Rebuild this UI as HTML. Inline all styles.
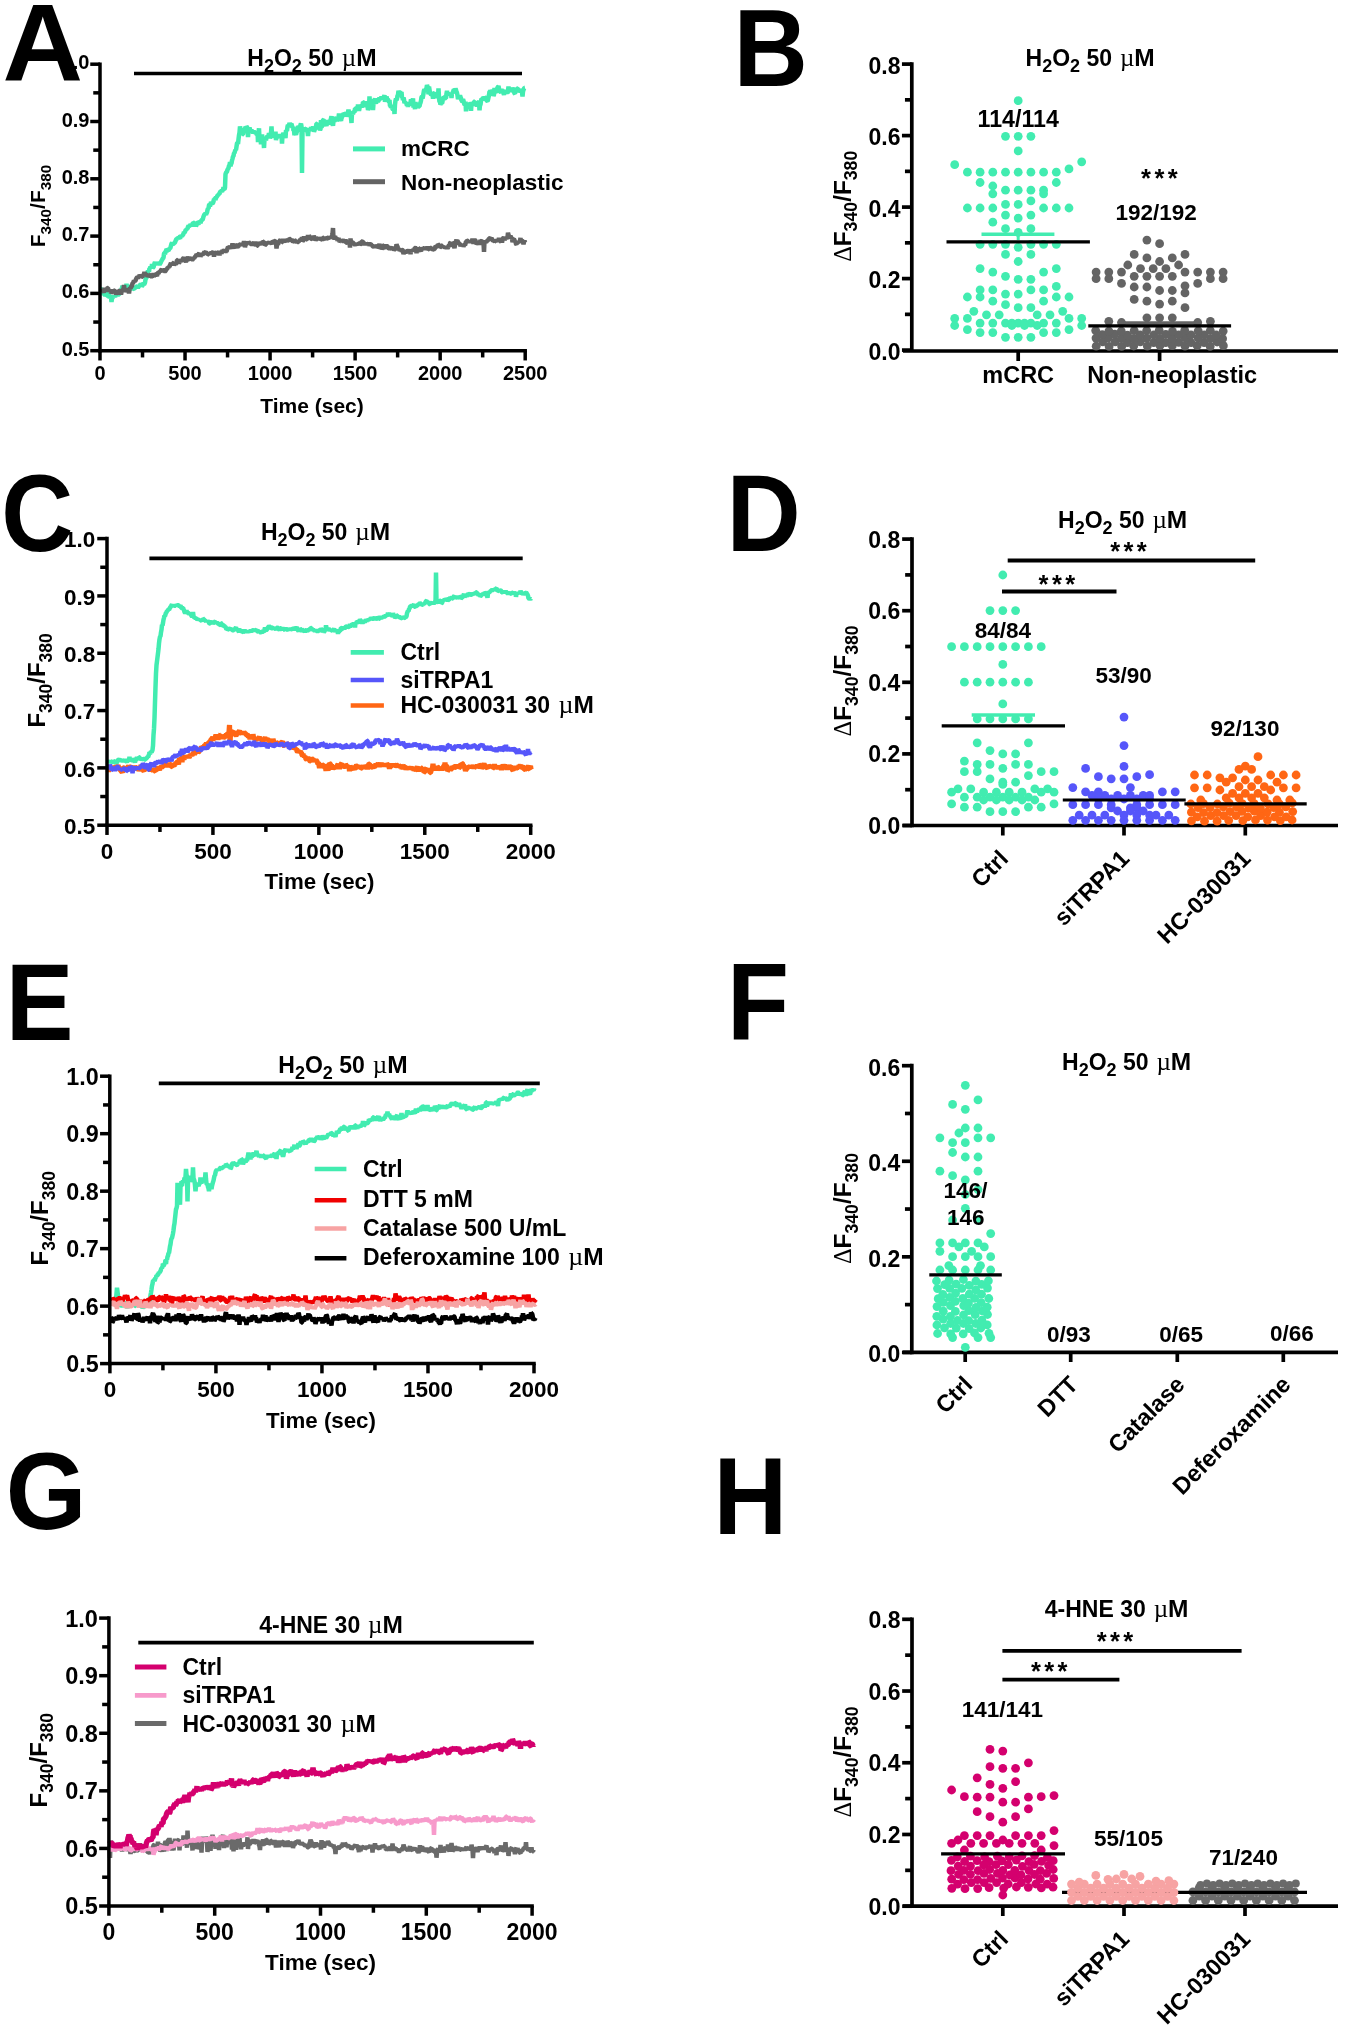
<!DOCTYPE html>
<html><head><meta charset="utf-8"><style>
html,body{margin:0;padding:0;background:#fff;}
svg{display:block;will-change:transform;}
text{font-family:"Liberation Sans", sans-serif;}
</style></head><body>
<svg width="1350" height="2030" viewBox="0 0 1350 2030">
<rect width="1350" height="2030" fill="#fff"/>
<path d="M101.0 288.8 101.5 288.5 102.0 290.3 102.5 290.1 103.0 292.8 103.5 295.1 104.0 292.9 104.5 294.7 105.0 295.1 105.5 293.8 106.0 292.7 106.5 292.4 107.0 296.5 107.5 295.7 108.0 296.4 108.5 295.7 109.0 293.1 109.5 298.3 110.0 297.2 110.5 295.9 111.0 297.2 111.5 302.0 112.0 298.3 112.5 298.5 113.0 296.5 113.5 297.0 114.0 296.0 114.5 296.9 115.0 295.5 115.5 296.1 116.0 295.5 116.5 296.0 117.0 293.7 117.5 294.2 118.0 293.6 118.5 293.7 119.0 294.5 119.5 294.5 120.0 290.8 120.5 292.8 121.0 290.4 121.5 288.9 122.0 288.1 122.5 285.6 123.0 287.2 123.5 287.1 124.0 287.9 124.5 287.3 125.0 288.4 125.5 288.0 126.0 288.8 126.5 283.7 127.0 287.7 127.5 289.7 128.0 289.8 128.5 289.3 129.0 288.4 129.5 288.8 130.0 287.3 130.5 286.9 131.0 285.0 131.5 286.8 132.0 287.2 132.5 287.1 133.0 290.5 133.5 287.1 134.0 288.9 134.5 289.2 135.0 287.6 135.5 288.3 136.0 286.6 136.5 286.6 137.0 287.1 137.5 286.6 138.0 287.7 138.5 286.9 139.0 285.9 139.5 285.9 140.0 284.7 140.5 284.7 141.0 283.9 141.5 284.7 142.0 286.2 142.5 285.7 143.0 284.1 143.5 283.0 144.0 284.7 144.5 283.7 145.0 282.7 145.5 279.6 146.0 278.3 146.5 277.7 147.0 276.0 147.5 272.7 148.0 270.6 148.5 271.2 149.0 271.7 149.5 268.0 150.0 268.6 150.5 266.5 151.0 267.3 151.5 268.5 152.0 264.0 152.5 268.0 153.0 267.5 153.5 267.3 154.0 265.5 154.5 263.3 155.0 262.1 155.5 263.9 156.0 264.0 156.5 263.1 157.0 264.5 157.5 262.5 158.0 263.0 158.5 264.7 159.0 263.7 159.5 265.0 160.0 263.6 160.5 263.3 161.0 262.0 161.5 260.7 162.0 260.1 162.5 258.9 163.0 258.4 163.5 257.8 164.0 253.9 164.5 252.7 165.0 254.2 165.5 251.8 166.0 251.0 166.5 249.2 167.0 249.7 167.5 250.6 168.0 250.4 168.5 250.6 169.0 249.5 169.5 248.5 170.0 248.5 170.5 247.6 171.0 245.5 171.5 243.7 172.0 243.2 172.5 244.8 173.0 244.0 173.5 243.9 174.0 243.2 174.5 243.0 175.0 242.5 175.5 241.1 176.0 239.8 176.5 239.0 177.0 238.9 177.5 238.3 178.0 238.1 178.5 239.0 179.0 237.4 179.5 237.2 180.0 238.6 180.5 236.7 181.0 235.2 181.5 236.2 182.0 236.7 182.5 235.1 183.0 234.8 183.5 233.7 184.0 231.7 184.5 232.4 185.0 231.9 185.5 230.4 186.0 229.7 186.5 229.8 187.0 228.4 187.5 229.0 188.0 226.7 188.5 226.2 189.0 226.9 189.5 225.5 190.0 226.0 190.5 224.1 191.0 224.9 191.5 226.3 192.0 224.2 192.5 224.9 193.0 222.5 193.5 222.7 194.0 224.1 194.5 224.9 195.0 226.3 195.5 224.1 196.0 225.8 196.5 225.2 197.0 223.5 197.5 222.0 198.0 222.3 198.5 223.6 199.0 223.1 199.5 222.9 200.0 221.4 200.5 223.4 201.0 221.0 201.5 220.4 202.0 219.9 202.5 219.7 203.0 218.6 203.5 216.5 204.0 215.3 204.5 214.4 205.0 214.1 205.5 213.3 206.0 214.7 206.5 213.2 207.0 212.5 207.5 210.0 208.0 208.3 208.5 208.6 209.0 205.2 209.5 204.2 210.0 205.9 210.5 204.9 211.0 202.0 211.5 203.1 212.0 203.3 212.5 203.5 213.0 203.0 213.5 201.6 214.0 199.0 214.5 199.2 215.0 198.3 215.5 200.2 216.0 196.6 216.5 197.0 217.0 196.7 217.5 195.1 218.0 195.4 218.5 194.5 219.0 193.9 219.5 193.9 220.0 192.2 220.5 191.4 221.0 191.3 221.5 190.8 222.0 191.8 222.5 190.4 223.0 189.6 223.5 187.1 224.0 189.2 224.5 189.3 225.0 187.6 225.5 174.2 226.0 172.7 226.5 172.2 227.0 171.7 227.5 169.4 228.0 169.0 228.5 168.0 229.0 165.8 229.5 165.3 230.0 162.0 230.5 166.4 231.0 163.8 231.5 163.3 232.0 160.4 232.5 158.8 233.0 156.5 233.5 156.0 234.0 153.1 234.5 152.9 235.0 151.0 235.5 149.8 236.0 150.0 236.5 146.7 237.0 143.4 237.5 142.7 238.0 144.1 238.5 139.3 239.0 135.3 239.5 132.8 240.0 126.4 240.5 129.0 241.0 130.4 241.5 131.4 242.0 131.6 242.5 134.3 243.0 134.2 243.5 131.2 244.0 129.9 244.5 129.6 245.0 129.2 245.5 126.8 246.0 128.9 246.5 126.6 247.0 127.1 247.5 128.4 248.0 137.0 248.5 130.8 249.0 128.8 249.5 127.4 250.0 129.5 250.5 130.5 251.0 131.9 251.5 130.2 252.0 131.0 252.5 132.0 253.0 132.6 253.5 130.5 254.0 133.4 254.5 132.8 255.0 132.7 255.5 132.8 256.0 133.4 256.5 132.6 257.0 135.3 257.5 131.0 258.0 142.1 258.5 133.4 259.0 128.3 259.5 139.0 260.0 138.4 260.5 137.6 261.0 144.4 261.5 138.9 262.0 134.5 262.5 137.6 263.0 139.7 263.5 139.5 264.0 148.0 264.5 139.0 265.0 139.6 265.5 138.5 266.0 140.3 266.5 137.0 267.0 137.3 267.5 135.8 268.0 137.9 268.5 135.5 269.0 133.2 269.5 135.8 270.0 137.9 270.5 137.0 271.0 132.6 271.5 126.5 272.0 135.1 272.5 134.2 273.0 133.8 273.5 134.2 274.0 137.6 274.5 136.8 275.0 136.5 275.5 131.6 276.0 140.2 276.5 136.0 277.0 137.2 277.5 137.1 278.0 136.3 278.5 136.6 279.0 137.5 279.5 136.0 280.0 134.2 280.5 136.9 281.0 136.8 281.5 135.1 282.0 143.6 282.5 135.0 283.0 134.3 283.5 132.9 284.0 135.4 284.5 137.1 285.0 135.1 285.5 138.0 286.0 130.3 286.5 130.5 287.0 131.1 287.5 126.7 288.0 125.0 288.5 126.3 289.0 126.6 289.5 122.8 290.0 124.7 290.5 124.2 291.0 124.6 291.5 123.7 292.0 125.9 292.5 127.7 293.0 126.8 293.5 130.8 294.0 130.5 294.5 135.2 295.0 129.4 295.5 133.7 296.0 134.6 296.5 132.7 297.0 131.3 297.5 128.2 298.0 126.2 298.5 126.8 299.0 128.2 299.5 130.2 300.0 130.1 300.5 124.8 301.0 123.7 301.5 126.5 302.0 172.9 302.5 130.4 303.0 129.1 303.5 129.5 304.0 127.5 304.5 129.5 305.0 128.5 305.5 130.0 306.0 128.8 306.5 128.5 307.0 131.6 307.5 131.6 308.0 136.1 308.5 130.3 309.0 131.1 309.5 129.5 310.0 129.9 310.5 129.9 311.0 127.1 311.5 128.4 312.0 128.3 312.5 128.4 313.0 128.0 313.5 126.7 314.0 131.8 314.5 130.3 315.0 128.9 315.5 127.5 316.0 126.3 316.5 123.7 317.0 123.6 317.5 127.1 318.0 124.4 318.5 127.0 319.0 129.1 319.5 128.6 320.0 130.1 320.5 129.0 321.0 120.2 321.5 127.1 322.0 126.3 322.5 122.3 323.0 120.1 323.5 119.8 324.0 121.2 324.5 122.1 325.0 123.9 325.5 124.1 326.0 124.3 326.5 126.1 327.0 120.0 327.5 124.2 328.0 120.7 328.5 122.5 329.0 123.5 329.5 123.1 330.0 119.8 330.5 120.6 331.0 118.3 331.5 116.2 332.0 119.9 332.5 121.7 333.0 125.9 333.5 120.7 334.0 119.7 334.5 121.6 335.0 119.9 335.5 118.4 336.0 117.4 336.5 118.3 337.0 117.4 337.5 119.8 338.0 119.7 338.5 117.9 339.0 113.4 339.5 121.1 340.0 118.8 340.5 118.6 341.0 120.8 341.5 118.0 342.0 117.4 342.5 115.7 343.0 116.3 343.5 113.1 344.0 113.6 344.5 114.7 345.0 113.3 345.5 114.9 346.0 114.1 346.5 113.9 347.0 116.7 347.5 114.8 348.0 112.2 348.5 109.7 349.0 112.6 349.5 111.7 350.0 115.9 350.5 112.2 351.0 117.9 351.5 123.0 352.0 112.9 352.5 112.8 353.0 114.2 353.5 112.4 354.0 111.6 354.5 112.5 355.0 108.6 355.5 108.6 356.0 110.1 356.5 110.5 357.0 108.1 357.5 109.9 358.0 104.4 358.5 108.9 359.0 110.7 359.5 108.3 360.0 106.3 360.5 105.0 361.0 106.2 361.5 105.7 362.0 106.5 362.5 106.0 363.0 102.1 363.5 102.3 364.0 107.0 364.5 104.3 365.0 104.1 365.5 107.2 366.0 101.1 366.5 104.3 367.0 102.9 367.5 105.2 368.0 109.9 368.5 108.7 369.0 107.8 369.5 96.4 370.0 104.3 370.5 99.6 371.0 107.9 371.5 99.9 372.0 100.7 372.5 103.1 373.0 110.0 373.5 103.4 374.0 101.8 374.5 100.3 375.0 98.4 375.5 102.5 376.0 103.7 376.5 100.2 377.0 100.3 377.5 100.0 378.0 101.5 378.5 100.7 379.0 100.0 379.5 97.3 380.0 99.5 380.5 98.4 381.0 98.6 381.5 96.6 382.0 97.8 382.5 98.0 383.0 99.1 383.5 97.3 384.0 96.7 384.5 95.1 385.0 101.9 385.5 98.6 386.0 99.3 386.5 96.6 387.0 98.5 387.5 99.1 388.0 99.2 388.5 101.3 389.0 101.6 389.5 99.9 390.0 106.0 390.5 106.0 391.0 107.4 391.5 106.4 392.0 107.1 392.5 109.0 393.0 109.5 393.5 106.6 394.0 105.9 394.5 114.0 395.0 104.4 395.5 100.5 396.0 98.7 396.5 99.8 397.0 98.9 397.5 95.5 398.0 95.1 398.5 90.7 399.0 94.0 399.5 94.6 400.0 91.4 400.5 93.2 401.0 93.5 401.5 92.0 402.0 97.6 402.5 97.6 403.0 100.1 403.5 97.6 404.0 99.6 404.5 103.1 405.0 101.8 405.5 103.0 406.0 102.4 406.5 103.9 407.0 105.5 407.5 104.5 408.0 106.8 408.5 104.3 409.0 104.1 409.5 102.5 410.0 105.6 410.5 102.6 411.0 99.4 411.5 101.4 412.0 101.8 412.5 102.7 413.0 98.3 413.5 107.6 414.0 103.5 414.5 104.7 415.0 109.2 415.5 101.9 416.0 107.9 416.5 106.4 417.0 106.9 417.5 106.4 418.0 105.8 418.5 106.6 419.0 106.5 419.5 106.4 420.0 103.9 420.5 102.6 421.0 100.7 421.5 97.0 422.0 96.5 422.5 98.4 423.0 96.5 423.5 93.3 424.0 90.4 424.5 89.4 425.0 90.3 425.5 90.6 426.0 89.3 426.5 88.1 427.0 85.0 427.5 86.6 428.0 89.1 428.5 94.4 429.0 86.6 429.5 89.6 430.0 93.2 430.5 93.6 431.0 95.0 431.5 94.8 432.0 94.4 432.5 93.7 433.0 98.8 433.5 93.3 434.0 93.1 434.5 94.0 435.0 94.1 435.5 98.1 436.0 95.3 436.5 95.1 437.0 95.0 437.5 94.5 438.0 96.8 438.5 88.3 439.0 97.7 439.5 101.6 440.0 102.0 440.5 104.5 441.0 103.4 441.5 103.3 442.0 103.6 442.5 101.5 443.0 96.7 443.5 98.4 444.0 97.2 444.5 97.2 445.0 97.4 445.5 98.2 446.0 98.2 446.5 93.6 447.0 90.9 447.5 94.8 448.0 93.7 448.5 94.9 449.0 93.5 449.5 92.9 450.0 95.1 450.5 95.0 451.0 93.2 451.5 98.0 452.0 92.5 452.5 93.1 453.0 92.1 453.5 90.5 454.0 89.5 454.5 91.5 455.0 90.4 455.5 88.6 456.0 90.0 456.5 91.5 457.0 92.9 457.5 95.4 458.0 99.1 458.5 97.2 459.0 96.6 459.5 97.0 460.0 95.4 460.5 97.2 461.0 98.3 461.5 100.8 462.0 100.7 462.5 102.3 463.0 99.2 463.5 100.7 464.0 103.3 464.5 104.6 465.0 104.5 465.5 101.7 466.0 111.3 466.5 105.4 467.0 107.4 467.5 104.4 468.0 104.6 468.5 104.4 469.0 103.0 469.5 109.1 470.0 104.0 470.5 103.6 471.0 110.9 471.5 104.3 472.0 102.3 472.5 104.3 473.0 102.3 473.5 105.5 474.0 101.6 474.5 101.5 475.0 104.3 475.5 105.1 476.0 102.9 476.5 103.7 477.0 106.5 477.5 102.8 478.0 103.1 478.5 102.3 479.0 102.0 479.5 110.4 480.0 105.1 480.5 104.6 481.0 100.9 481.5 98.7 482.0 98.9 482.5 100.4 483.0 98.3 483.5 97.4 484.0 97.9 484.5 98.4 485.0 98.5 485.5 97.8 486.0 97.8 486.5 100.2 487.0 100.8 487.5 101.1 488.0 99.8 488.5 97.5 489.0 95.0 489.5 91.7 490.0 91.5 490.5 92.9 491.0 94.5 491.5 91.7 492.0 93.3 492.5 89.6 493.0 93.9 493.5 95.8 494.0 94.7 494.5 87.9 495.0 92.4 495.5 91.8 496.0 92.9 496.5 89.1 497.0 89.7 497.5 87.1 498.0 87.1 498.5 85.9 499.0 88.6 499.5 91.7 500.0 91.7 500.5 90.9 501.0 90.6 501.5 89.2 502.0 90.5 502.5 89.7 503.0 91.7 503.5 93.3 504.0 94.7 504.5 93.1 505.0 92.1 505.5 91.7 506.0 89.9 506.5 93.0 507.0 92.4 507.5 93.3 508.0 91.3 508.5 86.5 509.0 91.6 509.5 90.5 510.0 90.1 510.5 89.0 511.0 88.5 511.5 91.4 512.0 89.2 512.5 88.0 513.0 89.0 513.5 92.1 514.0 91.9 514.5 93.3 515.0 93.8 515.5 90.3 516.0 89.5 516.5 89.7 517.0 88.5 517.5 88.5 518.0 88.4 518.5 90.6 519.0 90.9 519.5 90.8 520.0 89.1 520.5 90.3 521.0 90.5 521.5 89.3 522.0 91.8 522.5 96.6 523.0 91.5 523.5 89.9 524.0 88.5 524.5 87.9 525.0 87.8" fill="none" stroke="#42ECB0" stroke-width="4.5" stroke-linejoin="bevel"/>
<path d="M101.0 289.9 101.5 290.3 102.0 291.4 102.5 289.2 103.0 291.2 103.5 291.0 104.0 292.8 104.5 287.7 105.0 290.2 105.5 290.2 106.0 291.3 106.5 288.6 107.0 288.5 107.5 288.0 108.0 288.0 108.5 290.1 109.0 291.6 109.5 290.4 110.0 290.5 110.5 290.2 111.0 293.0 111.5 292.4 112.0 291.9 112.5 291.0 113.0 290.2 113.5 291.2 114.0 291.0 114.5 290.6 115.0 290.5 115.5 292.7 116.0 294.4 116.5 293.3 117.0 292.0 117.5 292.3 118.0 294.4 118.5 292.3 119.0 290.9 119.5 290.5 120.0 291.0 120.5 290.9 121.0 294.6 121.5 292.2 122.0 289.9 122.5 291.7 123.0 289.3 123.5 289.2 124.0 285.1 124.5 289.3 125.0 288.8 125.5 290.4 126.0 291.1 126.5 290.6 127.0 289.8 127.5 290.0 128.0 290.3 128.5 288.6 129.0 293.5 129.5 289.7 130.0 287.5 130.5 288.8 131.0 286.9 131.5 286.3 132.0 285.8 132.5 283.2 133.0 283.0 133.5 282.1 134.0 280.4 134.5 281.9 135.0 280.8 135.5 280.9 136.0 279.2 136.5 278.1 137.0 277.5 137.5 277.0 138.0 278.7 138.5 276.2 139.0 276.3 139.5 275.4 140.0 276.0 140.5 276.1 141.0 276.6 141.5 275.7 142.0 276.8 142.5 276.8 143.0 275.2 143.5 274.9 144.0 274.2 144.5 271.9 145.0 274.5 145.5 275.1 146.0 274.3 146.5 274.5 147.0 274.4 147.5 276.8 148.0 276.0 148.5 274.5 149.0 275.7 149.5 274.0 150.0 274.9 150.5 274.7 151.0 276.9 151.5 276.5 152.0 277.3 152.5 276.0 153.0 276.2 153.5 273.1 154.0 276.1 154.5 275.6 155.0 274.5 155.5 274.5 156.0 274.4 156.5 275.2 157.0 276.1 157.5 273.2 158.0 273.0 158.5 273.3 159.0 272.4 159.5 271.5 160.0 271.6 160.5 271.9 161.0 269.9 161.5 269.6 162.0 271.5 162.5 270.8 163.0 269.0 163.5 269.8 164.0 271.2 164.5 271.0 165.0 271.4 165.5 271.0 166.0 270.3 166.5 269.0 167.0 268.8 167.5 268.2 168.0 267.0 168.5 267.6 169.0 266.3 169.5 267.0 170.0 264.9 170.5 264.1 171.0 263.1 171.5 264.8 172.0 263.1 172.5 265.0 173.0 263.0 173.5 262.9 174.0 265.3 174.5 264.1 175.0 262.9 175.5 263.7 176.0 264.4 176.5 263.2 177.0 260.1 177.5 260.0 178.0 261.6 178.5 261.4 179.0 262.9 179.5 262.4 180.0 260.7 180.5 260.6 181.0 261.9 181.5 259.8 182.0 260.6 182.5 260.2 183.0 258.4 183.5 258.1 184.0 258.8 184.5 259.1 185.0 259.2 185.5 261.0 186.0 261.6 186.5 260.7 187.0 256.7 187.5 258.0 188.0 257.5 188.5 258.6 189.0 259.2 189.5 259.3 190.0 258.5 190.5 258.4 191.0 258.7 191.5 258.5 192.0 259.2 192.5 259.5 193.0 259.2 193.5 257.4 194.0 258.7 194.5 257.5 195.0 256.9 195.5 256.3 196.0 256.4 196.5 254.1 197.0 256.8 197.5 253.9 198.0 254.2 198.5 253.9 199.0 253.6 199.5 254.9 200.0 253.0 200.5 256.7 201.0 255.4 201.5 254.4 202.0 254.7 202.5 255.5 203.0 253.0 203.5 253.6 204.0 252.7 204.5 252.2 205.0 253.8 205.5 252.2 206.0 251.7 206.5 253.2 207.0 253.0 207.5 254.6 208.0 254.4 208.5 252.4 209.0 254.5 209.5 253.2 210.0 253.4 210.5 253.6 211.0 252.4 211.5 254.0 212.0 252.5 212.5 252.4 213.0 252.4 213.5 253.5 214.0 256.7 214.5 253.3 215.0 252.7 215.5 251.2 216.0 253.1 216.5 252.5 217.0 251.8 217.5 255.2 218.0 252.0 218.5 252.4 219.0 251.9 219.5 255.3 220.0 252.7 220.5 251.8 221.0 252.4 221.5 253.7 222.0 251.8 222.5 250.2 223.0 251.1 223.5 251.4 224.0 249.4 224.5 250.5 225.0 249.9 225.5 252.4 226.0 251.3 226.5 251.8 227.0 249.8 227.5 248.4 228.0 247.1 228.5 247.3 229.0 248.6 229.5 247.5 230.0 248.9 230.5 245.7 231.0 247.4 231.5 246.3 232.0 246.3 232.5 243.3 233.0 247.3 233.5 248.1 234.0 246.8 234.5 245.9 235.0 246.2 235.5 244.5 236.0 245.1 236.5 245.4 237.0 246.6 237.5 247.1 238.0 246.4 238.5 246.2 239.0 245.1 239.5 244.8 240.0 245.5 240.5 244.2 241.0 243.5 241.5 245.8 242.0 244.6 242.5 244.5 243.0 243.6 243.5 244.5 244.0 241.2 244.5 243.8 245.0 247.3 245.5 244.5 246.0 244.6 246.5 243.4 247.0 243.0 247.5 241.4 248.0 244.3 248.5 241.4 249.0 243.4 249.5 243.1 250.0 243.1 250.5 243.0 251.0 245.1 251.5 244.3 252.0 244.9 252.5 243.3 253.0 243.3 253.5 244.8 254.0 244.5 254.5 242.6 255.0 243.6 255.5 242.0 256.0 243.3 256.5 243.6 257.0 245.8 257.5 245.7 258.0 244.1 258.5 243.1 259.0 244.8 259.5 243.6 260.0 242.5 260.5 243.0 261.0 243.0 261.5 243.5 262.0 243.4 262.5 242.6 263.0 241.7 263.5 241.9 264.0 241.8 264.5 243.6 265.0 245.0 265.5 244.7 266.0 244.5 266.5 241.7 267.0 243.0 267.5 243.0 268.0 242.5 268.5 243.8 269.0 242.5 269.5 242.0 270.0 243.2 270.5 241.9 271.0 243.2 271.5 243.6 272.0 242.8 272.5 241.3 273.0 241.5 273.5 242.6 274.0 242.5 274.5 240.9 275.0 240.9 275.5 241.7 276.0 242.3 276.5 248.5 277.0 244.6 277.5 243.9 278.0 244.6 278.5 242.8 279.0 241.3 279.5 241.3 280.0 240.3 280.5 239.8 281.0 242.3 281.5 239.9 282.0 242.2 282.5 242.1 283.0 238.9 283.5 241.3 284.0 242.4 284.5 240.4 285.0 242.2 285.5 240.4 286.0 240.5 286.5 240.4 287.0 240.3 287.5 239.9 288.0 240.4 288.5 240.4 289.0 239.6 289.5 238.9 290.0 239.0 290.5 240.0 291.0 240.4 291.5 238.8 292.0 240.4 292.5 240.1 293.0 242.7 293.5 241.5 294.0 241.7 294.5 240.1 295.0 240.5 295.5 241.4 296.0 241.4 296.5 241.8 297.0 242.4 297.5 240.8 298.0 242.1 298.5 242.2 299.0 240.1 299.5 240.7 300.0 240.8 300.5 238.7 301.0 239.6 301.5 238.9 302.0 237.4 302.5 239.6 303.0 240.7 303.5 240.4 304.0 236.3 304.5 239.7 305.0 240.0 305.5 238.1 306.0 236.9 306.5 238.4 307.0 239.4 307.5 239.6 308.0 234.9 308.5 238.7 309.0 235.9 309.5 236.4 310.0 237.1 310.5 236.7 311.0 238.5 311.5 238.9 312.0 239.0 312.5 238.1 313.0 238.1 313.5 237.2 314.0 236.6 314.5 237.1 315.0 238.6 315.5 240.5 316.0 239.6 316.5 239.2 317.0 238.9 317.5 238.6 318.0 238.6 318.5 237.7 319.0 239.3 319.5 237.6 320.0 238.4 320.5 239.8 321.0 239.5 321.5 238.6 322.0 240.6 322.5 239.1 323.0 237.8 323.5 237.8 324.0 239.2 324.5 239.9 325.0 238.2 325.5 238.4 326.0 237.6 326.5 238.8 327.0 237.6 327.5 237.7 328.0 238.6 328.5 238.9 329.0 237.0 329.5 238.6 330.0 236.6 330.5 237.1 331.0 238.1 331.5 237.0 332.0 237.4 332.5 233.6 333.0 228.0 333.5 239.2 334.0 238.0 334.5 239.0 335.0 236.1 335.5 237.9 336.0 239.0 336.5 238.3 337.0 238.0 337.5 240.8 338.0 239.4 338.5 238.0 339.0 240.6 339.5 241.4 340.0 241.1 340.5 240.9 341.0 241.3 341.5 240.5 342.0 241.4 342.5 239.3 343.0 240.6 343.5 240.2 344.0 242.7 344.5 239.7 345.0 241.2 345.5 239.4 346.0 242.8 346.5 242.8 347.0 242.1 347.5 242.3 348.0 242.5 348.5 243.0 349.0 242.9 349.5 242.3 350.0 247.6 350.5 238.4 351.0 243.1 351.5 242.7 352.0 241.3 352.5 242.5 353.0 242.8 353.5 243.3 354.0 243.6 354.5 244.5 355.0 245.0 355.5 244.4 356.0 244.1 356.5 245.4 357.0 243.3 357.5 243.9 358.0 244.3 358.5 243.0 359.0 243.5 359.5 243.1 360.0 243.7 360.5 244.1 361.0 243.9 361.5 241.6 362.0 241.6 362.5 241.5 363.0 242.1 363.5 242.7 364.0 245.0 364.5 243.3 365.0 243.2 365.5 244.5 366.0 243.4 366.5 244.5 367.0 243.9 367.5 244.0 368.0 243.9 368.5 244.3 369.0 244.2 369.5 244.2 370.0 244.5 370.5 244.3 371.0 244.3 371.5 245.1 372.0 245.0 372.5 246.2 373.0 246.4 373.5 246.4 374.0 247.1 374.5 246.5 375.0 245.7 375.5 246.2 376.0 245.1 376.5 246.6 377.0 246.6 377.5 245.3 378.0 248.1 378.5 247.4 379.0 245.2 379.5 244.0 380.0 246.3 380.5 246.0 381.0 246.1 381.5 246.5 382.0 249.3 382.5 248.1 383.0 247.4 383.5 245.5 384.0 245.3 384.5 248.0 385.0 248.5 385.5 245.9 386.0 244.8 386.5 246.3 387.0 245.9 387.5 246.6 388.0 247.5 388.5 247.9 389.0 249.2 389.5 248.6 390.0 249.5 390.5 247.9 391.0 247.5 391.5 248.0 392.0 247.3 392.5 248.2 393.0 247.4 393.5 248.5 394.0 250.3 394.5 249.4 395.0 249.4 395.5 248.5 396.0 248.3 396.5 244.2 397.0 245.8 397.5 246.7 398.0 248.1 398.5 249.3 399.0 248.1 399.5 250.9 400.0 250.2 400.5 250.1 401.0 250.4 401.5 248.8 402.0 250.0 402.5 250.0 403.0 250.8 403.5 254.2 404.0 251.9 404.5 251.4 405.0 251.8 405.5 253.4 406.0 251.9 406.5 251.7 407.0 251.2 407.5 251.0 408.0 251.3 408.5 250.7 409.0 249.6 409.5 251.4 410.0 250.8 410.5 254.3 411.0 250.4 411.5 251.8 412.0 249.8 412.5 250.6 413.0 249.9 413.5 250.2 414.0 250.5 414.5 248.7 415.0 248.1 415.5 247.9 416.0 248.2 416.5 253.2 417.0 249.6 417.5 249.0 418.0 249.6 418.5 250.0 419.0 248.3 419.5 248.5 420.0 248.3 420.5 250.5 421.0 251.2 421.5 249.4 422.0 248.5 422.5 248.9 423.0 248.1 423.5 248.3 424.0 248.5 424.5 248.1 425.0 247.5 425.5 248.7 426.0 248.5 426.5 249.6 427.0 248.3 427.5 246.8 428.0 248.1 428.5 249.3 429.0 249.3 429.5 247.1 430.0 247.7 430.5 249.1 431.0 248.0 431.5 247.9 432.0 249.0 432.5 249.8 433.0 249.5 433.5 248.7 434.0 249.2 434.5 248.9 435.0 248.2 435.5 245.9 436.0 246.2 436.5 246.6 437.0 246.4 437.5 246.3 438.0 244.3 438.5 244.7 439.0 245.9 439.5 245.6 440.0 247.4 440.5 247.1 441.0 245.4 441.5 245.6 442.0 246.6 442.5 245.6 443.0 247.1 443.5 246.9 444.0 246.2 444.5 247.7 445.0 246.8 445.5 248.4 446.0 247.5 446.5 248.0 447.0 247.4 447.5 248.3 448.0 247.5 448.5 246.0 449.0 245.1 449.5 247.0 450.0 243.0 450.5 242.6 451.0 244.3 451.5 243.6 452.0 245.1 452.5 244.7 453.0 243.0 453.5 243.1 454.0 246.2 454.5 248.2 455.0 244.2 455.5 244.0 456.0 242.4 456.5 239.5 457.0 242.8 457.5 240.1 458.0 244.3 458.5 243.1 459.0 244.0 459.5 243.7 460.0 243.9 460.5 246.2 461.0 244.8 461.5 244.1 462.0 245.8 462.5 244.7 463.0 245.3 463.5 246.3 464.0 245.4 464.5 244.5 465.0 245.3 465.5 243.7 466.0 241.6 466.5 241.6 467.0 240.7 467.5 240.8 468.0 241.3 468.5 242.4 469.0 240.8 469.5 242.7 470.0 241.2 470.5 242.5 471.0 241.3 471.5 241.8 472.0 240.9 472.5 238.7 473.0 241.8 473.5 243.8 474.0 240.3 474.5 239.6 475.0 240.2 475.5 240.6 476.0 242.6 476.5 243.9 477.0 243.4 477.5 243.8 478.0 241.2 478.5 242.6 479.0 242.8 479.5 244.7 480.0 242.2 480.5 239.9 481.0 241.4 481.5 241.1 482.0 240.8 482.5 242.2 483.0 241.3 483.5 242.3 484.0 252.0 484.5 240.3 485.0 241.9 485.5 240.4 486.0 242.7 486.5 241.5 487.0 241.6 487.5 240.1 488.0 240.0 488.5 239.8 489.0 238.4 489.5 238.3 490.0 238.5 490.5 238.8 491.0 239.4 491.5 238.3 492.0 239.0 492.5 240.3 493.0 240.9 493.5 240.3 494.0 241.0 494.5 241.3 495.0 240.0 495.5 241.2 496.0 241.2 496.5 241.7 497.0 239.3 497.5 241.3 498.0 239.9 498.5 240.1 499.0 237.9 499.5 239.8 500.0 239.9 500.5 241.3 501.0 241.7 501.5 240.2 502.0 242.5 502.5 239.7 503.0 238.3 503.5 237.9 504.0 236.9 504.5 239.9 505.0 239.1 505.5 238.4 506.0 238.7 506.5 237.8 507.0 238.4 507.5 237.6 508.0 232.7 508.5 234.9 509.0 236.1 509.5 236.5 510.0 237.1 510.5 236.2 511.0 237.0 511.5 238.5 512.0 237.6 512.5 242.3 513.0 239.8 513.5 239.2 514.0 239.1 514.5 240.5 515.0 241.3 515.5 241.8 516.0 243.9 516.5 244.4 517.0 242.6 517.5 242.9 518.0 242.3 518.5 242.6 519.0 241.3 519.5 242.1 520.0 240.7 520.5 238.0 521.0 241.4 521.5 240.4 522.0 240.1 522.5 241.5 523.0 241.5 523.5 244.4 524.0 241.9 524.5 240.5 525.0 242.3" fill="none" stroke="#646464" stroke-width="4.5" stroke-linejoin="bevel"/>
<line x1="100.00" y1="62.45" x2="100.00" y2="352.45" stroke="#000" stroke-width="3.5" stroke-linecap="butt"/>
<line x1="90.25" y1="350.70" x2="100.00" y2="350.70" stroke="#000" stroke-width="3.5" stroke-linecap="butt"/>
<text x="89.5" y="355.7" font-size="20" text-anchor="end" font-weight="bold" >0.5</text>
<line x1="90.25" y1="293.40" x2="100.00" y2="293.40" stroke="#000" stroke-width="3.5" stroke-linecap="butt"/>
<text x="89.5" y="298.4" font-size="20" text-anchor="end" font-weight="bold" >0.6</text>
<line x1="90.25" y1="236.10" x2="100.00" y2="236.10" stroke="#000" stroke-width="3.5" stroke-linecap="butt"/>
<text x="89.5" y="241.1" font-size="20" text-anchor="end" font-weight="bold" >0.7</text>
<line x1="90.25" y1="178.80" x2="100.00" y2="178.80" stroke="#000" stroke-width="3.5" stroke-linecap="butt"/>
<text x="89.5" y="183.8" font-size="20" text-anchor="end" font-weight="bold" >0.8</text>
<line x1="90.25" y1="121.50" x2="100.00" y2="121.50" stroke="#000" stroke-width="3.5" stroke-linecap="butt"/>
<text x="89.5" y="126.5" font-size="20" text-anchor="end" font-weight="bold" >0.9</text>
<line x1="90.25" y1="64.20" x2="100.00" y2="64.20" stroke="#000" stroke-width="3.5" stroke-linecap="butt"/>
<text x="89.5" y="69.2" font-size="20" text-anchor="end" font-weight="bold" >1.0</text>
<line x1="93.25" y1="322.05" x2="100.00" y2="322.05" stroke="#000" stroke-width="3.5" stroke-linecap="butt"/>
<line x1="93.25" y1="264.75" x2="100.00" y2="264.75" stroke="#000" stroke-width="3.5" stroke-linecap="butt"/>
<line x1="93.25" y1="207.45" x2="100.00" y2="207.45" stroke="#000" stroke-width="3.5" stroke-linecap="butt"/>
<line x1="93.25" y1="150.15" x2="100.00" y2="150.15" stroke="#000" stroke-width="3.5" stroke-linecap="butt"/>
<line x1="93.25" y1="92.85" x2="100.00" y2="92.85" stroke="#000" stroke-width="3.5" stroke-linecap="butt"/>
<line x1="98.25" y1="350.70" x2="526.95" y2="350.70" stroke="#000" stroke-width="3.5" stroke-linecap="butt"/>
<line x1="100.00" y1="350.70" x2="100.00" y2="360.45" stroke="#000" stroke-width="3.5" stroke-linecap="butt"/>
<text x="100.0" y="380.3" font-size="20" text-anchor="middle" font-weight="bold" >0</text>
<line x1="185.04" y1="350.70" x2="185.04" y2="360.45" stroke="#000" stroke-width="3.5" stroke-linecap="butt"/>
<text x="185.0" y="380.3" font-size="20" text-anchor="middle" font-weight="bold" >500</text>
<line x1="270.08" y1="350.70" x2="270.08" y2="360.45" stroke="#000" stroke-width="3.5" stroke-linecap="butt"/>
<text x="270.1" y="380.3" font-size="20" text-anchor="middle" font-weight="bold" >1000</text>
<line x1="355.12" y1="350.70" x2="355.12" y2="360.45" stroke="#000" stroke-width="3.5" stroke-linecap="butt"/>
<text x="355.1" y="380.3" font-size="20" text-anchor="middle" font-weight="bold" >1500</text>
<line x1="440.16" y1="350.70" x2="440.16" y2="360.45" stroke="#000" stroke-width="3.5" stroke-linecap="butt"/>
<text x="440.2" y="380.3" font-size="20" text-anchor="middle" font-weight="bold" >2000</text>
<line x1="525.20" y1="350.70" x2="525.20" y2="360.45" stroke="#000" stroke-width="3.5" stroke-linecap="butt"/>
<text x="525.2" y="380.3" font-size="20" text-anchor="middle" font-weight="bold" >2500</text>
<line x1="142.52" y1="350.70" x2="142.52" y2="357.45" stroke="#000" stroke-width="3.5" stroke-linecap="butt"/>
<line x1="227.56" y1="350.70" x2="227.56" y2="357.45" stroke="#000" stroke-width="3.5" stroke-linecap="butt"/>
<line x1="312.60" y1="350.70" x2="312.60" y2="357.45" stroke="#000" stroke-width="3.5" stroke-linecap="butt"/>
<line x1="397.64" y1="350.70" x2="397.64" y2="357.45" stroke="#000" stroke-width="3.5" stroke-linecap="butt"/>
<line x1="482.68" y1="350.70" x2="482.68" y2="357.45" stroke="#000" stroke-width="3.5" stroke-linecap="butt"/>
<text x="312.0" y="412.5" font-size="21" text-anchor="middle" font-weight="bold" >Time (sec)</text>
<g transform="translate(45.0,206.0) rotate(-90)">
<text x="0.0" y="0.0" font-size="21" text-anchor="middle" font-weight="bold" >F<tspan font-size="15.3" dy="5.9">340</tspan><tspan dy="-5.9">/F</tspan><tspan font-size="15.3" dy="5.9">380</tspan></text>
</g>
<text x="247.3" y="66.0" font-size="23" text-anchor="start" font-weight="bold" >H<tspan font-size="18.0" dy="6.0">2</tspan><tspan dy="-6.0">O</tspan><tspan font-size="18.0" dy="6.0">2</tspan><tspan dy="-6.0"> 50 </tspan><tspan font-weight="normal" font-family="Liberation Serif, serif" font-size="25.0" dx="1.5">&#181;</tspan><tspan font-size="24.5">M</tspan></text>
<line x1="134.00" y1="73.50" x2="522.00" y2="73.50" stroke="#000" stroke-width="3.6" stroke-linecap="butt"/>
<line x1="353.00" y1="148.90" x2="385.00" y2="148.90" stroke="#42ECB0" stroke-width="5" stroke-linecap="butt"/>
<line x1="353.00" y1="181.70" x2="385.00" y2="181.70" stroke="#646464" stroke-width="5" stroke-linecap="butt"/>
<text x="401.0" y="156.2" font-size="22.5" text-anchor="start" font-weight="bold" >mCRC</text>
<text x="401.0" y="190.2" font-size="22.5" text-anchor="start" font-weight="bold" >Non-neoplastic</text>
<text transform="translate(2.42,80.00) scale(1.0255,1)" font-size="108.72" font-weight="bold">A</text>
<line x1="911.80" y1="62.25" x2="911.80" y2="351.95" stroke="#000" stroke-width="3.7" stroke-linecap="butt"/>
<line x1="901.95" y1="350.10" x2="911.80" y2="350.10" stroke="#000" stroke-width="3.7" stroke-linecap="butt"/>
<text x="900.5" y="359.8" font-size="23" text-anchor="end" font-weight="bold" >0.0</text>
<line x1="901.95" y1="278.60" x2="911.80" y2="278.60" stroke="#000" stroke-width="3.7" stroke-linecap="butt"/>
<text x="900.5" y="288.3" font-size="23" text-anchor="end" font-weight="bold" >0.2</text>
<line x1="901.95" y1="207.10" x2="911.80" y2="207.10" stroke="#000" stroke-width="3.7" stroke-linecap="butt"/>
<text x="900.5" y="216.8" font-size="23" text-anchor="end" font-weight="bold" >0.4</text>
<line x1="901.95" y1="135.60" x2="911.80" y2="135.60" stroke="#000" stroke-width="3.7" stroke-linecap="butt"/>
<text x="900.5" y="145.3" font-size="23" text-anchor="end" font-weight="bold" >0.6</text>
<line x1="901.95" y1="64.10" x2="911.80" y2="64.10" stroke="#000" stroke-width="3.7" stroke-linecap="butt"/>
<text x="900.5" y="73.8" font-size="23" text-anchor="end" font-weight="bold" >0.8</text>
<line x1="904.95" y1="314.35" x2="911.80" y2="314.35" stroke="#000" stroke-width="3.7" stroke-linecap="butt"/>
<line x1="904.95" y1="242.85" x2="911.80" y2="242.85" stroke="#000" stroke-width="3.7" stroke-linecap="butt"/>
<line x1="904.95" y1="171.35" x2="911.80" y2="171.35" stroke="#000" stroke-width="3.7" stroke-linecap="butt"/>
<line x1="904.95" y1="99.85" x2="911.80" y2="99.85" stroke="#000" stroke-width="3.7" stroke-linecap="butt"/>
<line x1="903.00" y1="351.00" x2="1338.00" y2="351.00" stroke="#000" stroke-width="3.7" stroke-linecap="butt"/>
<line x1="1018.20" y1="351.00" x2="1018.20" y2="361.00" stroke="#000" stroke-width="3.7" stroke-linecap="butt"/>
<line x1="1159.60" y1="351.00" x2="1159.60" y2="361.00" stroke="#000" stroke-width="3.7" stroke-linecap="butt"/>
<text x="1018.2" y="383.0" font-size="23.5" text-anchor="middle" font-weight="bold" >mCRC</text>
<text x="1172.2" y="382.6" font-size="23.5" text-anchor="middle" font-weight="bold" >Non-neoplastic</text>
<text x="1025.5" y="65.5" font-size="23" text-anchor="start" font-weight="bold" >H<tspan font-size="18.0" dy="6.0">2</tspan><tspan dy="-6.0">O</tspan><tspan font-size="18.0" dy="6.0">2</tspan><tspan dy="-6.0"> 50 </tspan><tspan font-weight="normal" font-family="Liberation Serif, serif" font-size="25.0" dx="1.5">&#181;</tspan><tspan font-size="24.5">M</tspan></text>
<text x="1018.2" y="127.2" font-size="23.2" text-anchor="middle" font-weight="bold" >114/114</text>
<text x="1161.1" y="186.5" font-size="25.5" text-anchor="middle" font-weight="bold" letter-spacing="3.4">***</text>
<text x="1156.1" y="219.6" font-size="22.5" text-anchor="middle" font-weight="bold" >192/192</text>
<g transform="translate(850.6,206.3) rotate(-90)">
<text x="0.0" y="0.0" font-size="24.3" text-anchor="middle" font-weight="bold" ><tspan font-weight="normal" font-family="Liberation Serif, serif">&#916;</tspan>F<tspan font-size="17.7" dy="6.8">340</tspan><tspan dy="-6.8">/F</tspan><tspan font-size="17.7" dy="6.8">380</tspan></text>
</g>
<text transform="translate(733.41,85.80) scale(0.9433,1)" font-size="109.16" font-weight="bold">B</text>
<circle cx="1018.2" cy="100.7" r="4.4" fill="#42ECB0"/>
<circle cx="1005.5" cy="136.3" r="4.4" fill="#42ECB0"/>
<circle cx="1018.2" cy="136.3" r="4.4" fill="#42ECB0"/>
<circle cx="1030.9" cy="136.3" r="4.4" fill="#42ECB0"/>
<circle cx="1018.2" cy="150.9" r="4.4" fill="#42ECB0"/>
<circle cx="954.7" cy="164.7" r="4.4" fill="#42ECB0"/>
<circle cx="1081.7" cy="161.8" r="4.4" fill="#42ECB0"/>
<circle cx="1069.0" cy="168.9" r="4.4" fill="#42ECB0"/>
<circle cx="967.4" cy="172.2" r="4.4" fill="#42ECB0"/>
<circle cx="980.1" cy="172.2" r="4.4" fill="#42ECB0"/>
<circle cx="992.8" cy="172.2" r="4.4" fill="#42ECB0"/>
<circle cx="1005.5" cy="172.2" r="4.4" fill="#42ECB0"/>
<circle cx="1018.2" cy="172.2" r="4.4" fill="#42ECB0"/>
<circle cx="1030.9" cy="172.2" r="4.4" fill="#42ECB0"/>
<circle cx="1043.6" cy="172.2" r="4.4" fill="#42ECB0"/>
<circle cx="1056.3" cy="172.2" r="4.4" fill="#42ECB0"/>
<circle cx="980.1" cy="182.5" r="4.4" fill="#42ECB0"/>
<circle cx="1056.3" cy="182.5" r="4.4" fill="#42ECB0"/>
<circle cx="992.8" cy="186.0" r="4.4" fill="#42ECB0"/>
<circle cx="1005.5" cy="190.2" r="4.4" fill="#42ECB0"/>
<circle cx="1018.2" cy="190.2" r="4.4" fill="#42ECB0"/>
<circle cx="1030.9" cy="190.2" r="4.4" fill="#42ECB0"/>
<circle cx="1043.6" cy="190.2" r="4.4" fill="#42ECB0"/>
<circle cx="992.8" cy="193.8" r="4.4" fill="#42ECB0"/>
<circle cx="1043.6" cy="193.8" r="4.4" fill="#42ECB0"/>
<circle cx="1030.9" cy="200.9" r="4.4" fill="#42ECB0"/>
<circle cx="1005.5" cy="204.4" r="4.4" fill="#42ECB0"/>
<circle cx="1018.2" cy="204.4" r="4.4" fill="#42ECB0"/>
<circle cx="967.4" cy="208.0" r="4.4" fill="#42ECB0"/>
<circle cx="980.1" cy="208.0" r="4.4" fill="#42ECB0"/>
<circle cx="992.8" cy="208.0" r="4.4" fill="#42ECB0"/>
<circle cx="1043.6" cy="208.0" r="4.4" fill="#42ECB0"/>
<circle cx="1056.3" cy="208.0" r="4.4" fill="#42ECB0"/>
<circle cx="1069.0" cy="208.0" r="4.4" fill="#42ECB0"/>
<circle cx="1005.5" cy="215.1" r="4.4" fill="#42ECB0"/>
<circle cx="1030.9" cy="215.1" r="4.4" fill="#42ECB0"/>
<circle cx="1018.2" cy="218.1" r="4.4" fill="#42ECB0"/>
<circle cx="992.8" cy="222.2" r="4.4" fill="#42ECB0"/>
<circle cx="1005.5" cy="228.7" r="4.4" fill="#42ECB0"/>
<circle cx="1030.9" cy="228.7" r="4.4" fill="#42ECB0"/>
<circle cx="1018.2" cy="232.3" r="4.4" fill="#42ECB0"/>
<circle cx="980.1" cy="244.3" r="4.4" fill="#42ECB0"/>
<circle cx="992.8" cy="244.3" r="4.4" fill="#42ECB0"/>
<circle cx="1005.5" cy="244.3" r="4.4" fill="#42ECB0"/>
<circle cx="1030.9" cy="244.3" r="4.4" fill="#42ECB0"/>
<circle cx="1043.6" cy="244.3" r="4.4" fill="#42ECB0"/>
<circle cx="1056.3" cy="244.3" r="4.4" fill="#42ECB0"/>
<circle cx="1018.2" cy="247.3" r="4.4" fill="#42ECB0"/>
<circle cx="1005.5" cy="254.4" r="4.4" fill="#42ECB0"/>
<circle cx="1030.9" cy="254.4" r="4.4" fill="#42ECB0"/>
<circle cx="1018.2" cy="261.5" r="4.4" fill="#42ECB0"/>
<circle cx="980.1" cy="268.6" r="4.4" fill="#42ECB0"/>
<circle cx="1056.3" cy="268.6" r="4.4" fill="#42ECB0"/>
<circle cx="992.8" cy="272.1" r="4.4" fill="#42ECB0"/>
<circle cx="1043.6" cy="272.1" r="4.4" fill="#42ECB0"/>
<circle cx="1005.5" cy="276.3" r="4.4" fill="#42ECB0"/>
<circle cx="1018.2" cy="279.3" r="4.4" fill="#42ECB0"/>
<circle cx="1030.9" cy="279.3" r="4.4" fill="#42ECB0"/>
<circle cx="1056.3" cy="286.4" r="4.4" fill="#42ECB0"/>
<circle cx="980.1" cy="289.9" r="4.4" fill="#42ECB0"/>
<circle cx="992.8" cy="289.9" r="4.4" fill="#42ECB0"/>
<circle cx="1030.9" cy="289.9" r="4.4" fill="#42ECB0"/>
<circle cx="1043.6" cy="289.9" r="4.4" fill="#42ECB0"/>
<circle cx="1005.5" cy="294.1" r="4.4" fill="#42ECB0"/>
<circle cx="1018.2" cy="294.1" r="4.4" fill="#42ECB0"/>
<circle cx="967.4" cy="297.0" r="4.4" fill="#42ECB0"/>
<circle cx="980.1" cy="297.0" r="4.4" fill="#42ECB0"/>
<circle cx="1056.3" cy="297.0" r="4.4" fill="#42ECB0"/>
<circle cx="1069.0" cy="297.0" r="4.4" fill="#42ECB0"/>
<circle cx="992.8" cy="301.2" r="4.4" fill="#42ECB0"/>
<circle cx="1043.6" cy="301.2" r="4.4" fill="#42ECB0"/>
<circle cx="1005.5" cy="304.7" r="4.4" fill="#42ECB0"/>
<circle cx="1018.2" cy="307.7" r="4.4" fill="#42ECB0"/>
<circle cx="1030.9" cy="307.7" r="4.4" fill="#42ECB0"/>
<circle cx="973.8" cy="311.3" r="4.4" fill="#42ECB0"/>
<circle cx="1062.7" cy="311.3" r="4.4" fill="#42ECB0"/>
<circle cx="986.5" cy="314.8" r="4.4" fill="#42ECB0"/>
<circle cx="999.2" cy="314.8" r="4.4" fill="#42ECB0"/>
<circle cx="1037.2" cy="314.8" r="4.4" fill="#42ECB0"/>
<circle cx="1050.0" cy="314.8" r="4.4" fill="#42ECB0"/>
<circle cx="954.7" cy="318.4" r="4.4" fill="#42ECB0"/>
<circle cx="967.4" cy="318.4" r="4.4" fill="#42ECB0"/>
<circle cx="1069.0" cy="318.4" r="4.4" fill="#42ECB0"/>
<circle cx="1081.7" cy="318.4" r="4.4" fill="#42ECB0"/>
<circle cx="980.1" cy="323.1" r="4.4" fill="#42ECB0"/>
<circle cx="992.8" cy="323.1" r="4.4" fill="#42ECB0"/>
<circle cx="1005.5" cy="323.1" r="4.4" fill="#42ECB0"/>
<circle cx="1011.9" cy="323.1" r="4.4" fill="#42ECB0"/>
<circle cx="1018.2" cy="323.1" r="4.4" fill="#42ECB0"/>
<circle cx="1024.5" cy="323.1" r="4.4" fill="#42ECB0"/>
<circle cx="1030.9" cy="323.1" r="4.4" fill="#42ECB0"/>
<circle cx="1043.6" cy="323.1" r="4.4" fill="#42ECB0"/>
<circle cx="1056.3" cy="323.1" r="4.4" fill="#42ECB0"/>
<circle cx="954.7" cy="325.5" r="4.4" fill="#42ECB0"/>
<circle cx="1081.7" cy="325.5" r="4.4" fill="#42ECB0"/>
<circle cx="1011.9" cy="325.5" r="4.4" fill="#42ECB0"/>
<circle cx="1024.5" cy="325.5" r="4.4" fill="#42ECB0"/>
<circle cx="1037.2" cy="325.5" r="4.4" fill="#42ECB0"/>
<circle cx="967.4" cy="329.6" r="4.4" fill="#42ECB0"/>
<circle cx="1069.0" cy="329.6" r="4.4" fill="#42ECB0"/>
<circle cx="980.1" cy="332.6" r="4.4" fill="#42ECB0"/>
<circle cx="992.8" cy="332.6" r="4.4" fill="#42ECB0"/>
<circle cx="1043.6" cy="332.6" r="4.4" fill="#42ECB0"/>
<circle cx="1056.3" cy="332.6" r="4.4" fill="#42ECB0"/>
<circle cx="1005.5" cy="337.3" r="4.4" fill="#42ECB0"/>
<circle cx="1018.2" cy="337.3" r="4.4" fill="#42ECB0"/>
<circle cx="1030.9" cy="337.3" r="4.4" fill="#42ECB0"/>
<circle cx="1146.9" cy="240.1" r="4.4" fill="#646464"/>
<circle cx="1159.6" cy="243.7" r="4.4" fill="#646464"/>
<circle cx="1134.2" cy="254.4" r="4.4" fill="#646464"/>
<circle cx="1185.0" cy="254.4" r="4.4" fill="#646464"/>
<circle cx="1146.9" cy="257.9" r="4.4" fill="#646464"/>
<circle cx="1172.3" cy="257.9" r="4.4" fill="#646464"/>
<circle cx="1159.6" cy="261.5" r="4.4" fill="#646464"/>
<circle cx="1127.8" cy="265.0" r="4.4" fill="#646464"/>
<circle cx="1178.6" cy="265.0" r="4.4" fill="#646464"/>
<circle cx="1140.5" cy="268.6" r="4.4" fill="#646464"/>
<circle cx="1153.2" cy="268.6" r="4.4" fill="#646464"/>
<circle cx="1165.9" cy="268.6" r="4.4" fill="#646464"/>
<circle cx="1096.1" cy="272.1" r="4.4" fill="#646464"/>
<circle cx="1108.8" cy="272.1" r="4.4" fill="#646464"/>
<circle cx="1121.5" cy="272.1" r="4.4" fill="#646464"/>
<circle cx="1185.0" cy="272.1" r="4.4" fill="#646464"/>
<circle cx="1197.7" cy="272.1" r="4.4" fill="#646464"/>
<circle cx="1210.4" cy="272.1" r="4.4" fill="#646464"/>
<circle cx="1223.1" cy="272.1" r="4.4" fill="#646464"/>
<circle cx="1134.2" cy="276.3" r="4.4" fill="#646464"/>
<circle cx="1146.9" cy="276.3" r="4.4" fill="#646464"/>
<circle cx="1159.6" cy="276.3" r="4.4" fill="#646464"/>
<circle cx="1172.3" cy="276.3" r="4.4" fill="#646464"/>
<circle cx="1096.1" cy="278.7" r="4.4" fill="#646464"/>
<circle cx="1108.8" cy="278.7" r="4.4" fill="#646464"/>
<circle cx="1210.4" cy="278.7" r="4.4" fill="#646464"/>
<circle cx="1223.1" cy="278.7" r="4.4" fill="#646464"/>
<circle cx="1121.5" cy="283.4" r="4.4" fill="#646464"/>
<circle cx="1197.7" cy="283.4" r="4.4" fill="#646464"/>
<circle cx="1185.0" cy="285.8" r="4.4" fill="#646464"/>
<circle cx="1134.2" cy="287.0" r="4.4" fill="#646464"/>
<circle cx="1146.9" cy="287.0" r="4.4" fill="#646464"/>
<circle cx="1159.6" cy="290.5" r="4.4" fill="#646464"/>
<circle cx="1172.3" cy="290.5" r="4.4" fill="#646464"/>
<circle cx="1185.0" cy="292.9" r="4.4" fill="#646464"/>
<circle cx="1134.2" cy="299.4" r="4.4" fill="#646464"/>
<circle cx="1146.9" cy="301.2" r="4.4" fill="#646464"/>
<circle cx="1172.3" cy="301.2" r="4.4" fill="#646464"/>
<circle cx="1159.6" cy="304.1" r="4.4" fill="#646464"/>
<circle cx="1185.0" cy="307.7" r="4.4" fill="#646464"/>
<circle cx="1146.9" cy="317.8" r="4.4" fill="#646464"/>
<circle cx="1159.6" cy="317.8" r="4.4" fill="#646464"/>
<circle cx="1172.3" cy="317.8" r="4.4" fill="#646464"/>
<circle cx="1108.8" cy="321.3" r="4.4" fill="#646464"/>
<circle cx="1210.4" cy="321.3" r="4.4" fill="#646464"/>
<circle cx="1121.5" cy="322.5" r="4.4" fill="#646464"/>
<circle cx="1197.7" cy="322.5" r="4.4" fill="#646464"/>
<circle cx="1096.2" cy="346.2" r="4.4" fill="#646464"/>
<circle cx="1109.1" cy="346.4" r="4.4" fill="#646464"/>
<circle cx="1121.7" cy="346.4" r="4.4" fill="#646464"/>
<circle cx="1133.7" cy="346.0" r="4.4" fill="#646464"/>
<circle cx="1147.3" cy="346.1" r="4.4" fill="#646464"/>
<circle cx="1160.0" cy="345.6" r="4.4" fill="#646464"/>
<circle cx="1172.3" cy="345.7" r="4.4" fill="#646464"/>
<circle cx="1185.0" cy="346.1" r="4.4" fill="#646464"/>
<circle cx="1197.2" cy="345.7" r="4.4" fill="#646464"/>
<circle cx="1210.2" cy="346.4" r="4.4" fill="#646464"/>
<circle cx="1223.4" cy="345.7" r="4.4" fill="#646464"/>
<circle cx="1102.7" cy="341.8" r="4.4" fill="#646464"/>
<circle cx="1115.3" cy="341.8" r="4.4" fill="#646464"/>
<circle cx="1127.4" cy="342.6" r="4.4" fill="#646464"/>
<circle cx="1140.3" cy="341.9" r="4.4" fill="#646464"/>
<circle cx="1153.7" cy="342.6" r="4.4" fill="#646464"/>
<circle cx="1165.7" cy="342.7" r="4.4" fill="#646464"/>
<circle cx="1178.7" cy="342.4" r="4.4" fill="#646464"/>
<circle cx="1191.1" cy="342.6" r="4.4" fill="#646464"/>
<circle cx="1204.2" cy="342.7" r="4.4" fill="#646464"/>
<circle cx="1217.1" cy="342.0" r="4.4" fill="#646464"/>
<circle cx="1096.0" cy="338.1" r="4.4" fill="#646464"/>
<circle cx="1108.4" cy="338.0" r="4.4" fill="#646464"/>
<circle cx="1121.3" cy="338.5" r="4.4" fill="#646464"/>
<circle cx="1133.7" cy="338.6" r="4.4" fill="#646464"/>
<circle cx="1146.7" cy="338.2" r="4.4" fill="#646464"/>
<circle cx="1159.9" cy="338.4" r="4.4" fill="#646464"/>
<circle cx="1172.1" cy="338.4" r="4.4" fill="#646464"/>
<circle cx="1185.2" cy="338.0" r="4.4" fill="#646464"/>
<circle cx="1198.2" cy="337.9" r="4.4" fill="#646464"/>
<circle cx="1210.6" cy="338.7" r="4.4" fill="#646464"/>
<circle cx="1222.6" cy="338.7" r="4.4" fill="#646464"/>
<circle cx="1102.3" cy="334.7" r="4.4" fill="#646464"/>
<circle cx="1114.7" cy="334.1" r="4.4" fill="#646464"/>
<circle cx="1127.5" cy="335.1" r="4.4" fill="#646464"/>
<circle cx="1140.2" cy="334.9" r="4.4" fill="#646464"/>
<circle cx="1153.7" cy="335.0" r="4.4" fill="#646464"/>
<circle cx="1165.8" cy="334.5" r="4.4" fill="#646464"/>
<circle cx="1178.7" cy="334.9" r="4.4" fill="#646464"/>
<circle cx="1191.0" cy="334.8" r="4.4" fill="#646464"/>
<circle cx="1204.3" cy="335.0" r="4.4" fill="#646464"/>
<circle cx="1216.3" cy="335.0" r="4.4" fill="#646464"/>
<circle cx="1095.7" cy="330.6" r="4.4" fill="#646464"/>
<circle cx="1108.9" cy="331.2" r="4.4" fill="#646464"/>
<circle cx="1121.3" cy="331.2" r="4.4" fill="#646464"/>
<circle cx="1134.2" cy="330.6" r="4.4" fill="#646464"/>
<circle cx="1146.7" cy="330.5" r="4.4" fill="#646464"/>
<circle cx="1159.2" cy="330.4" r="4.4" fill="#646464"/>
<circle cx="1172.5" cy="331.3" r="4.4" fill="#646464"/>
<circle cx="1184.7" cy="330.3" r="4.4" fill="#646464"/>
<circle cx="1198.2" cy="330.8" r="4.4" fill="#646464"/>
<circle cx="1210.3" cy="330.5" r="4.4" fill="#646464"/>
<circle cx="1223.2" cy="331.1" r="4.4" fill="#646464"/>
<line x1="981.50" y1="234.20" x2="1054.40" y2="234.20" stroke="#42ECB0" stroke-width="3.5" stroke-linecap="butt"/>
<line x1="1018.20" y1="231.00" x2="1018.20" y2="240.00" stroke="#42ECB0" stroke-width="3" stroke-linecap="butt"/>
<line x1="1123.90" y1="323.10" x2="1195.60" y2="323.10" stroke="#646464" stroke-width="3.5" stroke-linecap="butt"/>
<line x1="946.50" y1="241.90" x2="1089.90" y2="241.90" stroke="#000" stroke-width="3.2" stroke-linecap="butt"/>
<line x1="1088.30" y1="325.80" x2="1231.10" y2="325.80" stroke="#000" stroke-width="3.2" stroke-linecap="butt"/>
<text transform="translate(1.21,551.34) scale(0.9158,1)" font-size="108.90" font-weight="bold">C</text>
<path d="M108.0 762.9 108.5 761.7 109.0 761.3 109.5 761.8 110.0 761.3 110.5 761.8 111.0 762.6 111.5 762.0 112.0 761.5 112.5 761.3 113.0 763.1 113.5 761.2 114.0 761.4 114.5 762.2 115.0 762.5 115.5 761.6 116.0 762.8 116.5 763.5 117.0 761.6 117.5 760.5 118.0 760.1 118.5 761.0 119.0 759.5 119.5 758.9 120.0 760.1 120.5 760.3 121.0 760.6 121.5 760.0 122.0 759.5 122.5 760.8 123.0 761.4 123.5 760.5 124.0 760.4 124.5 760.1 125.0 760.6 125.5 760.8 126.0 760.9 126.5 761.6 127.0 762.4 127.5 760.6 128.0 760.3 128.5 759.8 129.0 760.0 129.5 756.9 130.0 760.8 130.5 760.4 131.0 759.8 131.5 759.6 132.0 760.2 132.5 760.1 133.0 759.5 133.5 759.9 134.0 759.3 134.5 760.1 135.0 762.8 135.5 759.3 136.0 760.5 136.5 758.8 137.0 757.3 137.5 758.6 138.0 758.8 138.5 759.0 139.0 757.2 139.5 757.3 140.0 759.2 140.5 759.0 141.0 758.7 141.5 760.4 142.0 759.3 142.5 759.2 143.0 759.7 143.5 759.0 144.0 758.4 144.5 758.7 145.0 759.6 145.5 759.7 146.0 757.5 146.5 758.0 147.0 757.7 147.5 756.7 148.0 757.2 148.5 755.9 149.0 754.3 149.5 752.3 150.0 753.9 150.5 752.5 151.0 751.5 151.5 752.3 152.0 751.2 152.5 750.1 153.0 745.8 153.5 735.0 154.0 728.7 154.5 718.1 155.0 702.4 155.5 687.0 156.0 673.4 156.5 665.1 157.0 661.2 157.5 657.2 158.0 653.2 158.5 649.1 159.0 643.3 159.5 639.3 160.0 636.7 160.5 636.3 161.0 632.3 161.5 629.7 162.0 624.8 162.5 625.5 163.0 623.0 163.5 619.7 164.0 617.8 164.5 615.6 165.0 616.0 165.5 614.3 166.0 612.6 166.5 612.6 167.0 610.9 167.5 611.2 168.0 609.6 168.5 609.5 169.0 610.0 169.5 608.8 170.0 607.8 170.5 607.0 171.0 606.2 171.5 605.3 172.0 604.5 172.5 606.6 173.0 604.4 173.5 607.0 174.0 605.3 174.5 606.1 175.0 605.8 175.5 606.1 176.0 604.7 176.5 605.2 177.0 605.6 177.5 605.0 178.0 605.2 178.5 605.4 179.0 605.8 179.5 606.1 180.0 606.1 180.5 605.1 181.0 607.9 181.5 608.0 182.0 607.2 182.5 607.9 183.0 607.7 183.5 609.1 184.0 609.9 184.5 612.1 185.0 612.7 185.5 611.8 186.0 611.8 186.5 610.0 187.0 613.8 187.5 612.4 188.0 613.9 188.5 613.2 189.0 613.4 189.5 614.6 190.0 613.1 190.5 613.8 191.0 614.6 191.5 615.8 192.0 616.3 192.5 615.6 193.0 612.0 193.5 616.2 194.0 617.1 194.5 617.9 195.0 617.8 195.5 618.2 196.0 617.8 196.5 618.9 197.0 619.0 197.5 620.0 198.0 619.0 198.5 619.7 199.0 619.0 199.5 620.5 200.0 619.2 200.5 620.4 201.0 620.5 201.5 620.7 202.0 619.6 202.5 620.0 203.0 618.7 203.5 619.0 204.0 619.1 204.5 621.2 205.0 620.6 205.5 620.8 206.0 622.0 206.5 620.7 207.0 621.8 207.5 620.5 208.0 621.6 208.5 620.8 209.0 622.9 209.5 623.4 210.0 623.4 210.5 622.4 211.0 622.2 211.5 622.1 212.0 622.5 212.5 622.6 213.0 622.2 213.5 622.8 214.0 622.7 214.5 621.9 215.0 621.7 215.5 622.5 216.0 622.0 216.5 623.0 217.0 622.7 217.5 623.1 218.0 623.5 218.5 624.1 219.0 624.1 219.5 625.0 220.0 624.9 220.5 624.5 221.0 623.2 221.5 623.4 222.0 626.1 222.5 625.8 223.0 624.9 223.5 625.4 224.0 626.1 224.5 626.1 225.0 626.6 225.5 626.6 226.0 628.2 226.5 629.3 227.0 628.7 227.5 630.0 228.0 629.6 228.5 627.8 229.0 629.6 229.5 628.7 230.0 628.5 230.5 629.0 231.0 628.9 231.5 629.6 232.0 629.6 232.5 630.3 233.0 630.4 233.5 630.2 234.0 629.0 234.5 629.1 235.0 629.1 235.5 628.1 236.0 627.4 236.5 629.4 237.0 630.5 237.5 629.4 238.0 630.0 238.5 631.3 239.0 631.9 239.5 630.2 240.0 630.2 240.5 630.2 241.0 630.9 241.5 631.0 242.0 632.1 242.5 631.9 243.0 631.1 243.5 631.9 244.0 631.7 244.5 629.4 245.0 631.5 245.5 632.2 246.0 630.1 246.5 633.0 247.0 630.9 247.5 631.8 248.0 631.3 248.5 632.4 249.0 631.3 249.5 631.4 250.0 630.7 250.5 631.1 251.0 630.2 251.5 630.9 252.0 630.8 252.5 630.3 253.0 630.3 253.5 630.4 254.0 629.5 254.5 630.4 255.0 630.0 255.5 630.4 256.0 629.9 256.5 629.6 257.0 631.4 257.5 631.4 258.0 631.1 258.5 631.3 259.0 631.6 259.5 630.9 260.0 632.1 260.5 632.3 261.0 632.3 261.5 631.8 262.0 631.8 262.5 631.3 263.0 631.8 263.5 631.7 264.0 632.0 264.5 629.5 265.0 627.7 265.5 629.5 266.0 630.5 266.5 630.0 267.0 629.6 267.5 628.2 268.0 627.7 268.5 626.8 269.0 626.2 269.5 626.6 270.0 628.4 270.5 627.7 271.0 628.2 271.5 628.1 272.0 627.5 272.5 627.4 273.0 628.2 273.5 628.5 274.0 628.0 274.5 628.7 275.0 627.2 275.5 628.9 276.0 629.4 276.5 628.4 277.0 627.7 277.5 627.6 278.0 628.0 278.5 629.2 279.0 629.2 279.5 630.3 280.0 629.1 280.5 629.4 281.0 628.2 281.5 628.0 282.0 629.4 282.5 629.0 283.0 628.5 283.5 627.6 284.0 629.6 284.5 629.7 285.0 630.0 285.5 627.4 286.0 629.7 286.5 628.9 287.0 630.0 287.5 629.7 288.0 630.7 288.5 628.1 289.0 629.5 289.5 628.5 290.0 629.1 290.5 629.7 291.0 628.8 291.5 629.2 292.0 629.2 292.5 628.3 293.0 628.5 293.5 629.3 294.0 628.6 294.5 628.8 295.0 628.6 295.5 628.0 296.0 628.2 296.5 626.7 297.0 628.7 297.5 629.6 298.0 630.4 298.5 631.0 299.0 630.0 299.5 629.9 300.0 628.6 300.5 629.1 301.0 630.9 301.5 630.5 302.0 631.7 302.5 629.9 303.0 630.0 303.5 631.5 304.0 631.0 304.5 631.1 305.0 632.0 305.5 631.1 306.0 630.2 306.5 629.9 307.0 630.5 307.5 630.9 308.0 630.4 308.5 629.6 309.0 629.8 309.5 629.3 310.0 628.9 310.5 628.5 311.0 628.0 311.5 628.0 312.0 630.3 312.5 629.3 313.0 629.2 313.5 630.9 314.0 630.3 314.5 630.4 315.0 631.9 315.5 629.2 316.0 631.2 316.5 630.0 317.0 631.2 317.5 631.6 318.0 631.2 318.5 629.7 319.0 630.3 319.5 630.1 320.0 630.2 320.5 629.9 321.0 628.8 321.5 629.4 322.0 630.0 322.5 630.7 323.0 631.5 323.5 630.9 324.0 632.0 324.5 631.4 325.0 628.6 325.5 630.5 326.0 625.3 326.5 628.1 327.0 629.3 327.5 629.8 328.0 629.2 328.5 628.0 329.0 629.4 329.5 630.7 330.0 629.4 330.5 631.1 331.0 629.3 331.5 630.5 332.0 630.6 332.5 629.8 333.0 630.1 333.5 629.6 334.0 628.7 334.5 630.0 335.0 632.0 335.5 630.8 336.0 630.7 336.5 630.5 337.0 631.0 337.5 630.9 338.0 633.9 338.5 630.4 339.0 631.6 339.5 630.9 340.0 630.8 340.5 629.7 341.0 627.9 341.5 627.9 342.0 628.9 342.5 628.9 343.0 628.8 343.5 629.2 344.0 626.4 344.5 628.7 345.0 628.0 345.5 626.9 346.0 626.6 346.5 626.6 347.0 626.9 347.5 627.2 348.0 626.4 348.5 627.1 349.0 627.1 349.5 625.8 350.0 624.3 350.5 626.0 351.0 625.8 351.5 624.8 352.0 624.6 352.5 626.4 353.0 624.2 353.5 623.5 354.0 623.9 354.5 622.9 355.0 627.4 355.5 622.5 356.0 622.7 356.5 622.3 357.0 622.9 357.5 623.5 358.0 620.7 358.5 621.1 359.0 620.9 359.5 621.1 360.0 619.5 360.5 620.2 361.0 622.0 361.5 622.3 362.0 621.9 362.5 623.1 363.0 622.3 363.5 621.9 364.0 621.7 364.5 621.2 365.0 621.7 365.5 621.1 366.0 619.3 366.5 620.3 367.0 621.3 367.5 620.2 368.0 619.6 368.5 620.0 369.0 619.4 369.5 620.0 370.0 618.5 370.5 619.2 371.0 617.4 371.5 618.2 372.0 618.5 372.5 618.7 373.0 618.7 373.5 618.7 374.0 618.1 374.5 617.5 375.0 618.3 375.5 619.6 376.0 619.0 376.5 618.8 377.0 618.4 377.5 617.0 378.0 617.5 378.5 618.0 379.0 617.2 379.5 618.8 380.0 618.9 380.5 615.8 381.0 617.6 381.5 617.9 382.0 617.6 382.5 617.9 383.0 616.9 383.5 616.8 384.0 617.2 384.5 616.7 385.0 616.4 385.5 616.0 386.0 615.0 386.5 615.5 387.0 615.7 387.5 614.6 388.0 612.9 388.5 616.1 389.0 614.4 389.5 613.9 390.0 614.3 390.5 613.6 391.0 615.0 391.5 615.3 392.0 615.6 392.5 616.0 393.0 613.2 393.5 614.8 394.0 615.4 394.5 616.7 395.0 617.3 395.5 617.0 396.0 617.1 396.5 616.5 397.0 615.6 397.5 615.6 398.0 617.1 398.5 616.9 399.0 616.4 399.5 617.0 400.0 618.1 400.5 617.9 401.0 617.7 401.5 618.1 402.0 618.2 402.5 617.1 403.0 617.5 403.5 616.9 404.0 618.1 404.5 617.9 405.0 617.4 405.5 617.8 406.0 616.8 406.5 616.3 407.0 613.3 407.5 612.0 408.0 610.9 408.5 611.2 409.0 608.9 409.5 608.8 410.0 606.9 410.5 606.1 411.0 606.0 411.5 606.3 412.0 606.8 412.5 605.8 413.0 606.8 413.5 605.1 414.0 604.2 414.5 607.0 415.0 606.8 415.5 607.3 416.0 605.5 416.5 606.0 417.0 605.9 417.5 605.1 418.0 604.8 418.5 605.4 419.0 604.2 419.5 603.6 420.0 603.1 420.5 603.4 421.0 605.0 421.5 603.0 422.0 604.4 422.5 604.8 423.0 604.9 423.5 603.6 424.0 604.6 424.5 603.2 425.0 603.1 425.5 602.3 426.0 601.1 426.5 600.8 427.0 601.7 427.5 601.6 428.0 602.7 428.5 601.4 429.0 602.8 429.5 604.2 430.0 604.4 430.5 602.9 431.0 602.4 431.5 603.6 432.0 603.0 432.5 602.8 433.0 604.2 433.5 601.9 434.0 603.1 434.5 602.8 435.0 602.2 435.5 603.8 436.0 572.6 436.5 602.2 437.0 601.9 437.5 602.0 438.0 602.1 438.5 603.1 439.0 601.5 439.5 600.7 440.0 600.8 440.5 601.4 441.0 601.2 441.5 603.3 442.0 603.0 442.5 601.8 443.0 600.1 443.5 600.2 444.0 600.0 444.5 600.1 445.0 598.8 445.5 599.9 446.0 599.7 446.5 598.8 447.0 599.2 447.5 600.7 448.0 600.1 448.5 599.9 449.0 599.9 449.5 598.6 450.0 598.2 450.5 597.2 451.0 598.0 451.5 597.7 452.0 598.7 452.5 598.4 453.0 598.6 453.5 596.6 454.0 596.3 454.5 597.2 455.0 598.2 455.5 597.5 456.0 597.1 456.5 597.4 457.0 597.4 457.5 597.9 458.0 597.4 458.5 597.4 459.0 597.6 459.5 596.1 460.0 596.6 460.5 597.3 461.0 598.4 461.5 598.0 462.0 597.2 462.5 597.3 463.0 596.7 463.5 595.2 464.0 593.9 464.5 597.1 465.0 596.3 465.5 597.0 466.0 595.1 466.5 595.8 467.0 596.6 467.5 594.9 468.0 593.6 468.5 593.9 469.0 594.3 469.5 593.8 470.0 594.2 470.5 594.5 471.0 594.8 471.5 594.8 472.0 594.2 472.5 594.2 473.0 593.5 473.5 593.7 474.0 593.9 474.5 593.4 475.0 593.4 475.5 593.6 476.0 592.3 476.5 592.3 477.0 593.3 477.5 593.6 478.0 593.6 478.5 595.6 479.0 595.0 479.5 595.3 480.0 595.2 480.5 596.1 481.0 595.8 481.5 594.5 482.0 594.5 482.5 595.3 483.0 593.5 483.5 594.0 484.0 593.8 484.5 592.9 485.0 593.1 485.5 593.5 486.0 594.5 486.5 595.0 487.0 595.5 487.5 597.8 488.0 592.8 488.5 591.9 489.0 592.4 489.5 592.4 490.0 591.6 490.5 591.6 491.0 590.1 491.5 590.3 492.0 589.7 492.5 590.2 493.0 589.9 493.5 590.0 494.0 588.9 494.5 589.6 495.0 589.2 495.5 589.2 496.0 588.6 496.5 588.3 497.0 589.5 497.5 591.1 498.0 590.9 498.5 589.7 499.0 591.1 499.5 590.8 500.0 590.6 500.5 590.5 501.0 590.8 501.5 591.4 502.0 592.5 502.5 592.5 503.0 593.1 503.5 591.3 504.0 592.4 504.5 591.8 505.0 592.6 505.5 590.5 506.0 592.4 506.5 592.3 507.0 592.7 507.5 593.2 508.0 594.1 508.5 592.9 509.0 593.2 509.5 592.6 510.0 593.9 510.5 593.7 511.0 593.4 511.5 592.5 512.0 592.7 512.5 593.3 513.0 593.8 513.5 592.4 514.0 593.4 514.5 592.9 515.0 593.2 515.5 592.7 516.0 596.8 516.5 594.2 517.0 593.2 517.5 592.4 518.0 593.4 518.5 593.9 519.0 592.2 519.5 592.9 520.0 593.3 520.5 590.7 521.0 592.4 521.5 593.0 522.0 593.9 522.5 593.4 523.0 594.6 523.5 593.7 524.0 594.9 524.5 592.2 525.0 592.7 525.5 594.0 526.0 592.3 526.5 593.1 527.0 593.8 527.5 594.8 528.0 595.6 528.5 598.4 529.0 598.6 529.5 599.4 530.0 598.7 530.5 599.2 531.0 598.4" fill="none" stroke="#42ECB0" stroke-width="4.5" stroke-linejoin="bevel"/>
<path d="M108.0 769.8 108.5 771.4 109.0 769.7 109.5 769.0 110.0 769.2 110.5 768.3 111.0 768.1 111.5 766.5 112.0 768.1 112.5 768.1 113.0 767.9 113.5 766.9 114.0 767.2 114.5 768.0 115.0 768.0 115.5 768.6 116.0 768.1 116.5 768.3 117.0 767.9 117.5 766.3 118.0 765.4 118.5 766.9 119.0 768.6 119.5 768.0 120.0 768.2 120.5 770.7 121.0 770.9 121.5 771.5 122.0 771.9 122.5 772.7 123.0 769.3 123.5 768.2 124.0 767.8 124.5 767.8 125.0 766.7 125.5 768.5 126.0 767.6 126.5 768.3 127.0 768.7 127.5 769.6 128.0 766.9 128.5 766.4 129.0 767.1 129.5 767.3 130.0 769.1 130.5 767.6 131.0 766.8 131.5 766.4 132.0 767.8 132.5 767.6 133.0 767.8 133.5 768.9 134.0 769.1 134.5 767.6 135.0 766.5 135.5 767.2 136.0 768.4 136.5 768.8 137.0 767.2 137.5 768.9 138.0 769.1 138.5 768.8 139.0 771.0 139.5 769.0 140.0 769.4 140.5 768.4 141.0 765.0 141.5 769.6 142.0 768.3 142.5 768.3 143.0 768.5 143.5 770.7 144.0 771.3 144.5 768.7 145.0 767.4 145.5 765.5 146.0 767.0 146.5 767.1 147.0 768.9 147.5 768.4 148.0 767.2 148.5 768.6 149.0 769.6 149.5 768.9 150.0 770.6 150.5 769.8 151.0 771.2 151.5 769.6 152.0 770.1 152.5 768.7 153.0 769.4 153.5 772.0 154.0 769.6 154.5 770.1 155.0 771.1 155.5 771.4 156.0 768.2 156.5 769.0 157.0 768.9 157.5 769.0 158.0 766.2 158.5 769.0 159.0 769.0 159.5 770.2 160.0 767.9 160.5 766.6 161.0 767.1 161.5 766.3 162.0 767.1 162.5 766.7 163.0 765.4 163.5 766.8 164.0 765.6 164.5 761.9 165.0 765.4 165.5 765.5 166.0 766.8 166.5 764.3 167.0 764.7 167.5 767.1 168.0 765.0 168.5 765.2 169.0 763.2 169.5 764.3 170.0 764.6 170.5 765.6 171.0 765.5 171.5 766.5 172.0 766.6 172.5 765.0 173.0 764.7 173.5 765.7 174.0 766.3 174.5 764.3 175.0 764.7 175.5 762.9 176.0 763.6 176.5 762.5 177.0 762.3 177.5 762.1 178.0 762.7 178.5 764.5 179.0 760.1 179.5 758.5 180.0 760.0 180.5 760.4 181.0 757.7 181.5 757.9 182.0 762.3 182.5 756.3 183.0 756.9 183.5 757.1 184.0 758.8 184.5 758.0 185.0 755.1 185.5 757.4 186.0 756.7 186.5 757.3 187.0 756.5 187.5 757.6 188.0 755.2 188.5 755.9 189.0 757.7 189.5 756.7 190.0 755.8 190.5 754.6 191.0 756.4 191.5 753.6 192.0 755.4 192.5 754.3 193.0 753.5 193.5 753.8 194.0 751.5 194.5 753.8 195.0 753.3 195.5 752.2 196.0 752.0 196.5 750.0 197.0 749.5 197.5 751.1 198.0 752.8 198.5 752.1 199.0 751.8 199.5 749.5 200.0 750.8 200.5 748.9 201.0 748.8 201.5 746.7 202.0 747.1 202.5 747.6 203.0 747.3 203.5 748.9 204.0 746.9 204.5 745.4 205.0 745.3 205.5 745.6 206.0 744.2 206.5 742.9 207.0 744.0 207.5 744.5 208.0 745.0 208.5 744.7 209.0 741.3 209.5 742.3 210.0 741.0 210.5 741.1 211.0 739.4 211.5 739.2 212.0 738.4 212.5 738.0 213.0 738.5 213.5 739.6 214.0 737.8 214.5 738.9 215.0 739.1 215.5 736.4 216.0 734.9 216.5 736.1 217.0 737.1 217.5 737.5 218.0 739.4 218.5 737.8 219.0 734.9 219.5 735.2 220.0 734.9 220.5 736.4 221.0 736.8 221.5 736.8 222.0 736.6 222.5 736.8 223.0 738.5 223.5 737.5 224.0 737.3 224.5 737.2 225.0 736.7 225.5 735.1 226.0 735.2 226.5 733.9 227.0 736.0 227.5 733.2 228.0 733.2 228.5 733.0 229.0 732.2 229.5 725.0 230.0 744.0 230.5 734.0 231.0 732.6 231.5 733.9 232.0 732.8 232.5 732.4 233.0 731.9 233.5 731.7 234.0 733.1 234.5 733.7 235.0 733.5 235.5 734.9 236.0 735.5 236.5 734.8 237.0 731.0 237.5 733.7 238.0 732.0 238.5 732.0 239.0 731.4 239.5 730.6 240.0 733.2 240.5 733.2 241.0 734.1 241.5 732.2 242.0 732.9 242.5 732.6 243.0 734.4 243.5 732.9 244.0 732.1 244.5 733.0 245.0 733.1 245.5 733.9 246.0 734.0 246.5 734.8 247.0 735.1 247.5 734.8 248.0 735.5 248.5 737.1 249.0 736.8 249.5 736.4 250.0 739.2 250.5 737.1 251.0 736.0 251.5 736.9 252.0 737.4 252.5 738.5 253.0 734.2 253.5 737.2 254.0 738.0 254.5 738.3 255.0 737.6 255.5 739.7 256.0 740.2 256.5 739.3 257.0 738.8 257.5 739.1 258.0 738.4 258.5 739.6 259.0 737.6 259.5 736.7 260.0 739.8 260.5 739.3 261.0 738.7 261.5 739.7 262.0 740.1 262.5 742.0 263.0 741.6 263.5 740.3 264.0 738.8 264.5 738.6 265.0 738.0 265.5 738.8 266.0 739.9 266.5 739.4 267.0 740.4 267.5 739.4 268.0 739.7 268.5 740.1 269.0 740.5 269.5 741.1 270.0 742.7 270.5 740.9 271.0 741.0 271.5 741.7 272.0 742.7 272.5 741.9 273.0 739.0 273.5 740.9 274.0 742.3 274.5 742.2 275.0 744.2 275.5 743.4 276.0 743.1 276.5 743.9 277.0 744.0 277.5 742.8 278.0 742.7 278.5 744.0 279.0 743.2 279.5 743.7 280.0 742.3 280.5 742.5 281.0 743.6 281.5 742.6 282.0 742.1 282.5 741.7 283.0 743.1 283.5 744.4 284.0 745.8 284.5 746.5 285.0 745.0 285.5 745.6 286.0 744.3 286.5 743.8 287.0 744.1 287.5 744.1 288.0 744.1 288.5 744.1 289.0 746.5 289.5 746.0 290.0 745.1 290.5 746.2 291.0 745.4 291.5 747.0 292.0 748.3 292.5 747.9 293.0 747.1 293.5 749.0 294.0 747.1 294.5 748.2 295.0 747.8 295.5 749.2 296.0 749.0 296.5 748.8 297.0 751.1 297.5 751.7 298.0 751.3 298.5 751.1 299.0 751.2 299.5 750.9 300.0 753.0 300.5 750.8 301.0 752.8 301.5 752.9 302.0 754.8 302.5 755.3 303.0 753.7 303.5 756.5 304.0 755.8 304.5 757.0 305.0 756.3 305.5 757.7 306.0 758.9 306.5 759.2 307.0 758.3 307.5 758.3 308.0 757.6 308.5 758.5 309.0 757.8 309.5 760.5 310.0 760.9 310.5 760.9 311.0 759.5 311.5 758.5 312.0 758.9 312.5 760.2 313.0 759.9 313.5 759.9 314.0 760.3 314.5 760.8 315.0 759.9 315.5 760.8 316.0 760.1 316.5 760.7 317.0 761.6 317.5 762.7 318.0 763.8 318.5 762.2 319.0 765.3 319.5 767.9 320.0 764.8 320.5 764.9 321.0 764.7 321.5 766.0 322.0 766.4 322.5 765.9 323.0 765.0 323.5 765.0 324.0 766.5 324.5 767.0 325.0 767.6 325.5 766.4 326.0 770.9 326.5 767.9 327.0 767.5 327.5 767.3 328.0 770.8 328.5 764.0 329.0 765.4 329.5 763.5 330.0 763.8 330.5 764.4 331.0 766.5 331.5 764.8 332.0 766.2 332.5 767.7 333.0 769.0 333.5 767.7 334.0 767.7 334.5 767.7 335.0 767.8 335.5 767.0 336.0 767.6 336.5 766.1 337.0 767.1 337.5 765.0 338.0 764.4 338.5 766.1 339.0 766.6 339.5 768.8 340.0 767.1 340.5 766.8 341.0 764.0 341.5 763.6 342.0 766.1 342.5 764.4 343.0 766.0 343.5 766.2 344.0 766.3 344.5 766.5 345.0 766.3 345.5 764.3 346.0 765.0 346.5 766.3 347.0 765.9 347.5 767.8 348.0 766.8 348.5 766.2 349.0 765.9 349.5 771.2 350.0 767.6 350.5 766.7 351.0 767.2 351.5 767.6 352.0 768.2 352.5 767.7 353.0 767.6 353.5 767.1 354.0 768.7 354.5 770.0 355.0 766.1 355.5 766.3 356.0 765.8 356.5 766.0 357.0 767.2 357.5 767.2 358.0 766.4 358.5 766.1 359.0 767.2 359.5 766.8 360.0 765.9 360.5 767.4 361.0 768.2 361.5 768.1 362.0 767.0 362.5 766.6 363.0 767.1 363.5 768.4 364.0 765.3 364.5 766.2 365.0 767.9 365.5 766.8 366.0 768.7 366.5 766.9 367.0 765.5 367.5 769.4 368.0 764.9 368.5 764.7 369.0 764.0 369.5 764.0 370.0 765.4 370.5 765.5 371.0 766.3 371.5 766.5 372.0 767.3 372.5 767.3 373.0 768.4 373.5 766.3 374.0 766.8 374.5 766.2 375.0 766.2 375.5 765.9 376.0 763.5 376.5 765.4 377.0 765.9 377.5 763.3 378.0 764.3 378.5 762.9 379.0 765.4 379.5 766.1 380.0 765.3 380.5 762.5 381.0 766.7 381.5 763.6 382.0 764.4 382.5 766.4 383.0 764.1 383.5 765.1 384.0 766.0 384.5 765.0 385.0 763.6 385.5 764.9 386.0 765.6 386.5 765.2 387.0 764.1 387.5 764.5 388.0 765.1 388.5 765.4 389.0 766.9 389.5 768.5 390.0 766.7 390.5 765.7 391.0 764.4 391.5 765.9 392.0 765.8 392.5 763.6 393.0 766.3 393.5 765.2 394.0 764.4 394.5 765.2 395.0 765.3 395.5 765.8 396.0 765.7 396.5 765.5 397.0 765.3 397.5 765.4 398.0 766.7 398.5 764.8 399.0 766.0 399.5 766.2 400.0 766.9 400.5 766.3 401.0 766.6 401.5 767.2 402.0 768.7 402.5 766.4 403.0 766.5 403.5 769.3 404.0 766.4 404.5 766.7 405.0 766.6 405.5 766.4 406.0 769.9 406.5 767.5 407.0 768.4 407.5 769.5 408.0 767.2 408.5 768.0 409.0 768.7 409.5 766.6 410.0 769.0 410.5 768.5 411.0 766.4 411.5 769.7 412.0 767.5 412.5 769.4 413.0 768.9 413.5 769.2 414.0 770.1 414.5 768.8 415.0 770.3 415.5 769.8 416.0 770.5 416.5 767.9 417.0 767.5 417.5 768.3 418.0 768.6 418.5 771.4 419.0 769.1 419.5 767.9 420.0 770.2 420.5 767.0 421.0 768.0 421.5 768.0 422.0 769.1 422.5 769.0 423.0 767.6 423.5 769.8 424.0 772.2 424.5 772.0 425.0 770.9 425.5 769.0 426.0 768.8 426.5 770.1 427.0 771.2 427.5 770.0 428.0 769.1 428.5 770.0 429.0 770.5 429.5 770.7 430.0 772.7 430.5 772.7 431.0 771.0 431.5 769.2 432.0 770.3 432.5 767.8 433.0 763.8 433.5 768.4 434.0 765.9 434.5 768.4 435.0 767.9 435.5 768.4 436.0 768.8 436.5 770.0 437.0 768.9 437.5 767.0 438.0 767.3 438.5 768.6 439.0 768.5 439.5 769.5 440.0 767.0 440.5 768.6 441.0 769.6 441.5 768.8 442.0 768.5 442.5 768.9 443.0 768.5 443.5 766.6 444.0 765.6 444.5 767.3 445.0 762.5 445.5 768.3 446.0 767.7 446.5 765.4 447.0 766.7 447.5 771.0 448.0 770.5 448.5 768.3 449.0 767.6 449.5 769.4 450.0 767.9 450.5 769.6 451.0 769.2 451.5 767.9 452.0 767.7 452.5 768.4 453.0 768.5 453.5 766.9 454.0 766.9 454.5 767.8 455.0 767.5 455.5 767.4 456.0 766.1 456.5 764.9 457.0 765.9 457.5 767.9 458.0 767.2 458.5 765.1 459.0 767.8 459.5 767.5 460.0 766.5 460.5 765.6 461.0 763.8 461.5 765.2 462.0 763.4 462.5 763.6 463.0 764.8 463.5 765.6 464.0 766.3 464.5 767.4 465.0 768.7 465.5 770.9 466.0 769.5 466.5 769.2 467.0 768.2 467.5 767.9 468.0 766.7 468.5 766.9 469.0 767.8 469.5 766.9 470.0 767.1 470.5 767.7 471.0 766.6 471.5 765.7 472.0 766.9 472.5 766.7 473.0 767.0 473.5 765.8 474.0 768.1 474.5 767.4 475.0 767.3 475.5 765.5 476.0 766.0 476.5 766.4 477.0 766.0 477.5 767.5 478.0 767.0 478.5 766.7 479.0 765.8 479.5 765.2 480.0 765.4 480.5 768.7 481.0 766.8 481.5 767.0 482.0 767.7 482.5 767.3 483.0 765.6 483.5 764.6 484.0 763.8 484.5 765.0 485.0 766.9 485.5 767.5 486.0 767.0 486.5 767.1 487.0 767.8 487.5 768.2 488.0 766.8 488.5 765.2 489.0 765.9 489.5 766.7 490.0 767.4 490.5 766.1 491.0 766.7 491.5 766.5 492.0 765.5 492.5 766.2 493.0 768.2 493.5 768.0 494.0 768.0 494.5 764.2 495.0 767.1 495.5 766.5 496.0 767.5 496.5 766.5 497.0 768.4 497.5 767.6 498.0 768.6 498.5 767.2 499.0 767.3 499.5 765.6 500.0 768.5 500.5 766.5 501.0 767.0 501.5 770.0 502.0 766.7 502.5 766.3 503.0 765.1 503.5 765.9 504.0 766.3 504.5 764.7 505.0 766.5 505.5 767.1 506.0 766.3 506.5 767.6 507.0 769.6 507.5 767.6 508.0 765.6 508.5 767.1 509.0 765.1 509.5 766.7 510.0 769.0 510.5 766.2 511.0 767.1 511.5 767.9 512.0 768.6 512.5 769.9 513.0 770.4 513.5 768.2 514.0 767.7 514.5 766.7 515.0 767.8 515.5 770.0 516.0 767.8 516.5 769.1 517.0 767.8 517.5 767.1 518.0 767.6 518.5 766.8 519.0 766.0 519.5 766.3 520.0 765.8 520.5 764.9 521.0 766.9 521.5 767.1 522.0 767.3 522.5 766.4 523.0 765.9 523.5 767.6 524.0 769.3 524.5 769.3 525.0 767.6 525.5 768.7 526.0 768.5 526.5 769.1 527.0 769.2 527.5 770.0 528.0 766.9 528.5 766.4 529.0 768.8 529.5 769.0 530.0 766.8 530.5 765.9 531.0 769.4" fill="none" stroke="#FF6614" stroke-width="5.2" stroke-linejoin="bevel"/>
<path d="M108.0 767.3 108.5 767.9 109.0 766.6 109.5 768.9 110.0 764.5 110.5 766.9 111.0 767.7 111.5 769.8 112.0 769.6 112.5 767.4 113.0 769.0 113.5 766.5 114.0 769.9 114.5 768.9 115.0 771.0 115.5 768.7 116.0 769.0 116.5 767.8 117.0 766.7 117.5 766.7 118.0 766.9 118.5 768.5 119.0 768.6 119.5 769.6 120.0 768.7 120.5 769.6 121.0 768.3 121.5 769.8 122.0 769.9 122.5 768.4 123.0 770.1 123.5 768.6 124.0 768.5 124.5 769.4 125.0 768.2 125.5 767.6 126.0 771.3 126.5 771.0 127.0 770.2 127.5 771.2 128.0 770.0 128.5 768.9 129.0 768.8 129.5 767.7 130.0 766.9 130.5 768.3 131.0 767.3 131.5 767.3 132.0 767.3 132.5 773.2 133.0 769.8 133.5 768.6 134.0 768.7 134.5 770.2 135.0 767.7 135.5 767.2 136.0 769.4 136.5 766.5 137.0 768.6 137.5 767.4 138.0 768.4 138.5 767.7 139.0 767.9 139.5 768.2 140.0 768.3 140.5 766.4 141.0 767.9 141.5 765.1 142.0 765.0 142.5 765.3 143.0 763.3 143.5 764.3 144.0 765.7 144.5 766.0 145.0 767.5 145.5 768.3 146.0 767.2 146.5 764.1 147.0 765.1 147.5 764.8 148.0 766.0 148.5 769.7 149.0 769.8 149.5 768.2 150.0 767.0 150.5 765.1 151.0 763.7 151.5 762.7 152.0 765.0 152.5 763.6 153.0 766.3 153.5 765.0 154.0 767.0 154.5 764.3 155.0 762.9 155.5 762.5 156.0 763.4 156.5 762.9 157.0 762.0 157.5 761.9 158.0 762.7 158.5 763.5 159.0 761.7 159.5 761.5 160.0 761.9 160.5 761.5 161.0 762.4 161.5 763.5 162.0 762.4 162.5 760.4 163.0 759.8 163.5 760.0 164.0 759.4 164.5 760.0 165.0 760.6 165.5 761.7 166.0 761.5 166.5 759.9 167.0 759.0 167.5 759.4 168.0 760.1 168.5 760.8 169.0 759.7 169.5 759.2 170.0 759.5 170.5 760.6 171.0 758.7 171.5 761.5 172.0 758.4 172.5 757.8 173.0 756.9 173.5 756.5 174.0 758.1 174.5 755.9 175.0 755.5 175.5 754.5 176.0 756.0 176.5 755.9 177.0 756.2 177.5 755.2 178.0 755.6 178.5 754.6 179.0 754.8 179.5 755.8 180.0 754.5 180.5 751.0 181.0 752.7 181.5 751.7 182.0 748.9 182.5 750.3 183.0 753.2 183.5 753.4 184.0 751.6 184.5 750.5 185.0 751.4 185.5 749.8 186.0 749.2 186.5 749.7 187.0 749.7 187.5 752.3 188.0 750.9 188.5 749.2 189.0 748.1 189.5 748.0 190.0 750.4 190.5 749.1 191.0 746.6 191.5 748.7 192.0 749.4 192.5 749.3 193.0 748.6 193.5 749.2 194.0 746.8 194.5 746.8 195.0 746.2 195.5 747.7 196.0 750.0 196.5 748.2 197.0 748.5 197.5 750.1 198.0 750.4 198.5 749.6 199.0 748.7 199.5 749.3 200.0 748.3 200.5 750.2 201.0 750.1 201.5 749.7 202.0 747.3 202.5 748.0 203.0 748.3 203.5 748.2 204.0 748.2 204.5 747.7 205.0 749.6 205.5 747.8 206.0 748.1 206.5 747.2 207.0 748.3 207.5 747.9 208.0 747.6 208.5 744.0 209.0 746.6 209.5 745.4 210.0 744.8 210.5 744.5 211.0 743.1 211.5 742.4 212.0 743.8 212.5 744.6 213.0 745.9 213.5 744.9 214.0 744.8 214.5 743.6 215.0 746.0 215.5 743.8 216.0 744.2 216.5 743.3 217.0 742.1 217.5 745.0 218.0 745.2 218.5 746.3 219.0 745.1 219.5 745.7 220.0 745.0 220.5 742.3 221.0 743.5 221.5 745.5 222.0 744.7 222.5 746.4 223.0 745.6 223.5 744.3 224.0 742.9 224.5 742.3 225.0 742.7 225.5 743.6 226.0 745.0 226.5 742.8 227.0 742.9 227.5 741.9 228.0 742.5 228.5 742.0 229.0 740.4 229.5 742.4 230.0 742.7 230.5 741.5 231.0 745.6 231.5 744.3 232.0 747.1 232.5 744.1 233.0 745.1 233.5 741.0 234.0 742.0 234.5 743.8 235.0 742.2 235.5 741.8 236.0 742.7 236.5 744.1 237.0 744.3 237.5 744.0 238.0 744.2 238.5 745.7 239.0 745.9 239.5 745.0 240.0 747.1 240.5 746.7 241.0 748.5 241.5 745.7 242.0 747.6 242.5 745.6 243.0 745.6 243.5 745.3 244.0 745.2 244.5 745.8 245.0 743.7 245.5 742.9 246.0 744.0 246.5 743.8 247.0 744.2 247.5 744.2 248.0 743.7 248.5 741.4 249.0 742.7 249.5 742.4 250.0 744.3 250.5 742.5 251.0 744.7 251.5 744.5 252.0 743.3 252.5 745.3 253.0 744.7 253.5 744.6 254.0 740.8 254.5 742.9 255.0 743.0 255.5 744.2 256.0 746.0 256.5 747.0 257.0 742.3 257.5 745.5 258.0 744.1 258.5 744.2 259.0 742.5 259.5 743.5 260.0 744.2 260.5 743.3 261.0 744.3 261.5 746.7 262.0 742.9 262.5 743.8 263.0 745.3 263.5 743.5 264.0 744.0 264.5 744.5 265.0 742.4 265.5 745.3 266.0 746.1 266.5 744.7 267.0 743.4 267.5 748.3 268.0 746.6 268.5 745.1 269.0 745.0 269.5 745.9 270.0 744.6 270.5 744.7 271.0 744.2 271.5 744.9 272.0 744.3 272.5 745.6 273.0 745.9 273.5 745.8 274.0 746.0 274.5 746.0 275.0 745.5 275.5 742.8 276.0 743.7 276.5 744.9 277.0 744.1 277.5 745.7 278.0 744.6 278.5 745.3 279.0 745.0 279.5 745.6 280.0 745.2 280.5 745.8 281.0 744.5 281.5 742.6 282.0 744.0 282.5 744.8 283.0 744.1 283.5 745.7 284.0 745.6 284.5 744.6 285.0 743.5 285.5 745.2 286.0 745.0 286.5 744.0 287.0 743.2 287.5 743.5 288.0 745.2 288.5 745.8 289.0 748.3 289.5 748.1 290.0 747.8 290.5 744.4 291.0 745.5 291.5 742.9 292.0 743.5 292.5 745.4 293.0 747.8 293.5 743.5 294.0 744.6 294.5 743.1 295.0 744.8 295.5 744.8 296.0 744.2 296.5 745.0 297.0 742.6 297.5 743.5 298.0 744.4 298.5 742.6 299.0 743.2 299.5 742.0 300.0 741.8 300.5 744.4 301.0 741.7 301.5 744.0 302.0 744.2 302.5 744.2 303.0 745.8 303.5 745.2 304.0 745.0 304.5 745.8 305.0 749.6 305.5 743.5 306.0 743.9 306.5 746.6 307.0 747.0 307.5 747.1 308.0 745.3 308.5 744.2 309.0 744.9 309.5 745.9 310.0 745.2 310.5 745.7 311.0 747.5 311.5 745.8 312.0 745.6 312.5 746.3 313.0 744.9 313.5 743.5 314.0 743.9 314.5 744.7 315.0 745.9 315.5 747.1 316.0 747.0 316.5 746.6 317.0 745.2 317.5 746.8 318.0 746.2 318.5 744.5 319.0 745.3 319.5 745.7 320.0 745.7 320.5 745.7 321.0 742.9 321.5 743.7 322.0 744.3 322.5 742.7 323.0 743.5 323.5 743.5 324.0 745.7 324.5 746.2 325.0 744.7 325.5 743.4 326.0 745.2 326.5 746.7 327.0 748.5 327.5 746.3 328.0 745.5 328.5 747.0 329.0 747.2 329.5 747.7 330.0 745.1 330.5 744.8 331.0 747.1 331.5 745.9 332.0 747.2 332.5 745.1 333.0 747.5 333.5 746.4 334.0 744.1 334.5 745.2 335.0 744.9 335.5 744.5 336.0 744.4 336.5 745.5 337.0 745.9 337.5 745.7 338.0 744.5 338.5 745.3 339.0 746.0 339.5 745.0 340.0 747.2 340.5 745.3 341.0 745.1 341.5 748.5 342.0 747.4 342.5 746.3 343.0 748.0 343.5 748.8 344.0 745.8 344.5 746.8 345.0 748.8 345.5 744.6 346.0 744.9 346.5 746.8 347.0 747.1 347.5 747.6 348.0 746.6 348.5 747.1 349.0 746.8 349.5 747.4 350.0 745.0 350.5 747.3 351.0 748.0 351.5 745.9 352.0 743.8 352.5 745.5 353.0 744.2 353.5 743.4 354.0 747.0 354.5 746.0 355.0 746.3 355.5 745.4 356.0 746.9 356.5 747.4 357.0 748.0 357.5 745.7 358.0 747.3 358.5 746.4 359.0 745.3 359.5 746.8 360.0 745.2 360.5 744.2 361.0 748.6 361.5 746.7 362.0 746.8 362.5 746.5 363.0 745.8 363.5 743.4 364.0 744.2 364.5 743.8 365.0 743.8 365.5 743.0 366.0 742.6 366.5 743.6 367.0 740.6 367.5 740.7 368.0 743.8 368.5 745.4 369.0 746.7 369.5 746.3 370.0 747.8 370.5 745.2 371.0 745.9 371.5 742.2 372.0 743.3 372.5 742.6 373.0 743.8 373.5 743.6 374.0 743.3 374.5 743.3 375.0 743.3 375.5 740.5 376.0 740.4 376.5 739.8 377.0 741.1 377.5 740.2 378.0 739.6 378.5 740.1 379.0 740.1 379.5 739.6 380.0 741.1 380.5 744.2 381.0 742.6 381.5 743.6 382.0 744.2 382.5 746.6 383.0 744.4 383.5 744.1 384.0 743.2 384.5 741.7 385.0 739.9 385.5 739.3 386.0 740.3 386.5 739.8 387.0 740.4 387.5 741.3 388.0 741.2 388.5 740.3 389.0 740.3 389.5 741.1 390.0 742.6 390.5 743.9 391.0 743.9 391.5 744.0 392.0 742.8 392.5 742.1 393.0 742.7 393.5 744.0 394.0 743.2 394.5 744.2 395.0 740.6 395.5 743.2 396.0 740.7 396.5 741.3 397.0 738.8 397.5 740.2 398.0 741.2 398.5 742.4 399.0 743.1 399.5 744.0 400.0 743.9 400.5 743.7 401.0 742.6 401.5 743.1 402.0 744.2 402.5 743.8 403.0 742.1 403.5 743.0 404.0 744.6 404.5 745.7 405.0 745.3 405.5 746.9 406.0 747.1 406.5 746.0 407.0 744.1 407.5 745.1 408.0 743.6 408.5 745.0 409.0 746.5 409.5 745.2 410.0 747.4 410.5 743.9 411.0 745.6 411.5 745.5 412.0 745.8 412.5 745.3 413.0 746.3 413.5 744.2 414.0 744.8 414.5 742.9 415.0 744.0 415.5 744.6 416.0 744.6 416.5 744.8 417.0 745.3 417.5 745.5 418.0 745.1 418.5 746.0 419.0 744.2 419.5 744.8 420.0 746.1 420.5 749.1 421.0 748.2 421.5 746.8 422.0 746.3 422.5 746.5 423.0 746.3 423.5 747.2 424.0 746.5 424.5 746.6 425.0 744.0 425.5 747.3 426.0 746.0 426.5 746.2 427.0 745.5 427.5 745.9 428.0 746.0 428.5 745.6 429.0 747.7 429.5 748.3 430.0 749.8 430.5 748.6 431.0 748.9 431.5 748.4 432.0 749.0 432.5 747.7 433.0 748.6 433.5 747.4 434.0 746.7 434.5 750.0 435.0 748.8 435.5 747.5 436.0 748.0 436.5 750.1 437.0 748.0 437.5 748.0 438.0 746.7 438.5 748.2 439.0 747.0 439.5 747.4 440.0 747.3 440.5 749.1 441.0 749.3 441.5 749.8 442.0 747.3 442.5 745.6 443.0 748.3 443.5 749.5 444.0 749.1 444.5 750.4 445.0 750.0 445.5 748.0 446.0 748.3 446.5 749.2 447.0 747.5 447.5 746.7 448.0 744.9 448.5 744.9 449.0 746.4 449.5 744.8 450.0 746.0 450.5 747.8 451.0 747.4 451.5 746.9 452.0 748.1 452.5 748.9 453.0 748.5 453.5 750.6 454.0 748.7 454.5 746.9 455.0 746.5 455.5 746.3 456.0 745.4 456.5 746.6 457.0 746.8 457.5 745.5 458.0 746.9 458.5 746.2 459.0 744.9 459.5 746.0 460.0 747.1 460.5 746.5 461.0 747.6 461.5 747.4 462.0 746.8 462.5 747.4 463.0 747.0 463.5 746.7 464.0 746.4 464.5 745.6 465.0 745.0 465.5 746.2 466.0 743.6 466.5 744.8 467.0 745.4 467.5 746.9 468.0 747.6 468.5 747.8 469.0 746.6 469.5 746.6 470.0 747.1 470.5 749.0 471.0 745.7 471.5 746.5 472.0 745.6 472.5 746.6 473.0 746.3 473.5 744.7 474.0 745.1 474.5 745.2 475.0 745.9 475.5 746.6 476.0 746.8 476.5 746.9 477.0 748.4 477.5 749.5 478.0 748.8 478.5 747.6 479.0 746.3 479.5 746.1 480.0 745.4 480.5 745.4 481.0 745.6 481.5 746.2 482.0 744.8 482.5 744.0 483.0 745.8 483.5 745.8 484.0 747.7 484.5 746.9 485.0 749.7 485.5 748.9 486.0 750.1 486.5 747.2 487.0 747.5 487.5 746.4 488.0 747.7 488.5 748.9 489.0 748.8 489.5 749.8 490.0 749.0 490.5 747.3 491.0 747.4 491.5 748.8 492.0 750.4 492.5 748.3 493.0 750.9 493.5 748.7 494.0 749.2 494.5 751.4 495.0 748.8 495.5 749.0 496.0 749.8 496.5 752.1 497.0 749.5 497.5 749.4 498.0 749.6 498.5 749.1 499.0 748.4 499.5 748.2 500.0 747.6 500.5 748.1 501.0 749.7 501.5 750.2 502.0 749.6 502.5 750.4 503.0 750.0 503.5 747.7 504.0 747.0 504.5 747.0 505.0 750.8 505.5 749.6 506.0 744.7 506.5 749.7 507.0 749.4 507.5 750.5 508.0 747.5 508.5 748.5 509.0 749.8 509.5 749.4 510.0 749.5 510.5 750.9 511.0 749.8 511.5 749.5 512.0 749.2 512.5 749.2 513.0 748.4 513.5 748.9 514.0 750.1 514.5 750.5 515.0 749.3 515.5 749.3 516.0 751.6 516.5 752.4 517.0 753.2 517.5 752.2 518.0 749.2 518.5 749.9 519.0 750.8 519.5 751.8 520.0 752.2 520.5 751.9 521.0 750.8 521.5 753.6 522.0 752.8 522.5 751.5 523.0 752.7 523.5 752.5 524.0 752.0 524.5 752.2 525.0 751.9 525.5 754.5 526.0 755.2 526.5 752.3 527.0 753.2 527.5 752.0 528.0 749.0 528.5 753.0 529.0 754.7 529.5 752.6 530.0 753.4 530.5 752.6 531.0 752.1" fill="none" stroke="#5656FA" stroke-width="4.5" stroke-linejoin="bevel"/>
<line x1="107.00" y1="536.85" x2="107.00" y2="826.95" stroke="#000" stroke-width="3.5" stroke-linecap="butt"/>
<line x1="97.25" y1="825.20" x2="107.00" y2="825.20" stroke="#000" stroke-width="3.5" stroke-linecap="butt"/>
<text x="95.3" y="834.0" font-size="22.5" text-anchor="end" font-weight="bold" >0.5</text>
<line x1="97.25" y1="767.88" x2="107.00" y2="767.88" stroke="#000" stroke-width="3.5" stroke-linecap="butt"/>
<text x="95.3" y="776.7" font-size="22.5" text-anchor="end" font-weight="bold" >0.6</text>
<line x1="97.25" y1="710.56" x2="107.00" y2="710.56" stroke="#000" stroke-width="3.5" stroke-linecap="butt"/>
<text x="95.3" y="719.4" font-size="22.5" text-anchor="end" font-weight="bold" >0.7</text>
<line x1="97.25" y1="653.24" x2="107.00" y2="653.24" stroke="#000" stroke-width="3.5" stroke-linecap="butt"/>
<text x="95.3" y="662.0" font-size="22.5" text-anchor="end" font-weight="bold" >0.8</text>
<line x1="97.25" y1="595.92" x2="107.00" y2="595.92" stroke="#000" stroke-width="3.5" stroke-linecap="butt"/>
<text x="95.3" y="604.7" font-size="22.5" text-anchor="end" font-weight="bold" >0.9</text>
<line x1="97.25" y1="538.60" x2="107.00" y2="538.60" stroke="#000" stroke-width="3.5" stroke-linecap="butt"/>
<text x="95.3" y="547.4" font-size="22.5" text-anchor="end" font-weight="bold" >1.0</text>
<line x1="100.25" y1="796.54" x2="107.00" y2="796.54" stroke="#000" stroke-width="3.5" stroke-linecap="butt"/>
<line x1="100.25" y1="739.22" x2="107.00" y2="739.22" stroke="#000" stroke-width="3.5" stroke-linecap="butt"/>
<line x1="100.25" y1="681.90" x2="107.00" y2="681.90" stroke="#000" stroke-width="3.5" stroke-linecap="butt"/>
<line x1="100.25" y1="624.58" x2="107.00" y2="624.58" stroke="#000" stroke-width="3.5" stroke-linecap="butt"/>
<line x1="100.25" y1="567.26" x2="107.00" y2="567.26" stroke="#000" stroke-width="3.5" stroke-linecap="butt"/>
<line x1="105.25" y1="825.20" x2="532.45" y2="825.20" stroke="#000" stroke-width="3.5" stroke-linecap="butt"/>
<line x1="107.00" y1="825.20" x2="107.00" y2="834.95" stroke="#000" stroke-width="3.5" stroke-linecap="butt"/>
<text x="107.0" y="859.0" font-size="22.5" text-anchor="middle" font-weight="bold" >0</text>
<line x1="212.93" y1="825.20" x2="212.93" y2="834.95" stroke="#000" stroke-width="3.5" stroke-linecap="butt"/>
<text x="212.9" y="859.0" font-size="22.5" text-anchor="middle" font-weight="bold" >500</text>
<line x1="318.85" y1="825.20" x2="318.85" y2="834.95" stroke="#000" stroke-width="3.5" stroke-linecap="butt"/>
<text x="318.9" y="859.0" font-size="22.5" text-anchor="middle" font-weight="bold" >1000</text>
<line x1="424.78" y1="825.20" x2="424.78" y2="834.95" stroke="#000" stroke-width="3.5" stroke-linecap="butt"/>
<text x="424.8" y="859.0" font-size="22.5" text-anchor="middle" font-weight="bold" >1500</text>
<line x1="530.70" y1="825.20" x2="530.70" y2="834.95" stroke="#000" stroke-width="3.5" stroke-linecap="butt"/>
<text x="530.7" y="859.0" font-size="22.5" text-anchor="middle" font-weight="bold" >2000</text>
<line x1="159.96" y1="825.20" x2="159.96" y2="831.95" stroke="#000" stroke-width="3.5" stroke-linecap="butt"/>
<line x1="265.89" y1="825.20" x2="265.89" y2="831.95" stroke="#000" stroke-width="3.5" stroke-linecap="butt"/>
<line x1="371.81" y1="825.20" x2="371.81" y2="831.95" stroke="#000" stroke-width="3.5" stroke-linecap="butt"/>
<line x1="477.74" y1="825.20" x2="477.74" y2="831.95" stroke="#000" stroke-width="3.5" stroke-linecap="butt"/>
<text x="319.5" y="888.5" font-size="22.3" text-anchor="middle" font-weight="bold" >Time (sec)</text>
<g transform="translate(44.8,680.4) rotate(-90)">
<text x="0.0" y="0.0" font-size="24" text-anchor="middle" font-weight="bold" >F<tspan font-size="17.5" dy="6.7">340</tspan><tspan dy="-6.7">/F</tspan><tspan font-size="17.5" dy="6.7">380</tspan></text>
</g>
<text x="260.9" y="540.3" font-size="23" text-anchor="start" font-weight="bold" >H<tspan font-size="18.0" dy="6.0">2</tspan><tspan dy="-6.0">O</tspan><tspan font-size="18.0" dy="6.0">2</tspan><tspan dy="-6.0"> 50 </tspan><tspan font-weight="normal" font-family="Liberation Serif, serif" font-size="25.0" dx="1.5">&#181;</tspan><tspan font-size="24.5">M</tspan></text>
<line x1="149.40" y1="558.30" x2="522.70" y2="558.30" stroke="#000" stroke-width="3.7" stroke-linecap="butt"/>
<line x1="350.70" y1="652.30" x2="383.90" y2="652.30" stroke="#42ECB0" stroke-width="4.7" stroke-linecap="butt"/>
<text x="400.5" y="659.5" font-size="23" text-anchor="start" font-weight="bold" >Ctrl</text>
<line x1="350.70" y1="680.00" x2="383.90" y2="680.00" stroke="#5656FA" stroke-width="4.7" stroke-linecap="butt"/>
<text x="400.5" y="687.6" font-size="23" text-anchor="start" font-weight="bold" >siTRPA1</text>
<line x1="350.70" y1="705.50" x2="383.90" y2="705.50" stroke="#FF6614" stroke-width="4.7" stroke-linecap="butt"/>
<text x="400.5" y="713.2" font-size="23" text-anchor="start" font-weight="bold" >HC-030031 30 <tspan font-weight="normal" font-family="Liberation Serif, serif" font-size="26.0" dx="2">&#181;</tspan><tspan font-size="24.5">M</tspan></text>
<text transform="translate(5.80,1039.90) scale(0.9332,1)" font-size="108.87" font-weight="bold">E</text>
<path d="M111.0 1302.3 111.5 1301.5 112.0 1302.9 112.5 1300.8 113.0 1300.4 113.5 1301.1 114.0 1301.8 114.5 1301.8 115.0 1301.8 115.5 1298.5 116.0 1299.4 116.5 1293.5 117.0 1287.8 117.5 1291.8 118.0 1295.7 118.5 1300.0 119.0 1299.0 119.5 1304.5 120.0 1305.8 120.5 1304.5 121.0 1306.9 121.5 1305.1 122.0 1306.0 122.5 1307.1 123.0 1304.8 123.5 1305.1 124.0 1305.7 124.5 1303.7 125.0 1303.2 125.5 1303.3 126.0 1303.9 126.5 1303.0 127.0 1303.8 127.5 1308.4 128.0 1302.9 128.5 1301.4 129.0 1303.2 129.5 1304.4 130.0 1303.6 130.5 1303.4 131.0 1302.8 131.5 1303.6 132.0 1303.5 132.5 1303.0 133.0 1301.3 133.5 1304.1 134.0 1303.6 134.5 1304.5 135.0 1305.9 135.5 1305.9 136.0 1304.3 136.5 1303.5 137.0 1303.6 137.5 1304.2 138.0 1304.5 138.5 1303.8 139.0 1303.5 139.5 1303.2 140.0 1304.5 140.5 1304.3 141.0 1305.5 141.5 1307.3 142.0 1306.0 142.5 1308.2 143.0 1307.1 143.5 1306.7 144.0 1306.8 144.5 1306.5 145.0 1306.9 145.5 1305.6 146.0 1304.2 146.5 1303.6 147.0 1304.5 147.5 1305.0 148.0 1305.1 148.5 1305.2 149.0 1305.5 149.5 1303.5 150.0 1299.6 150.5 1295.5 151.0 1292.6 151.5 1289.5 152.0 1285.8 152.5 1283.9 153.0 1280.8 153.5 1280.6 154.0 1280.0 154.5 1280.9 155.0 1279.7 155.5 1277.6 156.0 1277.8 156.5 1275.2 157.0 1276.2 157.5 1274.9 158.0 1274.4 158.5 1273.9 159.0 1272.1 159.5 1272.7 160.0 1271.7 160.5 1271.3 161.0 1269.4 161.5 1267.9 162.0 1268.2 162.5 1266.3 163.0 1263.8 163.5 1265.6 164.0 1265.2 164.5 1263.4 165.0 1263.9 165.5 1259.9 166.0 1264.0 166.5 1259.5 167.0 1259.8 167.5 1256.7 168.0 1255.9 168.5 1253.0 169.0 1253.2 169.5 1249.8 170.0 1246.4 170.5 1244.4 171.0 1240.5 171.5 1238.5 172.0 1238.0 172.5 1235.7 173.0 1233.4 173.5 1230.3 174.0 1226.0 174.5 1223.4 175.0 1218.4 175.5 1214.0 176.0 1209.2 176.5 1208.3 177.0 1206.0 177.5 1182.7 178.0 1201.0 178.5 1193.1 179.0 1191.6 179.5 1191.4 180.0 1204.8 180.5 1186.1 181.0 1186.6 181.5 1181.2 182.0 1186.1 182.5 1182.0 183.0 1180.7 183.5 1182.7 184.0 1181.0 184.5 1177.6 185.0 1179.3 185.5 1176.6 186.0 1169.0 186.5 1174.7 187.0 1176.4 187.5 1201.4 188.0 1180.7 188.5 1179.9 189.0 1175.8 189.5 1178.1 190.0 1179.4 190.5 1179.8 191.0 1178.8 191.5 1181.5 192.0 1180.7 192.5 1177.4 193.0 1167.3 193.5 1178.2 194.0 1179.5 194.5 1181.1 195.0 1185.2 195.5 1191.2 196.0 1186.3 196.5 1186.0 197.0 1186.1 197.5 1182.7 198.0 1184.2 198.5 1186.3 199.0 1184.2 199.5 1183.8 200.0 1182.9 200.5 1177.5 201.0 1182.4 201.5 1183.2 202.0 1181.2 202.5 1181.1 203.0 1181.0 203.5 1178.3 204.0 1180.4 204.5 1179.0 205.0 1178.4 205.5 1172.4 206.0 1179.1 206.5 1183.6 207.0 1184.3 207.5 1184.0 208.0 1186.9 208.5 1188.3 209.0 1191.2 209.5 1185.5 210.0 1184.3 210.5 1185.1 211.0 1186.0 211.5 1189.2 212.0 1185.9 212.5 1183.9 213.0 1182.2 213.5 1180.6 214.0 1178.0 214.5 1175.6 215.0 1175.4 215.5 1172.6 216.0 1170.7 216.5 1170.3 217.0 1170.6 217.5 1168.7 218.0 1170.4 218.5 1169.2 219.0 1169.6 219.5 1169.1 220.0 1168.0 220.5 1167.9 221.0 1168.5 221.5 1167.1 222.0 1168.1 222.5 1168.2 223.0 1166.7 223.5 1167.7 224.0 1165.6 224.5 1167.1 225.0 1165.5 225.5 1166.4 226.0 1164.0 226.5 1164.5 227.0 1165.9 227.5 1165.9 228.0 1166.1 228.5 1166.4 229.0 1166.3 229.5 1165.1 230.0 1167.1 230.5 1168.6 231.0 1168.1 231.5 1166.4 232.0 1163.7 232.5 1163.5 233.0 1163.5 233.5 1164.7 234.0 1164.0 234.5 1163.3 235.0 1163.2 235.5 1165.1 236.0 1164.2 236.5 1165.0 237.0 1165.1 237.5 1164.4 238.0 1162.9 238.5 1164.1 239.0 1162.6 239.5 1162.5 240.0 1159.8 240.5 1160.8 241.0 1162.1 241.5 1159.2 242.0 1159.4 242.5 1160.9 243.0 1164.4 243.5 1162.7 244.0 1161.9 244.5 1161.2 245.0 1161.5 245.5 1162.3 246.0 1160.9 246.5 1158.7 247.0 1161.1 247.5 1158.2 248.0 1155.8 248.5 1152.7 249.0 1155.9 249.5 1155.1 250.0 1156.2 250.5 1159.2 251.0 1157.3 251.5 1156.3 252.0 1156.5 252.5 1156.1 253.0 1154.1 253.5 1152.9 254.0 1154.0 254.5 1154.3 255.0 1154.8 255.5 1154.9 256.0 1153.1 256.5 1150.8 257.0 1153.7 257.5 1154.8 258.0 1154.6 258.5 1155.7 259.0 1156.3 259.5 1154.4 260.0 1156.1 260.5 1154.9 261.0 1157.9 261.5 1155.4 262.0 1156.4 262.5 1155.7 263.0 1156.9 263.5 1155.5 264.0 1155.5 264.5 1157.4 265.0 1157.5 265.5 1158.0 266.0 1158.4 266.5 1157.5 267.0 1156.5 267.5 1155.4 268.0 1156.6 268.5 1155.8 269.0 1156.3 269.5 1156.6 270.0 1155.6 270.5 1156.1 271.0 1155.9 271.5 1155.6 272.0 1154.6 272.5 1156.4 273.0 1156.1 273.5 1154.3 274.0 1154.2 274.5 1153.7 275.0 1154.7 275.5 1154.1 276.0 1154.3 276.5 1159.0 277.0 1153.2 277.5 1154.4 278.0 1153.6 278.5 1152.5 279.0 1152.5 279.5 1152.5 280.0 1150.8 280.5 1150.6 281.0 1152.7 281.5 1152.5 282.0 1153.5 282.5 1155.1 283.0 1156.6 283.5 1155.2 284.0 1152.0 284.5 1151.8 285.0 1150.0 285.5 1149.5 286.0 1150.6 286.5 1150.3 287.0 1149.7 287.5 1150.4 288.0 1151.3 288.5 1150.5 289.0 1149.7 289.5 1151.3 290.0 1151.6 290.5 1149.6 291.0 1150.9 291.5 1149.6 292.0 1149.4 292.5 1146.9 293.0 1148.6 293.5 1147.9 294.0 1147.1 294.5 1144.8 295.0 1147.8 295.5 1146.4 296.0 1146.5 296.5 1149.0 297.0 1146.9 297.5 1146.4 298.0 1144.9 298.5 1143.7 299.0 1145.1 299.5 1145.7 300.0 1145.4 300.5 1142.7 301.0 1141.7 301.5 1143.4 302.0 1142.2 302.5 1142.9 303.0 1141.0 303.5 1141.4 304.0 1143.1 304.5 1143.2 305.0 1141.6 305.5 1144.4 306.0 1142.7 306.5 1142.9 307.0 1141.0 307.5 1141.9 308.0 1142.1 308.5 1140.4 309.0 1140.2 309.5 1141.0 310.0 1140.2 310.5 1140.2 311.0 1138.1 311.5 1140.2 312.0 1140.4 312.5 1141.5 313.0 1140.6 313.5 1140.7 314.0 1141.3 314.5 1141.0 315.0 1140.1 315.5 1138.5 316.0 1139.1 316.5 1137.3 317.0 1138.4 317.5 1136.0 318.0 1137.3 318.5 1137.2 319.0 1137.1 319.5 1138.0 320.0 1137.8 320.5 1139.7 321.0 1138.4 321.5 1139.3 322.0 1137.1 322.5 1135.9 323.0 1136.8 323.5 1138.4 324.0 1138.9 324.5 1137.8 325.0 1137.1 325.5 1136.0 326.0 1138.4 326.5 1137.3 327.0 1136.5 327.5 1135.2 328.0 1135.7 328.5 1133.4 329.0 1135.5 329.5 1133.3 330.0 1134.2 330.5 1133.8 331.0 1133.5 331.5 1133.0 332.0 1133.1 332.5 1135.2 333.0 1134.7 333.5 1136.2 334.0 1134.8 334.5 1134.5 335.0 1135.6 335.5 1137.0 336.0 1133.7 336.5 1133.7 337.0 1130.8 337.5 1132.1 338.0 1132.5 338.5 1132.9 339.0 1130.6 339.5 1131.0 340.0 1129.5 340.5 1128.9 341.0 1130.3 341.5 1128.6 342.0 1127.0 342.5 1129.1 343.0 1128.7 343.5 1127.5 344.0 1126.7 344.5 1126.6 345.0 1128.1 345.5 1128.8 346.0 1129.1 346.5 1127.9 347.0 1128.6 347.5 1128.7 348.0 1130.7 348.5 1130.9 349.0 1128.4 349.5 1127.5 350.0 1127.2 350.5 1127.3 351.0 1128.0 351.5 1128.7 352.0 1126.7 352.5 1127.1 353.0 1126.6 353.5 1127.1 354.0 1126.5 354.5 1129.3 355.0 1126.0 355.5 1125.4 356.0 1125.3 356.5 1128.1 357.0 1127.5 357.5 1128.6 358.0 1127.1 358.5 1127.9 359.0 1125.9 359.5 1127.7 360.0 1125.0 360.5 1126.9 361.0 1125.7 361.5 1125.2 362.0 1124.8 362.5 1125.4 363.0 1121.0 363.5 1124.0 364.0 1125.5 364.5 1125.2 365.0 1123.7 365.5 1124.0 366.0 1123.5 366.5 1123.2 367.0 1121.9 367.5 1123.1 368.0 1122.9 368.5 1121.7 369.0 1119.1 369.5 1120.3 370.0 1119.7 370.5 1120.4 371.0 1120.6 371.5 1118.8 372.0 1120.5 372.5 1119.6 373.0 1117.2 373.5 1117.2 374.0 1116.9 374.5 1118.9 375.0 1119.4 375.5 1119.1 376.0 1119.0 376.5 1120.6 377.0 1117.5 377.5 1117.4 378.0 1116.9 378.5 1117.6 379.0 1116.5 379.5 1117.8 380.0 1119.6 380.5 1121.1 381.0 1118.8 381.5 1119.7 382.0 1119.8 382.5 1118.8 383.0 1120.4 383.5 1118.6 384.0 1118.3 384.5 1117.8 385.0 1117.8 385.5 1116.0 386.0 1114.6 386.5 1114.8 387.0 1115.0 387.5 1111.5 388.0 1115.1 388.5 1114.5 389.0 1113.6 389.5 1116.0 390.0 1115.6 390.5 1116.9 391.0 1117.6 391.5 1118.4 392.0 1119.6 392.5 1117.4 393.0 1116.1 393.5 1116.9 394.0 1118.0 394.5 1118.9 395.0 1118.4 395.5 1119.6 396.0 1118.5 396.5 1115.9 397.0 1115.5 397.5 1116.7 398.0 1116.6 398.5 1117.5 399.0 1118.6 399.5 1119.7 400.0 1115.9 400.5 1116.8 401.0 1116.8 401.5 1113.0 402.0 1116.7 402.5 1117.5 403.0 1117.7 403.5 1116.6 404.0 1116.4 404.5 1116.8 405.0 1115.8 405.5 1116.0 406.0 1116.0 406.5 1114.9 407.0 1112.3 407.5 1110.5 408.0 1112.9 408.5 1112.5 409.0 1112.7 409.5 1113.4 410.0 1111.9 410.5 1113.0 411.0 1113.1 411.5 1114.2 412.0 1112.0 412.5 1113.0 413.0 1110.9 413.5 1111.6 414.0 1112.8 414.5 1112.3 415.0 1113.7 415.5 1110.5 416.0 1108.8 416.5 1110.3 417.0 1112.2 417.5 1111.0 418.0 1109.7 418.5 1109.6 419.0 1110.6 419.5 1109.6 420.0 1110.8 420.5 1109.6 421.0 1107.8 421.5 1107.4 422.0 1107.1 422.5 1106.7 423.0 1106.4 423.5 1106.5 424.0 1107.6 424.5 1111.0 425.0 1107.9 425.5 1107.5 426.0 1107.1 426.5 1107.3 427.0 1107.6 427.5 1105.3 428.0 1107.1 428.5 1108.8 429.0 1110.2 429.5 1109.9 430.0 1109.3 430.5 1110.8 431.0 1109.7 431.5 1107.8 432.0 1108.6 432.5 1108.7 433.0 1109.6 433.5 1110.3 434.0 1109.1 434.5 1108.2 435.0 1106.0 435.5 1107.1 436.0 1110.3 436.5 1110.2 437.0 1109.1 437.5 1108.9 438.0 1106.9 438.5 1108.7 439.0 1107.8 439.5 1106.0 440.0 1105.2 440.5 1107.8 441.0 1106.1 441.5 1106.6 442.0 1106.9 442.5 1108.5 443.0 1106.7 443.5 1106.9 444.0 1108.0 444.5 1106.9 445.0 1107.3 445.5 1108.0 446.0 1107.4 446.5 1106.2 447.0 1106.2 447.5 1106.0 448.0 1106.8 448.5 1107.0 449.0 1105.4 449.5 1106.7 450.0 1106.0 450.5 1104.6 451.0 1104.7 451.5 1102.8 452.0 1103.6 452.5 1102.5 453.0 1104.4 453.5 1103.8 454.0 1104.0 454.5 1105.4 455.0 1104.3 455.5 1103.0 456.0 1102.8 456.5 1105.0 457.0 1106.5 457.5 1104.0 458.0 1105.6 458.5 1104.4 459.0 1103.5 459.5 1104.4 460.0 1106.5 460.5 1106.1 461.0 1107.3 461.5 1108.6 462.0 1107.4 462.5 1107.5 463.0 1106.0 463.5 1106.0 464.0 1105.9 464.5 1106.3 465.0 1104.4 465.5 1106.6 466.0 1108.6 466.5 1109.3 467.0 1109.5 467.5 1107.1 468.0 1107.6 468.5 1109.2 469.0 1108.2 469.5 1108.3 470.0 1108.7 470.5 1107.5 471.0 1109.3 471.5 1108.8 472.0 1108.9 472.5 1109.9 473.0 1109.8 473.5 1108.7 474.0 1107.7 474.5 1107.5 475.0 1106.6 475.5 1108.3 476.0 1108.1 476.5 1108.6 477.0 1108.6 477.5 1106.5 478.0 1107.4 478.5 1107.2 479.0 1107.3 479.5 1107.8 480.0 1107.1 480.5 1107.8 481.0 1108.2 481.5 1107.9 482.0 1107.8 482.5 1104.9 483.0 1105.8 483.5 1106.8 484.0 1105.5 484.5 1105.9 485.0 1106.4 485.5 1105.9 486.0 1102.3 486.5 1102.3 487.0 1106.1 487.5 1104.9 488.0 1103.7 488.5 1103.1 489.0 1102.7 489.5 1104.2 490.0 1103.3 490.5 1102.6 491.0 1103.3 491.5 1102.5 492.0 1104.3 492.5 1103.7 493.0 1103.5 493.5 1102.9 494.0 1103.6 494.5 1103.2 495.0 1104.2 495.5 1102.7 496.0 1102.3 496.5 1102.8 497.0 1103.0 497.5 1102.6 498.0 1106.1 498.5 1101.8 499.0 1099.3 499.5 1100.1 500.0 1098.9 500.5 1099.7 501.0 1100.2 501.5 1098.2 502.0 1098.8 502.5 1098.8 503.0 1098.7 503.5 1097.9 504.0 1097.7 504.5 1098.8 505.0 1097.8 505.5 1098.4 506.0 1099.4 506.5 1098.0 507.0 1099.7 507.5 1100.3 508.0 1099.4 508.5 1098.9 509.0 1097.6 509.5 1098.7 510.0 1098.4 510.5 1096.2 511.0 1093.5 511.5 1095.9 512.0 1095.8 512.5 1095.6 513.0 1094.2 513.5 1094.0 514.0 1095.3 514.5 1095.2 515.0 1095.1 515.5 1094.1 516.0 1095.0 516.5 1094.0 517.0 1093.5 517.5 1092.7 518.0 1092.3 518.5 1092.7 519.0 1094.0 519.5 1093.9 520.0 1095.4 520.5 1093.3 521.0 1093.9 521.5 1094.0 522.0 1094.1 522.5 1095.4 523.0 1095.3 523.5 1093.7 524.0 1092.7 524.5 1092.3 525.0 1090.8 525.5 1093.8 526.0 1095.1 526.5 1094.2 527.0 1090.8 527.5 1089.3 528.0 1091.9 528.5 1092.7 529.0 1092.7 529.5 1093.6 530.0 1094.2 530.5 1092.8 531.0 1090.7 531.5 1089.2 532.0 1090.2 532.5 1090.3 533.0 1090.0 533.5 1090.6 534.0 1089.1 534.5 1090.3" fill="none" stroke="#42ECB0" stroke-width="4.5" stroke-linejoin="bevel"/>
<path d="M111.0 1300.6 111.5 1300.8 112.0 1302.7 112.5 1297.9 113.0 1298.6 113.5 1299.0 114.0 1299.2 114.5 1300.7 115.0 1300.7 115.5 1300.9 116.0 1300.4 116.5 1300.4 117.0 1299.1 117.5 1299.1 118.0 1300.0 118.5 1300.8 119.0 1298.3 119.5 1298.0 120.0 1298.2 120.5 1298.5 121.0 1301.9 121.5 1302.3 122.0 1302.1 122.5 1301.0 123.0 1299.9 123.5 1298.3 124.0 1297.9 124.5 1298.9 125.0 1295.0 125.5 1297.7 126.0 1296.4 126.5 1298.5 127.0 1295.3 127.5 1297.3 128.0 1299.4 128.5 1303.5 129.0 1304.8 129.5 1301.1 130.0 1302.8 130.5 1302.5 131.0 1301.5 131.5 1300.5 132.0 1301.1 132.5 1300.4 133.0 1300.4 133.5 1301.1 134.0 1301.9 134.5 1304.0 135.0 1301.2 135.5 1300.1 136.0 1298.1 136.5 1298.1 137.0 1299.6 137.5 1299.7 138.0 1301.5 138.5 1301.9 139.0 1303.3 139.5 1300.9 140.0 1299.8 140.5 1301.0 141.0 1300.7 141.5 1302.9 142.0 1305.0 142.5 1300.7 143.0 1301.9 143.5 1303.7 144.0 1300.9 144.5 1300.9 145.0 1300.6 145.5 1300.1 146.0 1301.6 146.5 1301.1 147.0 1303.2 147.5 1300.9 148.0 1299.9 148.5 1299.2 149.0 1301.2 149.5 1298.0 150.0 1298.8 150.5 1298.8 151.0 1297.5 151.5 1297.5 152.0 1298.8 152.5 1295.5 153.0 1297.1 153.5 1298.2 154.0 1299.6 154.5 1298.7 155.0 1298.1 155.5 1297.4 156.0 1299.5 156.5 1298.8 157.0 1299.1 157.5 1300.7 158.0 1301.0 158.5 1299.0 159.0 1296.9 159.5 1296.9 160.0 1298.2 160.5 1298.7 161.0 1296.6 161.5 1297.3 162.0 1299.3 162.5 1296.9 163.0 1300.9 163.5 1299.6 164.0 1302.7 164.5 1300.8 165.0 1298.9 165.5 1298.0 166.0 1294.2 166.5 1298.9 167.0 1298.4 167.5 1298.8 168.0 1297.7 168.5 1299.9 169.0 1295.8 169.5 1298.4 170.0 1301.4 170.5 1297.9 171.0 1301.2 171.5 1301.8 172.0 1303.6 172.5 1299.8 173.0 1297.8 173.5 1297.2 174.0 1298.5 174.5 1300.1 175.0 1299.0 175.5 1298.0 176.0 1300.3 176.5 1298.7 177.0 1299.4 177.5 1299.9 178.0 1298.5 178.5 1297.5 179.0 1298.2 179.5 1300.0 180.0 1301.8 180.5 1300.5 181.0 1302.3 181.5 1304.0 182.0 1303.9 182.5 1303.9 183.0 1300.9 183.5 1295.6 184.0 1296.1 184.5 1297.5 185.0 1299.1 185.5 1298.6 186.0 1297.9 186.5 1299.1 187.0 1299.4 187.5 1300.7 188.0 1298.0 188.5 1298.3 189.0 1297.9 189.5 1298.5 190.0 1297.3 190.5 1297.6 191.0 1298.8 191.5 1299.4 192.0 1299.5 192.5 1298.2 193.0 1299.4 193.5 1298.0 194.0 1300.3 194.5 1300.1 195.0 1299.4 195.5 1301.8 196.0 1300.4 196.5 1299.1 197.0 1297.8 197.5 1298.8 198.0 1301.0 198.5 1302.2 199.0 1300.7 199.5 1300.0 200.0 1299.5 200.5 1298.9 201.0 1298.9 201.5 1299.3 202.0 1297.6 202.5 1296.5 203.0 1299.0 203.5 1301.1 204.0 1299.4 204.5 1302.7 205.0 1300.6 205.5 1301.2 206.0 1301.9 206.5 1300.6 207.0 1300.3 207.5 1300.3 208.0 1299.4 208.5 1299.6 209.0 1302.1 209.5 1300.5 210.0 1300.3 210.5 1298.2 211.0 1299.1 211.5 1297.8 212.0 1297.3 212.5 1302.2 213.0 1297.6 213.5 1299.8 214.0 1299.4 214.5 1300.2 215.0 1299.2 215.5 1299.8 216.0 1297.4 216.5 1298.5 217.0 1299.4 217.5 1298.5 218.0 1297.4 218.5 1298.9 219.0 1298.1 219.5 1295.7 220.0 1298.3 220.5 1300.4 221.0 1300.5 221.5 1298.6 222.0 1296.2 222.5 1298.3 223.0 1298.0 223.5 1297.5 224.0 1300.2 224.5 1298.4 225.0 1299.8 225.5 1300.4 226.0 1301.9 226.5 1301.7 227.0 1302.6 227.5 1302.1 228.0 1301.1 228.5 1299.9 229.0 1301.1 229.5 1299.8 230.0 1297.7 230.5 1296.7 231.0 1298.8 231.5 1298.2 232.0 1295.9 232.5 1298.5 233.0 1299.0 233.5 1301.5 234.0 1299.1 234.5 1300.6 235.0 1300.5 235.5 1299.5 236.0 1300.7 236.5 1301.8 237.0 1298.8 237.5 1298.3 238.0 1300.5 238.5 1300.5 239.0 1299.3 239.5 1300.0 240.0 1300.7 240.5 1299.6 241.0 1298.9 241.5 1301.7 242.0 1302.1 242.5 1302.5 243.0 1304.8 243.5 1299.6 244.0 1300.6 244.5 1300.4 245.0 1300.2 245.5 1299.8 246.0 1296.9 246.5 1298.6 247.0 1299.3 247.5 1303.5 248.0 1304.8 248.5 1302.7 249.0 1303.6 249.5 1301.2 250.0 1298.3 250.5 1297.7 251.0 1297.1 251.5 1298.6 252.0 1300.3 252.5 1302.5 253.0 1300.5 253.5 1298.8 254.0 1298.2 254.5 1295.3 255.0 1294.7 255.5 1297.9 256.0 1297.5 256.5 1295.4 257.0 1299.1 257.5 1296.9 258.0 1300.9 258.5 1302.0 259.0 1303.9 259.5 1302.3 260.0 1299.8 260.5 1300.7 261.0 1299.7 261.5 1298.2 262.0 1298.4 262.5 1296.8 263.0 1299.8 263.5 1301.2 264.0 1302.0 264.5 1300.3 265.0 1298.6 265.5 1298.8 266.0 1298.9 266.5 1300.7 267.0 1300.5 267.5 1301.7 268.0 1302.4 268.5 1301.0 269.0 1299.9 269.5 1300.2 270.0 1299.6 270.5 1297.1 271.0 1296.2 271.5 1298.1 272.0 1299.9 272.5 1297.4 273.0 1299.4 273.5 1300.0 274.0 1302.7 274.5 1300.8 275.0 1300.8 275.5 1302.0 276.0 1299.8 276.5 1299.6 277.0 1299.4 277.5 1298.1 278.0 1298.7 278.5 1299.3 279.0 1298.0 279.5 1299.1 280.0 1301.3 280.5 1302.7 281.0 1300.8 281.5 1298.0 282.0 1297.9 282.5 1299.2 283.0 1299.1 283.5 1298.6 284.0 1297.5 284.5 1299.4 285.0 1300.9 285.5 1299.2 286.0 1301.3 286.5 1302.3 287.0 1300.7 287.5 1298.2 288.0 1297.2 288.5 1297.7 289.0 1300.3 289.5 1298.8 290.0 1299.5 290.5 1298.8 291.0 1298.0 291.5 1299.2 292.0 1297.1 292.5 1298.6 293.0 1298.1 293.5 1294.4 294.0 1298.5 294.5 1299.5 295.0 1299.4 295.5 1297.7 296.0 1297.6 296.5 1299.5 297.0 1299.4 297.5 1300.4 298.0 1298.3 298.5 1298.3 299.0 1298.9 299.5 1301.1 300.0 1300.5 300.5 1301.6 301.0 1305.5 301.5 1302.2 302.0 1300.8 302.5 1298.6 303.0 1300.0 303.5 1302.2 304.0 1301.2 304.5 1299.6 305.0 1299.6 305.5 1295.6 306.0 1300.1 306.5 1302.1 307.0 1300.8 307.5 1303.3 308.0 1303.9 308.5 1300.9 309.0 1301.8 309.5 1300.6 310.0 1304.1 310.5 1302.0 311.0 1302.8 311.5 1302.4 312.0 1301.2 312.5 1301.8 313.0 1302.9 313.5 1301.4 314.0 1303.7 314.5 1299.8 315.0 1300.7 315.5 1298.4 316.0 1297.0 316.5 1299.9 317.0 1298.1 317.5 1298.2 318.0 1297.3 318.5 1298.8 319.0 1300.4 319.5 1300.8 320.0 1303.3 320.5 1298.4 321.0 1300.1 321.5 1301.1 322.0 1300.4 322.5 1297.9 323.0 1297.2 323.5 1296.6 324.0 1297.7 324.5 1296.5 325.0 1297.1 325.5 1298.6 326.0 1299.1 326.5 1298.9 327.0 1300.1 327.5 1301.0 328.0 1301.1 328.5 1302.0 329.0 1299.6 329.5 1298.4 330.0 1300.0 330.5 1296.3 331.0 1299.4 331.5 1299.9 332.0 1301.4 332.5 1302.1 333.0 1301.8 333.5 1301.1 334.0 1303.4 334.5 1305.8 335.0 1300.3 335.5 1300.4 336.0 1301.6 336.5 1301.8 337.0 1298.5 337.5 1298.9 338.0 1297.2 338.5 1296.7 339.0 1297.4 339.5 1300.5 340.0 1299.5 340.5 1302.5 341.0 1303.8 341.5 1301.3 342.0 1303.5 342.5 1300.1 343.0 1298.1 343.5 1299.8 344.0 1301.1 344.5 1304.0 345.0 1303.7 345.5 1302.4 346.0 1302.1 346.5 1301.4 347.0 1300.8 347.5 1297.6 348.0 1298.9 348.5 1298.3 349.0 1298.1 349.5 1298.9 350.0 1299.0 350.5 1299.2 351.0 1299.5 351.5 1300.2 352.0 1300.7 352.5 1302.2 353.0 1300.0 353.5 1299.7 354.0 1299.0 354.5 1301.1 355.0 1303.8 355.5 1301.0 356.0 1301.7 356.5 1300.3 357.0 1300.9 357.5 1302.1 358.0 1300.1 358.5 1302.8 359.0 1299.5 359.5 1297.8 360.0 1295.7 360.5 1298.6 361.0 1297.9 361.5 1298.8 362.0 1297.4 362.5 1295.7 363.0 1297.4 363.5 1297.4 364.0 1300.8 364.5 1301.8 365.0 1300.3 365.5 1300.7 366.0 1300.1 366.5 1301.4 367.0 1301.7 367.5 1300.1 368.0 1300.0 368.5 1301.9 369.0 1298.7 369.5 1300.9 370.0 1302.2 370.5 1304.3 371.0 1305.0 371.5 1302.6 372.0 1299.5 372.5 1296.9 373.0 1295.3 373.5 1297.2 374.0 1299.0 374.5 1297.6 375.0 1296.5 375.5 1297.1 376.0 1296.9 376.5 1295.9 377.0 1297.4 377.5 1296.2 378.0 1300.0 378.5 1296.1 379.0 1301.2 379.5 1300.2 380.0 1298.3 380.5 1299.8 381.0 1301.1 381.5 1301.0 382.0 1301.4 382.5 1300.6 383.0 1299.2 383.5 1298.8 384.0 1297.9 384.5 1298.8 385.0 1299.0 385.5 1298.9 386.0 1298.2 386.5 1302.2 387.0 1303.9 387.5 1302.6 388.0 1298.1 388.5 1301.9 389.0 1300.2 389.5 1303.1 390.0 1303.9 390.5 1306.2 391.0 1302.2 391.5 1303.6 392.0 1302.7 392.5 1303.3 393.0 1303.2 393.5 1302.5 394.0 1298.0 394.5 1299.1 395.0 1299.3 395.5 1293.5 396.0 1296.3 396.5 1295.7 397.0 1300.8 397.5 1298.4 398.0 1300.5 398.5 1298.1 399.0 1296.5 399.5 1297.4 400.0 1298.7 400.5 1301.9 401.0 1299.2 401.5 1301.3 402.0 1301.7 402.5 1299.0 403.0 1299.4 403.5 1302.0 404.0 1299.4 404.5 1300.1 405.0 1298.5 405.5 1298.7 406.0 1299.3 406.5 1298.5 407.0 1302.9 407.5 1301.4 408.0 1298.1 408.5 1302.3 409.0 1301.1 409.5 1300.7 410.0 1299.2 410.5 1298.3 411.0 1300.5 411.5 1297.0 412.0 1298.7 412.5 1299.1 413.0 1297.9 413.5 1301.4 414.0 1300.7 414.5 1300.9 415.0 1301.0 415.5 1300.6 416.0 1300.6 416.5 1299.0 417.0 1301.0 417.5 1303.8 418.0 1302.2 418.5 1301.3 419.0 1301.4 419.5 1298.4 420.0 1299.7 420.5 1299.9 421.0 1298.8 421.5 1297.8 422.0 1299.0 422.5 1299.8 423.0 1298.6 423.5 1297.8 424.0 1298.3 424.5 1300.2 425.0 1306.0 425.5 1301.0 426.0 1299.3 426.5 1300.2 427.0 1297.3 427.5 1300.1 428.0 1299.9 428.5 1299.1 429.0 1298.3 429.5 1298.1 430.0 1298.3 430.5 1301.1 431.0 1299.5 431.5 1301.9 432.0 1302.9 432.5 1299.6 433.0 1301.2 433.5 1301.5 434.0 1303.7 434.5 1299.8 435.0 1298.7 435.5 1299.7 436.0 1298.5 436.5 1299.9 437.0 1300.6 437.5 1302.0 438.0 1300.0 438.5 1299.7 439.0 1299.4 439.5 1296.0 440.0 1297.8 440.5 1296.9 441.0 1300.1 441.5 1299.8 442.0 1298.8 442.5 1299.9 443.0 1301.4 443.5 1300.1 444.0 1298.6 444.5 1296.7 445.0 1299.0 445.5 1299.6 446.0 1295.5 446.5 1297.0 447.0 1296.9 447.5 1298.5 448.0 1299.1 448.5 1302.2 449.0 1301.4 449.5 1300.3 450.0 1299.5 450.5 1299.8 451.0 1298.6 451.5 1297.7 452.0 1299.7 452.5 1299.1 453.0 1301.7 453.5 1301.0 454.0 1299.8 454.5 1301.9 455.0 1302.1 455.5 1303.6 456.0 1301.2 456.5 1301.3 457.0 1301.8 457.5 1301.4 458.0 1302.0 458.5 1302.0 459.0 1302.3 459.5 1303.9 460.0 1303.2 460.5 1300.2 461.0 1301.9 461.5 1298.6 462.0 1301.5 462.5 1300.8 463.0 1300.9 463.5 1298.6 464.0 1299.5 464.5 1300.4 465.0 1299.5 465.5 1299.4 466.0 1299.2 466.5 1298.8 467.0 1302.2 467.5 1302.6 468.0 1302.1 468.5 1301.2 469.0 1301.6 469.5 1302.5 470.0 1302.6 470.5 1302.6 471.0 1301.4 471.5 1298.0 472.0 1297.8 472.5 1301.7 473.0 1298.3 473.5 1300.9 474.0 1298.7 474.5 1301.6 475.0 1301.8 475.5 1299.2 476.0 1302.7 476.5 1299.2 477.0 1296.4 477.5 1296.8 478.0 1296.3 478.5 1296.0 479.0 1299.4 479.5 1295.4 480.0 1297.0 480.5 1298.8 481.0 1299.0 481.5 1298.7 482.0 1300.3 482.5 1299.9 483.0 1299.0 483.5 1295.0 484.0 1294.9 484.5 1292.4 485.0 1300.0 485.5 1302.3 486.0 1301.2 486.5 1299.4 487.0 1301.2 487.5 1302.4 488.0 1303.0 488.5 1300.1 489.0 1304.0 489.5 1307.1 490.0 1301.6 490.5 1303.5 491.0 1306.1 491.5 1302.4 492.0 1302.9 492.5 1301.5 493.0 1302.3 493.5 1300.2 494.0 1300.5 494.5 1301.6 495.0 1300.5 495.5 1298.9 496.0 1297.0 496.5 1296.7 497.0 1299.1 497.5 1296.1 498.0 1297.4 498.5 1297.7 499.0 1299.4 499.5 1299.2 500.0 1300.4 500.5 1300.4 501.0 1302.1 501.5 1301.9 502.0 1301.0 502.5 1299.3 503.0 1297.0 503.5 1299.6 504.0 1298.0 504.5 1298.8 505.0 1296.0 505.5 1298.2 506.0 1300.6 506.5 1300.9 507.0 1300.9 507.5 1301.2 508.0 1299.5 508.5 1299.1 509.0 1297.7 509.5 1300.6 510.0 1298.4 510.5 1300.0 511.0 1299.1 511.5 1299.5 512.0 1295.4 512.5 1299.2 513.0 1297.3 513.5 1300.6 514.0 1295.9 514.5 1298.0 515.0 1298.5 515.5 1298.8 516.0 1297.2 516.5 1299.2 517.0 1297.9 517.5 1301.4 518.0 1301.4 518.5 1300.2 519.0 1298.7 519.5 1299.0 520.0 1297.3 520.5 1301.8 521.0 1298.6 521.5 1300.4 522.0 1301.5 522.5 1300.8 523.0 1302.1 523.5 1299.6 524.0 1294.8 524.5 1300.0 525.0 1300.1 525.5 1297.1 526.0 1300.5 526.5 1299.9 527.0 1300.7 527.5 1299.9 528.0 1298.4 528.5 1294.5 529.0 1299.2 529.5 1302.3 530.0 1303.6 530.5 1301.4 531.0 1298.6 531.5 1300.9 532.0 1300.6 532.5 1298.5 533.0 1299.7 533.5 1300.5 534.0 1302.6 534.5 1300.5 535.0 1300.9 535.5 1299.6" fill="none" stroke="#F00000" stroke-width="4.5" stroke-linejoin="bevel"/>
<path d="M111.0 1302.8 111.5 1304.6 112.0 1304.3 112.5 1302.9 113.0 1302.4 113.5 1302.0 114.0 1302.8 114.5 1302.5 115.0 1304.9 115.5 1305.7 116.0 1305.7 116.5 1304.7 117.0 1308.9 117.5 1304.3 118.0 1303.6 118.5 1303.4 119.0 1304.0 119.5 1304.1 120.0 1302.8 120.5 1301.2 121.0 1302.4 121.5 1302.5 122.0 1305.7 122.5 1302.1 123.0 1304.7 123.5 1303.8 124.0 1304.8 124.5 1306.1 125.0 1303.4 125.5 1303.9 126.0 1308.1 126.5 1306.4 127.0 1306.9 127.5 1303.6 128.0 1302.0 128.5 1302.9 129.0 1303.8 129.5 1303.4 130.0 1308.0 130.5 1305.8 131.0 1307.2 131.5 1305.9 132.0 1305.4 132.5 1303.4 133.0 1305.0 133.5 1304.3 134.0 1303.2 134.5 1300.9 135.0 1302.0 135.5 1300.6 136.0 1301.2 136.5 1302.0 137.0 1303.9 137.5 1305.5 138.0 1302.9 138.5 1304.2 139.0 1307.7 139.5 1299.8 140.0 1301.3 140.5 1303.5 141.0 1306.9 141.5 1305.9 142.0 1304.4 142.5 1305.9 143.0 1306.2 143.5 1307.1 144.0 1306.3 144.5 1306.7 145.0 1304.6 145.5 1301.5 146.0 1302.8 146.5 1304.3 147.0 1305.6 147.5 1307.7 148.0 1305.5 148.5 1302.8 149.0 1305.5 149.5 1305.5 150.0 1304.8 150.5 1308.3 151.0 1302.5 151.5 1303.8 152.0 1304.6 152.5 1301.7 153.0 1302.9 153.5 1304.7 154.0 1306.1 154.5 1304.5 155.0 1302.8 155.5 1304.2 156.0 1304.0 156.5 1304.2 157.0 1306.1 157.5 1306.2 158.0 1306.1 158.5 1305.7 159.0 1304.2 159.5 1305.8 160.0 1305.6 160.5 1304.6 161.0 1304.8 161.5 1305.7 162.0 1305.4 162.5 1302.6 163.0 1304.2 163.5 1305.0 164.0 1305.1 164.5 1306.4 165.0 1307.2 165.5 1306.6 166.0 1305.7 166.5 1305.2 167.0 1307.3 167.5 1307.5 168.0 1306.5 168.5 1303.2 169.0 1305.6 169.5 1304.9 170.0 1305.0 170.5 1305.5 171.0 1305.0 171.5 1305.6 172.0 1304.1 172.5 1306.4 173.0 1305.8 173.5 1307.0 174.0 1305.5 174.5 1305.8 175.0 1306.1 175.5 1304.9 176.0 1307.1 176.5 1305.8 177.0 1304.4 177.5 1304.0 178.0 1303.5 178.5 1304.4 179.0 1307.4 179.5 1308.4 180.0 1304.4 180.5 1303.4 181.0 1304.9 181.5 1303.8 182.0 1304.4 182.5 1305.6 183.0 1306.0 183.5 1306.6 184.0 1306.5 184.5 1305.9 185.0 1306.2 185.5 1307.1 186.0 1304.5 186.5 1302.9 187.0 1303.2 187.5 1304.3 188.0 1307.3 188.5 1308.3 189.0 1310.8 189.5 1305.6 190.0 1305.3 190.5 1304.3 191.0 1302.9 191.5 1305.2 192.0 1304.6 192.5 1304.6 193.0 1305.1 193.5 1306.4 194.0 1306.9 194.5 1308.5 195.0 1307.1 195.5 1307.7 196.0 1307.6 196.5 1306.3 197.0 1303.7 197.5 1303.9 198.0 1302.6 198.5 1302.9 199.0 1299.7 199.5 1298.7 200.0 1299.5 200.5 1301.1 201.0 1303.2 201.5 1303.8 202.0 1303.9 202.5 1302.7 203.0 1304.3 203.5 1302.6 204.0 1304.1 204.5 1304.8 205.0 1304.6 205.5 1304.3 206.0 1306.6 206.5 1304.2 207.0 1308.2 207.5 1306.6 208.0 1303.5 208.5 1304.4 209.0 1305.8 209.5 1306.7 210.0 1303.8 210.5 1301.9 211.0 1304.5 211.5 1304.9 212.0 1306.0 212.5 1304.7 213.0 1305.4 213.5 1305.4 214.0 1304.8 214.5 1306.5 215.0 1307.8 215.5 1303.3 216.0 1304.8 216.5 1302.2 217.0 1303.3 217.5 1306.0 218.0 1306.4 218.5 1309.6 219.0 1310.5 219.5 1308.5 220.0 1306.4 220.5 1306.9 221.0 1306.1 221.5 1307.3 222.0 1311.1 222.5 1306.2 223.0 1305.5 223.5 1308.4 224.0 1307.6 224.5 1309.1 225.0 1306.9 225.5 1307.9 226.0 1309.2 226.5 1308.9 227.0 1307.5 227.5 1307.2 228.0 1306.7 228.5 1306.1 229.0 1306.4 229.5 1305.2 230.0 1305.0 230.5 1305.7 231.0 1304.5 231.5 1304.1 232.0 1303.0 232.5 1302.8 233.0 1300.2 233.5 1302.2 234.0 1300.5 234.5 1301.5 235.0 1302.3 235.5 1304.6 236.0 1303.2 236.5 1302.1 237.0 1301.4 237.5 1304.0 238.0 1304.7 238.5 1302.1 239.0 1304.4 239.5 1302.3 240.0 1304.4 240.5 1303.8 241.0 1306.7 241.5 1305.0 242.0 1304.8 242.5 1306.6 243.0 1304.6 243.5 1304.0 244.0 1302.2 244.5 1301.1 245.0 1303.9 245.5 1304.2 246.0 1306.5 246.5 1306.4 247.0 1306.9 247.5 1308.6 248.0 1304.6 248.5 1304.7 249.0 1305.3 249.5 1306.3 250.0 1305.2 250.5 1304.7 251.0 1304.4 251.5 1303.9 252.0 1303.4 252.5 1306.1 253.0 1305.9 253.5 1304.0 254.0 1302.7 254.5 1302.6 255.0 1305.6 255.5 1305.3 256.0 1303.0 256.5 1301.9 257.0 1303.1 257.5 1304.0 258.0 1305.2 258.5 1304.9 259.0 1304.2 259.5 1303.5 260.0 1305.3 260.5 1301.6 261.0 1304.7 261.5 1304.8 262.0 1307.8 262.5 1308.3 263.0 1308.5 263.5 1306.9 264.0 1306.1 264.5 1304.9 265.0 1308.8 265.5 1304.8 266.0 1305.1 266.5 1307.3 267.0 1304.0 267.5 1305.1 268.0 1302.8 268.5 1305.0 269.0 1305.4 269.5 1307.0 270.0 1305.6 270.5 1305.4 271.0 1308.7 271.5 1306.2 272.0 1303.2 272.5 1302.1 273.0 1300.1 273.5 1300.8 274.0 1301.4 274.5 1304.2 275.0 1303.8 275.5 1305.4 276.0 1302.8 276.5 1304.0 277.0 1304.6 277.5 1304.9 278.0 1306.6 278.5 1305.6 279.0 1305.7 279.5 1303.3 280.0 1302.0 280.5 1303.5 281.0 1301.5 281.5 1304.7 282.0 1305.8 282.5 1304.0 283.0 1305.2 283.5 1301.9 284.0 1302.6 284.5 1304.3 285.0 1303.9 285.5 1303.8 286.0 1302.2 286.5 1303.6 287.0 1303.3 287.5 1302.3 288.0 1304.8 288.5 1304.9 289.0 1303.5 289.5 1302.3 290.0 1304.3 290.5 1304.4 291.0 1304.5 291.5 1304.8 292.0 1303.1 292.5 1302.9 293.0 1304.8 293.5 1304.6 294.0 1306.0 294.5 1304.4 295.0 1305.4 295.5 1304.3 296.0 1307.4 296.5 1304.6 297.0 1303.5 297.5 1305.9 298.0 1305.7 298.5 1306.8 299.0 1303.8 299.5 1304.6 300.0 1303.9 300.5 1304.7 301.0 1304.2 301.5 1303.7 302.0 1302.0 302.5 1302.5 303.0 1303.8 303.5 1302.7 304.0 1305.1 304.5 1305.8 305.0 1304.7 305.5 1304.5 306.0 1304.2 306.5 1305.9 307.0 1306.5 307.5 1309.8 308.0 1308.5 308.5 1306.2 309.0 1305.4 309.5 1305.0 310.0 1306.0 310.5 1305.7 311.0 1307.1 311.5 1307.6 312.0 1306.8 312.5 1307.9 313.0 1307.4 313.5 1308.1 314.0 1307.2 314.5 1308.9 315.0 1307.6 315.5 1306.3 316.0 1306.0 316.5 1305.5 317.0 1302.6 317.5 1302.0 318.0 1301.0 318.5 1303.3 319.0 1303.9 319.5 1304.1 320.0 1303.2 320.5 1305.0 321.0 1303.8 321.5 1307.0 322.0 1307.0 322.5 1303.8 323.0 1303.9 323.5 1307.4 324.0 1306.1 324.5 1305.3 325.0 1307.6 325.5 1306.2 326.0 1307.9 326.5 1307.5 327.0 1308.6 327.5 1307.9 328.0 1307.2 328.5 1306.8 329.0 1307.2 329.5 1304.2 330.0 1307.2 330.5 1302.9 331.0 1306.8 331.5 1306.0 332.0 1306.7 332.5 1308.0 333.0 1308.9 333.5 1306.3 334.0 1306.5 334.5 1304.3 335.0 1305.4 335.5 1305.5 336.0 1301.3 336.5 1307.9 337.0 1306.0 337.5 1303.7 338.0 1302.4 338.5 1302.4 339.0 1304.0 339.5 1303.6 340.0 1307.3 340.5 1306.1 341.0 1305.0 341.5 1306.1 342.0 1306.7 342.5 1303.2 343.0 1302.6 343.5 1305.4 344.0 1304.1 344.5 1303.8 345.0 1304.3 345.5 1303.1 346.0 1303.2 346.5 1308.2 347.0 1306.4 347.5 1306.7 348.0 1306.9 348.5 1306.2 349.0 1307.8 349.5 1305.2 350.0 1305.7 350.5 1305.3 351.0 1306.4 351.5 1306.6 352.0 1306.7 352.5 1306.0 353.0 1305.5 353.5 1304.5 354.0 1304.7 354.5 1303.6 355.0 1304.3 355.5 1306.0 356.0 1304.5 356.5 1304.5 357.0 1306.6 357.5 1304.8 358.0 1304.7 358.5 1305.0 359.0 1305.0 359.5 1306.1 360.0 1304.6 360.5 1304.3 361.0 1303.3 361.5 1303.1 362.0 1302.5 362.5 1304.3 363.0 1307.0 363.5 1306.5 364.0 1306.0 364.5 1307.0 365.0 1306.2 365.5 1306.1 366.0 1304.5 366.5 1301.6 367.0 1302.7 367.5 1307.3 368.0 1308.2 368.5 1306.9 369.0 1305.9 369.5 1305.8 370.0 1309.2 370.5 1303.2 371.0 1302.2 371.5 1301.2 372.0 1303.4 372.5 1304.2 373.0 1304.1 373.5 1304.8 374.0 1304.8 374.5 1304.1 375.0 1303.3 375.5 1303.8 376.0 1303.1 376.5 1304.2 377.0 1302.4 377.5 1304.0 378.0 1306.0 378.5 1305.2 379.0 1306.9 379.5 1304.5 380.0 1303.5 380.5 1303.7 381.0 1302.4 381.5 1305.3 382.0 1304.0 382.5 1303.7 383.0 1301.2 383.5 1302.0 384.0 1302.4 384.5 1299.8 385.0 1298.8 385.5 1301.2 386.0 1302.5 386.5 1305.0 387.0 1304.9 387.5 1301.9 388.0 1301.1 388.5 1302.3 389.0 1300.8 389.5 1301.6 390.0 1303.6 390.5 1305.6 391.0 1305.2 391.5 1306.1 392.0 1304.6 392.5 1309.3 393.0 1306.3 393.5 1308.1 394.0 1302.4 394.5 1305.8 395.0 1305.3 395.5 1306.8 396.0 1304.4 396.5 1303.5 397.0 1306.4 397.5 1308.6 398.0 1302.5 398.5 1304.0 399.0 1304.7 399.5 1304.3 400.0 1302.6 400.5 1305.6 401.0 1306.2 401.5 1307.0 402.0 1304.2 402.5 1303.5 403.0 1304.6 403.5 1304.7 404.0 1303.8 404.5 1303.2 405.0 1303.1 405.5 1302.5 406.0 1303.0 406.5 1303.5 407.0 1302.4 407.5 1300.9 408.0 1301.0 408.5 1302.7 409.0 1302.6 409.5 1302.8 410.0 1304.6 410.5 1299.9 411.0 1301.0 411.5 1303.2 412.0 1310.1 412.5 1305.3 413.0 1309.0 413.5 1306.3 414.0 1305.9 414.5 1305.4 415.0 1304.1 415.5 1305.4 416.0 1306.5 416.5 1306.2 417.0 1304.1 417.5 1303.7 418.0 1301.9 418.5 1305.2 419.0 1305.6 419.5 1305.1 420.0 1303.1 420.5 1304.0 421.0 1303.7 421.5 1300.7 422.0 1299.1 422.5 1299.4 423.0 1302.1 423.5 1304.0 424.0 1303.2 424.5 1305.1 425.0 1304.4 425.5 1304.0 426.0 1305.3 426.5 1305.2 427.0 1302.5 427.5 1303.6 428.0 1302.2 428.5 1305.4 429.0 1302.2 429.5 1304.4 430.0 1301.5 430.5 1303.3 431.0 1303.3 431.5 1301.2 432.0 1304.1 432.5 1306.3 433.0 1306.7 433.5 1305.3 434.0 1305.0 434.5 1305.0 435.0 1301.2 435.5 1304.4 436.0 1303.3 436.5 1307.0 437.0 1305.5 437.5 1306.8 438.0 1305.8 438.5 1306.8 439.0 1307.8 439.5 1305.9 440.0 1303.1 440.5 1302.5 441.0 1300.3 441.5 1305.1 442.0 1305.0 442.5 1301.9 443.0 1301.9 443.5 1301.5 444.0 1303.0 444.5 1301.4 445.0 1303.4 445.5 1305.2 446.0 1304.5 446.5 1306.5 447.0 1306.8 447.5 1309.7 448.0 1302.3 448.5 1305.7 449.0 1301.8 449.5 1303.1 450.0 1304.4 450.5 1306.0 451.0 1304.0 451.5 1302.0 452.0 1304.4 452.5 1305.0 453.0 1304.8 453.5 1304.2 454.0 1304.1 454.5 1302.8 455.0 1302.7 455.5 1304.3 456.0 1303.8 456.5 1307.4 457.0 1304.3 457.5 1301.3 458.0 1302.3 458.5 1301.3 459.0 1302.0 459.5 1302.6 460.0 1304.1 460.5 1301.5 461.0 1303.9 461.5 1304.0 462.0 1302.3 462.5 1304.3 463.0 1304.7 463.5 1305.5 464.0 1303.7 464.5 1303.1 465.0 1303.9 465.5 1304.0 466.0 1302.8 466.5 1303.2 467.0 1302.0 467.5 1298.9 468.0 1301.4 468.5 1301.8 469.0 1302.3 469.5 1302.3 470.0 1303.9 470.5 1304.2 471.0 1305.0 471.5 1306.2 472.0 1304.1 472.5 1302.6 473.0 1302.3 473.5 1302.3 474.0 1302.6 474.5 1301.1 475.0 1301.6 475.5 1305.0 476.0 1303.5 476.5 1303.2 477.0 1306.5 477.5 1303.8 478.0 1305.2 478.5 1307.8 479.0 1306.1 479.5 1302.2 480.0 1301.6 480.5 1301.7 481.0 1300.9 481.5 1300.4 482.0 1302.8 482.5 1305.0 483.0 1303.5 483.5 1304.2 484.0 1304.6 484.5 1305.2 485.0 1302.1 485.5 1300.4 486.0 1303.1 486.5 1301.7 487.0 1300.7 487.5 1303.0 488.0 1305.3 488.5 1305.7 489.0 1305.7 489.5 1305.2 490.0 1305.8 490.5 1307.0 491.0 1309.7 491.5 1307.4 492.0 1303.8 492.5 1303.7 493.0 1305.8 493.5 1304.8 494.0 1303.9 494.5 1305.0 495.0 1303.1 495.5 1303.1 496.0 1306.0 496.5 1303.2 497.0 1303.1 497.5 1302.7 498.0 1303.9 498.5 1304.9 499.0 1304.1 499.5 1305.3 500.0 1304.3 500.5 1303.0 501.0 1302.0 501.5 1303.6 502.0 1303.0 502.5 1302.3 503.0 1305.1 503.5 1303.9 504.0 1301.9 504.5 1303.1 505.0 1302.7 505.5 1303.9 506.0 1303.3 506.5 1303.2 507.0 1301.2 507.5 1301.9 508.0 1301.5 508.5 1300.6 509.0 1301.2 509.5 1304.9 510.0 1304.0 510.5 1304.0 511.0 1302.8 511.5 1305.4 512.0 1302.7 512.5 1303.0 513.0 1301.5 513.5 1299.7 514.0 1302.0 514.5 1302.6 515.0 1303.6 515.5 1308.2 516.0 1304.3 516.5 1303.3 517.0 1303.0 517.5 1306.5 518.0 1305.8 518.5 1303.2 519.0 1306.0 519.5 1307.2 520.0 1301.8 520.5 1300.3 521.0 1301.9 521.5 1303.2 522.0 1303.0 522.5 1301.0 523.0 1301.3 523.5 1303.3 524.0 1302.8 524.5 1301.8 525.0 1304.3 525.5 1304.0 526.0 1303.8 526.5 1307.0 527.0 1305.0 527.5 1304.4 528.0 1304.6 528.5 1303.7 529.0 1303.9 529.5 1305.2 530.0 1304.8 530.5 1306.9 531.0 1304.6 531.5 1303.0 532.0 1303.9 532.5 1304.0 533.0 1303.7 533.5 1303.5 534.0 1305.7 534.5 1304.7 535.0 1304.9 535.5 1304.2" fill="none" stroke="#F7A3A3" stroke-width="4.5" stroke-linejoin="bevel"/>
<path d="M111.0 1316.4 111.5 1318.5 112.0 1320.4 112.5 1322.1 113.0 1321.6 113.5 1319.5 114.0 1320.6 114.5 1318.2 115.0 1318.4 115.5 1320.4 116.0 1317.4 116.5 1319.7 117.0 1316.5 117.5 1319.6 118.0 1318.4 118.5 1319.0 119.0 1315.0 119.5 1317.2 120.0 1318.3 120.5 1318.0 121.0 1317.4 121.5 1317.8 122.0 1315.1 122.5 1317.9 123.0 1318.2 123.5 1316.9 124.0 1319.4 124.5 1318.7 125.0 1318.7 125.5 1318.1 126.0 1320.2 126.5 1322.4 127.0 1319.5 127.5 1320.1 128.0 1318.7 128.5 1316.6 129.0 1318.7 129.5 1318.1 130.0 1316.6 130.5 1315.6 131.0 1318.1 131.5 1320.7 132.0 1319.2 132.5 1317.3 133.0 1316.2 133.5 1319.0 134.0 1314.9 134.5 1313.8 135.0 1316.2 135.5 1318.0 136.0 1316.5 136.5 1319.0 137.0 1318.9 137.5 1315.3 138.0 1313.6 138.5 1314.5 139.0 1317.8 139.5 1320.0 140.0 1321.3 140.5 1319.3 141.0 1320.4 141.5 1320.1 142.0 1318.2 142.5 1322.6 143.0 1319.7 143.5 1318.8 144.0 1317.2 144.5 1318.8 145.0 1319.3 145.5 1319.1 146.0 1319.0 146.5 1318.2 147.0 1317.9 147.5 1317.3 148.0 1318.2 148.5 1320.5 149.0 1319.7 149.5 1318.0 150.0 1323.2 150.5 1317.6 151.0 1317.0 151.5 1317.5 152.0 1319.2 152.5 1314.0 153.0 1313.1 153.5 1314.6 154.0 1315.4 154.5 1319.1 155.0 1320.4 155.5 1321.1 156.0 1315.9 156.5 1318.3 157.0 1317.5 157.5 1322.7 158.0 1322.4 158.5 1322.2 159.0 1319.6 159.5 1322.5 160.0 1317.8 160.5 1316.3 161.0 1318.9 161.5 1317.8 162.0 1317.6 162.5 1320.2 163.0 1317.4 163.5 1318.4 164.0 1317.5 164.5 1319.1 165.0 1317.5 165.5 1319.1 166.0 1320.5 166.5 1318.1 167.0 1315.4 167.5 1315.1 168.0 1313.2 168.5 1319.0 169.0 1321.4 169.5 1320.1 170.0 1321.3 170.5 1321.1 171.0 1318.7 171.5 1319.4 172.0 1317.5 172.5 1317.8 173.0 1319.9 173.5 1319.3 174.0 1316.3 174.5 1320.6 175.0 1317.9 175.5 1321.1 176.0 1318.4 176.5 1314.6 177.0 1317.6 177.5 1318.1 178.0 1319.5 178.5 1316.7 179.0 1313.4 179.5 1317.1 180.0 1319.2 180.5 1320.4 181.0 1321.2 181.5 1319.9 182.0 1319.3 182.5 1318.4 183.0 1314.6 183.5 1315.2 184.0 1318.0 184.5 1317.8 185.0 1319.9 185.5 1321.8 186.0 1323.1 186.5 1323.0 187.0 1321.2 187.5 1317.8 188.0 1317.0 188.5 1318.1 189.0 1319.2 189.5 1319.8 190.0 1318.8 190.5 1317.2 191.0 1317.3 191.5 1318.1 192.0 1314.3 192.5 1316.6 193.0 1320.1 193.5 1315.6 194.0 1317.7 194.5 1319.0 195.0 1319.2 195.5 1319.1 196.0 1317.8 196.5 1317.2 197.0 1318.1 197.5 1316.6 198.0 1316.2 198.5 1317.7 199.0 1317.4 199.5 1319.3 200.0 1319.7 200.5 1316.8 201.0 1314.5 201.5 1316.8 202.0 1318.7 202.5 1319.9 203.0 1319.2 203.5 1320.2 204.0 1322.1 204.5 1320.7 205.0 1318.4 205.5 1318.3 206.0 1319.8 206.5 1319.9 207.0 1319.9 207.5 1317.8 208.0 1317.4 208.5 1318.3 209.0 1318.0 209.5 1319.5 210.0 1319.0 210.5 1319.6 211.0 1321.0 211.5 1319.6 212.0 1316.9 212.5 1317.3 213.0 1318.7 213.5 1317.6 214.0 1318.7 214.5 1320.6 215.0 1319.9 215.5 1317.3 216.0 1317.5 216.5 1317.3 217.0 1318.7 217.5 1316.1 218.0 1316.7 218.5 1318.3 219.0 1318.4 219.5 1317.7 220.0 1319.3 220.5 1316.3 221.0 1317.9 221.5 1321.0 222.0 1318.5 222.5 1320.0 223.0 1319.3 223.5 1321.5 224.0 1320.4 224.5 1316.5 225.0 1317.9 225.5 1313.6 226.0 1312.4 226.5 1315.1 227.0 1318.6 227.5 1316.7 228.0 1319.1 228.5 1317.9 229.0 1316.2 229.5 1316.5 230.0 1315.8 230.5 1314.5 231.0 1316.6 231.5 1318.2 232.0 1317.7 232.5 1317.3 233.0 1318.8 233.5 1316.3 234.0 1316.3 234.5 1317.6 235.0 1319.5 235.5 1317.5 236.0 1317.4 236.5 1319.1 237.0 1321.1 237.5 1318.6 238.0 1316.6 238.5 1314.7 239.0 1316.6 239.5 1324.9 240.0 1318.6 240.5 1318.7 241.0 1320.6 241.5 1319.3 242.0 1320.7 242.5 1318.7 243.0 1316.8 243.5 1318.8 244.0 1319.6 244.5 1320.2 245.0 1319.6 245.5 1321.5 246.0 1321.6 246.5 1325.0 247.0 1321.7 247.5 1321.4 248.0 1321.7 248.5 1319.3 249.0 1317.2 249.5 1319.5 250.0 1318.9 250.5 1320.5 251.0 1321.0 251.5 1319.6 252.0 1315.8 252.5 1316.4 253.0 1320.2 253.5 1317.2 254.0 1316.3 254.5 1318.5 255.0 1315.4 255.5 1318.9 256.0 1317.7 256.5 1319.5 257.0 1322.5 257.5 1321.0 258.0 1321.5 258.5 1321.3 259.0 1321.4 259.5 1322.8 260.0 1319.8 260.5 1319.8 261.0 1320.7 261.5 1318.9 262.0 1319.6 262.5 1319.2 263.0 1314.8 263.5 1318.0 264.0 1316.4 264.5 1315.7 265.0 1318.2 265.5 1315.3 266.0 1321.2 266.5 1320.2 267.0 1318.3 267.5 1317.4 268.0 1318.7 268.5 1319.5 269.0 1320.9 269.5 1318.7 270.0 1316.9 270.5 1319.2 271.0 1321.4 271.5 1318.3 272.0 1315.3 272.5 1317.3 273.0 1315.7 273.5 1316.0 274.0 1316.7 274.5 1318.7 275.0 1320.1 275.5 1318.3 276.0 1318.3 276.5 1315.0 277.0 1313.5 277.5 1314.5 278.0 1318.7 278.5 1321.9 279.0 1318.4 279.5 1316.8 280.0 1315.0 280.5 1313.1 281.0 1314.0 281.5 1314.9 282.0 1313.4 282.5 1315.8 283.0 1316.5 283.5 1319.7 284.0 1320.0 284.5 1320.4 285.0 1316.9 285.5 1318.1 286.0 1315.8 286.5 1313.0 287.0 1315.2 287.5 1314.7 288.0 1316.0 288.5 1317.8 289.0 1317.7 289.5 1319.6 290.0 1318.0 290.5 1317.3 291.0 1315.6 291.5 1317.4 292.0 1321.4 292.5 1319.2 293.0 1320.4 293.5 1318.2 294.0 1317.2 294.5 1316.6 295.0 1317.9 295.5 1316.9 296.0 1315.2 296.5 1317.7 297.0 1317.8 297.5 1315.6 298.0 1314.5 298.5 1313.2 299.0 1313.9 299.5 1318.9 300.0 1317.1 300.5 1316.8 301.0 1319.1 301.5 1322.7 302.0 1322.6 302.5 1319.9 303.0 1319.6 303.5 1320.1 304.0 1321.5 304.5 1317.2 305.0 1317.1 305.5 1317.8 306.0 1318.6 306.5 1319.8 307.0 1318.2 307.5 1317.1 308.0 1315.4 308.5 1313.5 309.0 1317.0 309.5 1314.9 310.0 1316.0 310.5 1318.6 311.0 1318.0 311.5 1317.6 312.0 1319.8 312.5 1320.4 313.0 1320.2 313.5 1317.6 314.0 1319.0 314.5 1321.2 315.0 1320.6 315.5 1324.0 316.0 1321.7 316.5 1320.3 317.0 1318.9 317.5 1320.5 318.0 1317.8 318.5 1318.8 319.0 1318.0 319.5 1321.0 320.0 1319.6 320.5 1319.1 321.0 1317.6 321.5 1319.5 322.0 1320.2 322.5 1323.5 323.0 1320.3 323.5 1321.2 324.0 1318.4 324.5 1321.1 325.0 1320.8 325.5 1317.1 326.0 1316.2 326.5 1315.0 327.0 1315.5 327.5 1318.6 328.0 1320.8 328.5 1321.2 329.0 1323.7 329.5 1321.4 330.0 1322.2 330.5 1321.8 331.0 1322.1 331.5 1325.6 332.0 1321.4 332.5 1320.0 333.0 1319.2 333.5 1317.4 334.0 1317.5 334.5 1317.7 335.0 1317.3 335.5 1319.5 336.0 1317.6 336.5 1317.7 337.0 1319.9 337.5 1318.9 338.0 1318.8 338.5 1315.7 339.0 1316.1 339.5 1314.7 340.0 1318.7 340.5 1319.2 341.0 1318.1 341.5 1319.7 342.0 1315.3 342.5 1316.0 343.0 1317.4 343.5 1313.9 344.0 1317.8 344.5 1318.1 345.0 1318.2 345.5 1318.8 346.0 1316.0 346.5 1316.2 347.0 1317.5 347.5 1317.0 348.0 1317.6 348.5 1319.1 349.0 1321.8 349.5 1322.2 350.0 1320.6 350.5 1318.3 351.0 1318.7 351.5 1318.8 352.0 1318.1 352.5 1320.0 353.0 1317.3 353.5 1323.5 354.0 1317.7 354.5 1318.3 355.0 1317.1 355.5 1316.9 356.0 1315.7 356.5 1320.0 357.0 1320.2 357.5 1321.9 358.0 1320.0 358.5 1321.7 359.0 1322.6 359.5 1320.7 360.0 1323.7 360.5 1322.2 361.0 1323.4 361.5 1323.8 362.0 1320.3 362.5 1318.7 363.0 1316.7 363.5 1317.4 364.0 1322.1 364.5 1321.1 365.0 1322.5 365.5 1318.4 366.0 1317.0 366.5 1319.7 367.0 1318.7 367.5 1317.8 368.0 1316.2 368.5 1320.8 369.0 1318.7 369.5 1319.0 370.0 1319.9 370.5 1317.0 371.0 1319.8 371.5 1314.1 372.0 1317.0 372.5 1317.2 373.0 1320.7 373.5 1322.6 374.0 1317.3 374.5 1315.3 375.0 1318.6 375.5 1319.9 376.0 1319.2 376.5 1319.8 377.0 1320.9 377.5 1321.6 378.0 1322.3 378.5 1318.8 379.0 1318.5 379.5 1318.6 380.0 1316.9 380.5 1316.5 381.0 1319.3 381.5 1318.3 382.0 1319.4 382.5 1317.8 383.0 1319.1 383.5 1318.5 384.0 1321.3 384.5 1319.6 385.0 1320.1 385.5 1317.5 386.0 1318.4 386.5 1320.2 387.0 1318.9 387.5 1320.2 388.0 1319.2 388.5 1320.6 389.0 1318.5 389.5 1322.1 390.0 1318.4 390.5 1320.6 391.0 1318.8 391.5 1318.1 392.0 1315.4 392.5 1317.5 393.0 1316.5 393.5 1315.9 394.0 1316.7 394.5 1314.2 395.0 1313.7 395.5 1316.3 396.0 1317.3 396.5 1319.8 397.0 1317.4 397.5 1319.3 398.0 1318.6 398.5 1320.5 399.0 1318.6 399.5 1320.2 400.0 1320.4 400.5 1319.9 401.0 1317.4 401.5 1320.7 402.0 1320.2 402.5 1318.4 403.0 1319.7 403.5 1319.9 404.0 1321.2 404.5 1320.2 405.0 1320.3 405.5 1319.5 406.0 1319.6 406.5 1317.3 407.0 1317.9 407.5 1317.4 408.0 1317.2 408.5 1317.1 409.0 1318.1 409.5 1314.9 410.0 1318.3 410.5 1317.0 411.0 1316.4 411.5 1320.4 412.0 1318.9 412.5 1319.5 413.0 1321.6 413.5 1316.3 414.0 1316.3 414.5 1314.8 415.0 1317.2 415.5 1319.8 416.0 1316.9 416.5 1315.6 417.0 1316.8 417.5 1319.9 418.0 1321.0 418.5 1321.6 419.0 1320.1 419.5 1323.8 420.0 1321.6 420.5 1320.7 421.0 1319.6 421.5 1319.6 422.0 1317.8 422.5 1318.2 423.0 1320.3 423.5 1320.8 424.0 1319.8 424.5 1318.8 425.0 1320.6 425.5 1319.6 426.0 1318.0 426.5 1316.8 427.0 1317.6 427.5 1320.4 428.0 1317.1 428.5 1317.3 429.0 1315.8 429.5 1317.1 430.0 1320.3 430.5 1321.1 431.0 1321.8 431.5 1320.1 432.0 1317.6 432.5 1314.5 433.0 1314.9 433.5 1315.7 434.0 1315.7 434.5 1318.4 435.0 1319.5 435.5 1318.8 436.0 1319.8 436.5 1318.9 437.0 1319.8 437.5 1320.8 438.0 1320.7 438.5 1321.5 439.0 1322.9 439.5 1322.7 440.0 1324.6 440.5 1321.1 441.0 1323.7 441.5 1320.4 442.0 1318.7 442.5 1317.0 443.0 1316.3 443.5 1320.4 444.0 1317.1 444.5 1317.5 445.0 1318.8 445.5 1315.3 446.0 1318.0 446.5 1319.0 447.0 1318.5 447.5 1318.1 448.0 1317.9 448.5 1319.5 449.0 1318.1 449.5 1320.1 450.0 1318.7 450.5 1317.7 451.0 1318.8 451.5 1315.6 452.0 1318.1 452.5 1318.8 453.0 1318.0 453.5 1316.5 454.0 1316.5 454.5 1316.8 455.0 1319.3 455.5 1319.8 456.0 1320.7 456.5 1322.1 457.0 1324.1 457.5 1321.1 458.0 1319.7 458.5 1321.4 459.0 1322.4 459.5 1322.2 460.0 1323.3 460.5 1322.3 461.0 1317.9 461.5 1317.6 462.0 1318.6 462.5 1313.9 463.0 1315.4 463.5 1318.0 464.0 1317.9 464.5 1316.4 465.0 1320.4 465.5 1321.5 466.0 1319.6 466.5 1319.0 467.0 1321.0 467.5 1317.4 468.0 1319.4 468.5 1316.6 469.0 1317.6 469.5 1318.4 470.0 1316.5 470.5 1318.1 471.0 1318.6 471.5 1319.6 472.0 1321.9 472.5 1319.3 473.0 1318.9 473.5 1319.3 474.0 1317.5 474.5 1320.9 475.0 1321.0 475.5 1320.5 476.0 1317.3 476.5 1317.6 477.0 1318.5 477.5 1320.0 478.0 1320.1 478.5 1323.2 479.0 1321.5 479.5 1322.3 480.0 1323.8 480.5 1321.8 481.0 1321.5 481.5 1320.7 482.0 1320.5 482.5 1323.2 483.0 1319.2 483.5 1317.3 484.0 1317.7 484.5 1318.2 485.0 1316.5 485.5 1317.7 486.0 1319.8 486.5 1319.5 487.0 1319.6 487.5 1320.3 488.0 1324.4 488.5 1320.2 489.0 1317.2 489.5 1316.8 490.0 1318.5 490.5 1318.5 491.0 1320.7 491.5 1320.0 492.0 1316.8 492.5 1318.3 493.0 1313.5 493.5 1314.9 494.0 1316.8 494.5 1316.6 495.0 1320.0 495.5 1318.9 496.0 1318.9 496.5 1321.5 497.0 1320.6 497.5 1318.5 498.0 1315.6 498.5 1316.7 499.0 1318.8 499.5 1319.4 500.0 1321.4 500.5 1322.8 501.0 1319.8 501.5 1322.1 502.0 1320.2 502.5 1320.5 503.0 1318.4 503.5 1316.7 504.0 1319.2 504.5 1320.7 505.0 1318.7 505.5 1316.3 506.0 1314.6 506.5 1314.5 507.0 1313.5 507.5 1316.9 508.0 1317.8 508.5 1317.5 509.0 1319.4 509.5 1317.6 510.0 1319.6 510.5 1317.3 511.0 1318.3 511.5 1320.0 512.0 1318.5 512.5 1318.9 513.0 1321.4 513.5 1321.9 514.0 1323.6 514.5 1321.8 515.0 1319.6 515.5 1321.4 516.0 1321.0 516.5 1317.3 517.0 1320.8 517.5 1322.2 518.0 1317.6 518.5 1319.2 519.0 1317.9 519.5 1321.1 520.0 1321.3 520.5 1320.8 521.0 1318.5 521.5 1320.2 522.0 1315.4 522.5 1317.6 523.0 1313.2 523.5 1316.8 524.0 1320.1 524.5 1319.0 525.0 1317.8 525.5 1316.6 526.0 1316.2 526.5 1317.0 527.0 1316.6 527.5 1318.3 528.0 1316.8 528.5 1317.7 529.0 1314.3 529.5 1319.0 530.0 1316.7 530.5 1316.8 531.0 1312.6 531.5 1313.4 532.0 1313.5 532.5 1315.1 533.0 1318.3 533.5 1320.0 534.0 1319.2 534.5 1319.7 535.0 1318.8 535.5 1317.8" fill="none" stroke="#000" stroke-width="4.5" stroke-linejoin="bevel"/>
<line x1="109.80" y1="1074.45" x2="109.80" y2="1365.35" stroke="#000" stroke-width="3.5" stroke-linecap="butt"/>
<line x1="100.05" y1="1363.60" x2="109.80" y2="1363.60" stroke="#000" stroke-width="3.5" stroke-linecap="butt"/>
<text x="98.6" y="1372.2" font-size="23.3" text-anchor="end" font-weight="bold" >0.5</text>
<line x1="100.05" y1="1306.12" x2="109.80" y2="1306.12" stroke="#000" stroke-width="3.5" stroke-linecap="butt"/>
<text x="98.6" y="1314.7" font-size="23.3" text-anchor="end" font-weight="bold" >0.6</text>
<line x1="100.05" y1="1248.64" x2="109.80" y2="1248.64" stroke="#000" stroke-width="3.5" stroke-linecap="butt"/>
<text x="98.6" y="1257.2" font-size="23.3" text-anchor="end" font-weight="bold" >0.7</text>
<line x1="100.05" y1="1191.16" x2="109.80" y2="1191.16" stroke="#000" stroke-width="3.5" stroke-linecap="butt"/>
<text x="98.6" y="1199.8" font-size="23.3" text-anchor="end" font-weight="bold" >0.8</text>
<line x1="100.05" y1="1133.68" x2="109.80" y2="1133.68" stroke="#000" stroke-width="3.5" stroke-linecap="butt"/>
<text x="98.6" y="1142.3" font-size="23.3" text-anchor="end" font-weight="bold" >0.9</text>
<line x1="100.05" y1="1076.20" x2="109.80" y2="1076.20" stroke="#000" stroke-width="3.5" stroke-linecap="butt"/>
<text x="98.6" y="1084.8" font-size="23.3" text-anchor="end" font-weight="bold" >1.0</text>
<line x1="103.05" y1="1334.86" x2="109.80" y2="1334.86" stroke="#000" stroke-width="3.5" stroke-linecap="butt"/>
<line x1="103.05" y1="1277.38" x2="109.80" y2="1277.38" stroke="#000" stroke-width="3.5" stroke-linecap="butt"/>
<line x1="103.05" y1="1219.90" x2="109.80" y2="1219.90" stroke="#000" stroke-width="3.5" stroke-linecap="butt"/>
<line x1="103.05" y1="1162.42" x2="109.80" y2="1162.42" stroke="#000" stroke-width="3.5" stroke-linecap="butt"/>
<line x1="103.05" y1="1104.94" x2="109.80" y2="1104.94" stroke="#000" stroke-width="3.5" stroke-linecap="butt"/>
<line x1="108.15" y1="1363.60" x2="535.75" y2="1363.60" stroke="#000" stroke-width="3.5" stroke-linecap="butt"/>
<line x1="109.90" y1="1363.60" x2="109.90" y2="1373.35" stroke="#000" stroke-width="3.5" stroke-linecap="butt"/>
<text x="109.9" y="1397.0" font-size="22.5" text-anchor="middle" font-weight="bold" >0</text>
<line x1="215.93" y1="1363.60" x2="215.93" y2="1373.35" stroke="#000" stroke-width="3.5" stroke-linecap="butt"/>
<text x="215.9" y="1397.0" font-size="22.5" text-anchor="middle" font-weight="bold" >500</text>
<line x1="321.95" y1="1363.60" x2="321.95" y2="1373.35" stroke="#000" stroke-width="3.5" stroke-linecap="butt"/>
<text x="322.0" y="1397.0" font-size="22.5" text-anchor="middle" font-weight="bold" >1000</text>
<line x1="427.98" y1="1363.60" x2="427.98" y2="1373.35" stroke="#000" stroke-width="3.5" stroke-linecap="butt"/>
<text x="428.0" y="1397.0" font-size="22.5" text-anchor="middle" font-weight="bold" >1500</text>
<line x1="534.00" y1="1363.60" x2="534.00" y2="1373.35" stroke="#000" stroke-width="3.5" stroke-linecap="butt"/>
<text x="534.0" y="1397.0" font-size="22.5" text-anchor="middle" font-weight="bold" >2000</text>
<line x1="162.91" y1="1363.60" x2="162.91" y2="1370.35" stroke="#000" stroke-width="3.5" stroke-linecap="butt"/>
<line x1="268.94" y1="1363.60" x2="268.94" y2="1370.35" stroke="#000" stroke-width="3.5" stroke-linecap="butt"/>
<line x1="374.96" y1="1363.60" x2="374.96" y2="1370.35" stroke="#000" stroke-width="3.5" stroke-linecap="butt"/>
<line x1="480.99" y1="1363.60" x2="480.99" y2="1370.35" stroke="#000" stroke-width="3.5" stroke-linecap="butt"/>
<text x="321.0" y="1427.5" font-size="22.3" text-anchor="middle" font-weight="bold" >Time (sec)</text>
<g transform="translate(48.0,1218.3) rotate(-90)">
<text x="0.0" y="0.0" font-size="24" text-anchor="middle" font-weight="bold" >F<tspan font-size="17.5" dy="6.7">340</tspan><tspan dy="-6.7">/F</tspan><tspan font-size="17.5" dy="6.7">380</tspan></text>
</g>
<text x="278.3" y="1073.3" font-size="23" text-anchor="start" font-weight="bold" >H<tspan font-size="18.0" dy="6.0">2</tspan><tspan dy="-6.0">O</tspan><tspan font-size="18.0" dy="6.0">2</tspan><tspan dy="-6.0"> 50 </tspan><tspan font-weight="normal" font-family="Liberation Serif, serif" font-size="25.0" dx="1.5">&#181;</tspan><tspan font-size="24.5">M</tspan></text>
<line x1="158.80" y1="1083.30" x2="539.80" y2="1083.30" stroke="#000" stroke-width="3.8" stroke-linecap="butt"/>
<line x1="314.70" y1="1169.00" x2="346.40" y2="1169.00" stroke="#42ECB0" stroke-width="4.5" stroke-linecap="butt"/>
<text x="363.0" y="1176.7" font-size="23" text-anchor="start" font-weight="bold" >Ctrl</text>
<line x1="314.70" y1="1200.30" x2="346.40" y2="1200.30" stroke="#F00000" stroke-width="4.5" stroke-linecap="butt"/>
<text x="363.0" y="1207.4" font-size="23" text-anchor="start" font-weight="bold" >DTT 5 mM</text>
<line x1="314.70" y1="1228.40" x2="346.40" y2="1228.40" stroke="#F7A3A3" stroke-width="4.5" stroke-linecap="butt"/>
<text x="363.0" y="1235.5" font-size="23" text-anchor="start" font-weight="bold" >Catalase 500 U/mL</text>
<line x1="314.70" y1="1258.20" x2="346.40" y2="1258.20" stroke="#000" stroke-width="4.5" stroke-linecap="butt"/>
<text x="363.0" y="1265.3" font-size="23" text-anchor="start" font-weight="bold" >Deferoxamine 100 <tspan font-weight="normal" font-family="Liberation Serif, serif" font-size="26.0" dx="2">&#181;</tspan><tspan font-size="24.5">M</tspan></text>
<text transform="translate(5.75,1528.54) scale(0.9538,1)" font-size="108.76" font-weight="bold">G</text>
<path d="M109.0 1848.9 109.5 1847.1 110.0 1858.0 110.5 1843.5 111.0 1840.8 111.5 1846.7 112.0 1845.2 112.5 1844.6 113.0 1845.9 113.5 1846.4 114.0 1846.7 114.5 1844.3 115.0 1847.7 115.5 1847.7 116.0 1847.6 116.5 1847.9 117.0 1848.1 117.5 1849.0 118.0 1847.3 118.5 1847.4 119.0 1847.4 119.5 1849.6 120.0 1848.9 120.5 1845.5 121.0 1850.6 121.5 1849.8 122.0 1850.9 122.5 1849.7 123.0 1850.3 123.5 1849.1 124.0 1848.9 124.5 1842.9 125.0 1844.9 125.5 1850.2 126.0 1848.9 126.5 1843.1 127.0 1848.6 127.5 1848.8 128.0 1850.7 128.5 1849.8 129.0 1849.9 129.5 1847.8 130.0 1849.7 130.5 1853.9 131.0 1851.1 131.5 1849.1 132.0 1850.2 132.5 1850.4 133.0 1850.8 133.5 1849.9 134.0 1851.0 134.5 1850.9 135.0 1851.2 135.5 1851.7 136.0 1849.6 136.5 1851.1 137.0 1850.7 137.5 1850.5 138.0 1850.1 138.5 1848.8 139.0 1849.5 139.5 1849.5 140.0 1843.2 140.5 1849.1 141.0 1847.8 141.5 1848.6 142.0 1849.1 142.5 1849.0 143.0 1849.5 143.5 1846.7 144.0 1851.3 144.5 1846.3 145.0 1849.3 145.5 1850.1 146.0 1849.8 146.5 1849.6 147.0 1850.5 147.5 1852.0 148.0 1852.2 148.5 1849.3 149.0 1852.6 149.5 1852.9 150.0 1852.4 150.5 1849.8 151.0 1849.2 151.5 1850.3 152.0 1848.5 152.5 1847.7 153.0 1848.2 153.5 1845.1 154.0 1844.9 154.5 1846.2 155.0 1847.3 155.5 1849.3 156.0 1846.5 156.5 1844.8 157.0 1845.2 157.5 1845.9 158.0 1841.7 158.5 1847.4 159.0 1847.2 159.5 1843.4 160.0 1845.8 160.5 1851.8 161.0 1847.9 161.5 1847.0 162.0 1851.9 162.5 1843.9 163.0 1849.9 163.5 1845.0 164.0 1851.5 164.5 1846.8 165.0 1842.5 165.5 1841.8 166.0 1842.5 166.5 1851.1 167.0 1844.3 167.5 1841.4 168.0 1840.4 168.5 1840.0 169.0 1843.8 169.5 1837.9 170.0 1843.0 170.5 1845.3 171.0 1845.5 171.5 1844.6 172.0 1850.6 172.5 1843.9 173.0 1842.2 173.5 1850.2 174.0 1843.9 174.5 1841.6 175.0 1838.9 175.5 1841.2 176.0 1841.3 176.5 1842.0 177.0 1840.7 177.5 1841.0 178.0 1841.0 178.5 1840.0 179.0 1839.7 179.5 1850.4 180.0 1842.0 180.5 1842.2 181.0 1841.2 181.5 1842.3 182.0 1844.4 182.5 1843.7 183.0 1843.4 183.5 1835.5 184.0 1844.2 184.5 1839.5 185.0 1841.1 185.5 1842.4 186.0 1842.0 186.5 1842.0 187.0 1847.7 187.5 1830.6 188.0 1840.3 188.5 1839.2 189.0 1842.1 189.5 1842.8 190.0 1842.4 190.5 1843.5 191.0 1843.5 191.5 1843.8 192.0 1841.6 192.5 1850.5 193.0 1841.4 193.5 1840.5 194.0 1842.1 194.5 1841.9 195.0 1842.4 195.5 1842.8 196.0 1842.6 196.5 1842.0 197.0 1848.8 197.5 1847.6 198.0 1843.2 198.5 1839.5 199.0 1843.4 199.5 1842.9 200.0 1842.2 200.5 1842.4 201.0 1842.4 201.5 1852.7 202.0 1842.8 202.5 1840.6 203.0 1836.8 203.5 1842.0 204.0 1841.3 204.5 1839.2 205.0 1839.0 205.5 1842.1 206.0 1836.7 206.5 1840.1 207.0 1842.5 207.5 1852.0 208.0 1844.3 208.5 1842.8 209.0 1842.4 209.5 1843.8 210.0 1844.3 210.5 1850.9 211.0 1844.0 211.5 1842.4 212.0 1840.9 212.5 1834.7 213.0 1842.5 213.5 1840.7 214.0 1841.0 214.5 1838.6 215.0 1841.3 215.5 1848.9 216.0 1841.9 216.5 1845.3 217.0 1843.6 217.5 1841.3 218.0 1842.7 218.5 1843.9 219.0 1850.0 219.5 1842.9 220.0 1843.0 220.5 1842.0 221.0 1842.6 221.5 1842.1 222.0 1843.8 222.5 1836.4 223.0 1835.0 223.5 1842.9 224.0 1848.0 224.5 1843.0 225.0 1842.5 225.5 1841.7 226.0 1841.9 226.5 1847.2 227.0 1842.0 227.5 1840.0 228.0 1841.7 228.5 1841.6 229.0 1841.6 229.5 1841.2 230.0 1843.7 230.5 1842.8 231.0 1840.1 231.5 1843.5 232.0 1849.6 232.5 1837.6 233.0 1842.9 233.5 1851.3 234.0 1843.2 234.5 1838.9 235.0 1842.7 235.5 1843.1 236.0 1849.9 236.5 1843.0 237.0 1840.9 237.5 1839.3 238.0 1841.4 238.5 1839.4 239.0 1839.9 239.5 1837.9 240.0 1844.0 240.5 1845.7 241.0 1849.1 241.5 1845.8 242.0 1845.8 242.5 1842.6 243.0 1844.7 243.5 1845.0 244.0 1844.8 244.5 1844.4 245.0 1843.5 245.5 1844.3 246.0 1842.8 246.5 1845.4 247.0 1842.7 247.5 1837.3 248.0 1849.0 248.5 1843.3 249.0 1842.1 249.5 1843.0 250.0 1843.7 250.5 1843.4 251.0 1841.4 251.5 1839.7 252.0 1841.9 252.5 1841.7 253.0 1843.4 253.5 1838.9 254.0 1843.4 254.5 1842.7 255.0 1842.0 255.5 1841.3 256.0 1840.5 256.5 1842.1 257.0 1841.2 257.5 1840.8 258.0 1841.7 258.5 1842.0 259.0 1845.2 259.5 1845.9 260.0 1850.0 260.5 1843.3 261.0 1842.0 261.5 1842.1 262.0 1843.1 262.5 1846.0 263.0 1839.2 263.5 1843.6 264.0 1844.7 264.5 1843.6 265.0 1844.2 265.5 1841.7 266.0 1839.6 266.5 1839.8 267.0 1840.8 267.5 1840.7 268.0 1842.4 268.5 1844.3 269.0 1843.7 269.5 1843.5 270.0 1842.9 270.5 1840.6 271.0 1840.8 271.5 1842.4 272.0 1842.8 272.5 1842.6 273.0 1842.5 273.5 1842.7 274.0 1844.8 274.5 1839.9 275.0 1844.4 275.5 1843.8 276.0 1847.4 276.5 1844.6 277.0 1842.9 277.5 1840.9 278.0 1842.6 278.5 1844.5 279.0 1847.3 279.5 1840.5 280.0 1844.7 280.5 1844.4 281.0 1842.2 281.5 1842.5 282.0 1844.3 282.5 1841.9 283.0 1841.8 283.5 1842.5 284.0 1845.8 284.5 1845.0 285.0 1846.5 285.5 1843.8 286.0 1843.0 286.5 1842.3 287.0 1843.8 287.5 1841.0 288.0 1842.0 288.5 1845.3 289.0 1846.1 289.5 1845.0 290.0 1842.6 290.5 1842.9 291.0 1844.7 291.5 1843.3 292.0 1842.4 292.5 1843.1 293.0 1848.1 293.5 1844.6 294.0 1844.8 294.5 1844.7 295.0 1843.9 295.5 1842.5 296.0 1841.5 296.5 1842.1 297.0 1841.2 297.5 1841.9 298.0 1841.2 298.5 1840.0 299.0 1842.6 299.5 1843.1 300.0 1843.2 300.5 1843.6 301.0 1844.5 301.5 1842.7 302.0 1843.5 302.5 1844.9 303.0 1843.4 303.5 1844.6 304.0 1844.5 304.5 1843.9 305.0 1846.7 305.5 1845.9 306.0 1845.7 306.5 1845.3 307.0 1844.4 307.5 1847.1 308.0 1847.4 308.5 1847.5 309.0 1845.1 309.5 1843.4 310.0 1842.3 310.5 1839.6 311.0 1841.2 311.5 1841.9 312.0 1844.9 312.5 1845.8 313.0 1846.5 313.5 1843.5 314.0 1845.9 314.5 1846.4 315.0 1846.5 315.5 1847.1 316.0 1842.3 316.5 1845.8 317.0 1844.7 317.5 1845.3 318.0 1844.7 318.5 1846.6 319.0 1844.4 319.5 1844.9 320.0 1844.9 320.5 1845.5 321.0 1849.4 321.5 1840.2 322.0 1845.0 322.5 1844.6 323.0 1845.5 323.5 1844.5 324.0 1847.4 324.5 1845.4 325.0 1843.1 325.5 1842.7 326.0 1844.4 326.5 1843.8 327.0 1843.0 327.5 1842.7 328.0 1841.4 328.5 1842.3 329.0 1843.0 329.5 1844.4 330.0 1844.2 330.5 1845.7 331.0 1844.5 331.5 1846.2 332.0 1845.5 332.5 1845.4 333.0 1846.5 333.5 1844.6 334.0 1848.3 334.5 1847.4 335.0 1849.1 335.5 1854.1 336.0 1848.0 336.5 1848.0 337.0 1849.0 337.5 1846.6 338.0 1848.0 338.5 1849.7 339.0 1847.0 339.5 1845.9 340.0 1848.1 340.5 1846.4 341.0 1846.4 341.5 1847.5 342.0 1844.0 342.5 1846.0 343.0 1842.6 343.5 1846.4 344.0 1844.4 344.5 1845.3 345.0 1843.6 345.5 1844.0 346.0 1844.8 346.5 1845.0 347.0 1846.6 347.5 1846.1 348.0 1845.8 348.5 1848.1 349.0 1846.0 349.5 1845.9 350.0 1847.8 350.5 1846.3 351.0 1847.3 351.5 1849.5 352.0 1848.6 352.5 1847.4 353.0 1847.3 353.5 1846.5 354.0 1846.9 354.5 1845.8 355.0 1845.6 355.5 1844.7 356.0 1846.6 356.5 1845.1 357.0 1846.0 357.5 1845.4 358.0 1848.9 358.5 1849.1 359.0 1852.0 359.5 1847.9 360.0 1848.5 360.5 1851.3 361.0 1847.5 361.5 1847.7 362.0 1846.2 362.5 1847.0 363.0 1846.9 363.5 1847.9 364.0 1847.1 364.5 1846.5 365.0 1849.0 365.5 1848.5 366.0 1847.1 366.5 1847.5 367.0 1847.5 367.5 1845.8 368.0 1847.2 368.5 1847.4 369.0 1846.6 369.5 1846.6 370.0 1846.3 370.5 1845.5 371.0 1847.0 371.5 1844.9 372.0 1846.8 372.5 1852.5 373.0 1847.6 373.5 1847.0 374.0 1845.8 374.5 1845.9 375.0 1843.4 375.5 1846.8 376.0 1847.2 376.5 1847.5 377.0 1845.7 377.5 1847.9 378.0 1847.9 378.5 1847.3 379.0 1847.0 379.5 1848.4 380.0 1848.8 380.5 1846.2 381.0 1846.5 381.5 1847.5 382.0 1846.5 382.5 1847.9 383.0 1845.1 383.5 1845.7 384.0 1846.8 384.5 1846.5 385.0 1847.2 385.5 1846.6 386.0 1849.8 386.5 1849.3 387.0 1850.2 387.5 1848.9 388.0 1850.2 388.5 1849.3 389.0 1848.5 389.5 1849.3 390.0 1847.8 390.5 1846.6 391.0 1849.1 391.5 1850.7 392.0 1848.7 392.5 1843.5 393.0 1848.1 393.5 1848.8 394.0 1848.5 394.5 1847.7 395.0 1848.3 395.5 1847.6 396.0 1849.4 396.5 1849.8 397.0 1848.5 397.5 1850.4 398.0 1849.8 398.5 1851.1 399.0 1851.6 399.5 1851.1 400.0 1850.8 400.5 1849.3 401.0 1849.7 401.5 1850.3 402.0 1849.4 402.5 1847.6 403.0 1848.2 403.5 1844.5 404.0 1846.8 404.5 1847.3 405.0 1848.5 405.5 1849.6 406.0 1848.2 406.5 1849.8 407.0 1849.8 407.5 1848.8 408.0 1851.2 408.5 1848.9 409.0 1849.6 409.5 1847.4 410.0 1846.4 410.5 1849.8 411.0 1848.4 411.5 1847.2 412.0 1850.1 412.5 1850.5 413.0 1848.7 413.5 1849.7 414.0 1847.7 414.5 1849.0 415.0 1848.7 415.5 1849.1 416.0 1848.7 416.5 1849.6 417.0 1849.7 417.5 1852.1 418.0 1851.7 418.5 1852.6 419.0 1851.3 419.5 1849.4 420.0 1845.2 420.5 1850.2 421.0 1850.2 421.5 1849.2 422.0 1846.5 422.5 1847.7 423.0 1848.9 423.5 1850.1 424.0 1848.5 424.5 1851.7 425.0 1850.7 425.5 1850.5 426.0 1849.7 426.5 1847.6 427.0 1850.0 427.5 1849.0 428.0 1850.2 428.5 1851.6 429.0 1852.0 429.5 1850.8 430.0 1850.6 430.5 1849.7 431.0 1848.3 431.5 1848.0 432.0 1849.9 432.5 1849.6 433.0 1848.7 433.5 1852.3 434.0 1851.7 434.5 1851.3 435.0 1852.0 435.5 1852.6 436.0 1851.1 436.5 1857.7 437.0 1852.3 437.5 1849.6 438.0 1848.9 438.5 1850.7 439.0 1851.0 439.5 1852.2 440.0 1850.5 440.5 1845.0 441.0 1850.3 441.5 1851.0 442.0 1851.3 442.5 1849.4 443.0 1848.9 443.5 1850.3 444.0 1852.4 444.5 1849.5 445.0 1848.0 445.5 1847.3 446.0 1848.5 446.5 1848.4 447.0 1848.5 447.5 1849.9 448.0 1844.4 448.5 1849.7 449.0 1850.1 449.5 1851.3 450.0 1848.5 450.5 1848.0 451.0 1847.7 451.5 1842.9 452.0 1847.1 452.5 1851.2 453.0 1850.4 453.5 1848.7 454.0 1848.3 454.5 1848.4 455.0 1846.6 455.5 1847.6 456.0 1849.4 456.5 1850.7 457.0 1847.5 457.5 1848.8 458.0 1847.9 458.5 1847.2 459.0 1850.1 459.5 1848.9 460.0 1849.8 460.5 1849.7 461.0 1848.5 461.5 1850.1 462.0 1849.4 462.5 1849.2 463.0 1848.7 463.5 1849.9 464.0 1849.2 464.5 1850.3 465.0 1848.5 465.5 1848.9 466.0 1847.8 466.5 1847.3 467.0 1848.9 467.5 1849.2 468.0 1848.3 468.5 1848.2 469.0 1849.5 469.5 1848.9 470.0 1847.8 470.5 1848.7 471.0 1850.2 471.5 1844.6 472.0 1847.4 472.5 1849.1 473.0 1858.0 473.5 1849.3 474.0 1849.8 474.5 1848.5 475.0 1849.1 475.5 1848.6 476.0 1848.7 476.5 1849.9 477.0 1849.6 477.5 1852.0 478.0 1850.0 478.5 1850.1 479.0 1848.1 479.5 1847.3 480.0 1848.0 480.5 1848.6 481.0 1849.2 481.5 1848.1 482.0 1846.9 482.5 1848.0 483.0 1848.1 483.5 1847.7 484.0 1848.4 484.5 1848.1 485.0 1848.6 485.5 1847.2 486.0 1846.5 486.5 1845.6 487.0 1849.1 487.5 1849.1 488.0 1849.8 488.5 1852.0 489.0 1851.2 489.5 1850.0 490.0 1848.9 490.5 1849.2 491.0 1849.8 491.5 1848.8 492.0 1848.8 492.5 1849.9 493.0 1849.7 493.5 1850.5 494.0 1849.7 494.5 1853.3 495.0 1851.1 495.5 1852.8 496.0 1849.8 496.5 1855.2 497.0 1848.5 497.5 1849.3 498.0 1848.0 498.5 1848.4 499.0 1849.5 499.5 1850.1 500.0 1850.7 500.5 1847.6 501.0 1845.6 501.5 1848.0 502.0 1848.3 502.5 1849.1 503.0 1851.5 503.5 1850.2 504.0 1850.8 504.5 1851.4 505.0 1847.6 505.5 1842.2 506.0 1848.2 506.5 1851.6 507.0 1850.7 507.5 1849.8 508.0 1850.7 508.5 1855.9 509.0 1851.1 509.5 1849.3 510.0 1848.7 510.5 1851.0 511.0 1848.3 511.5 1848.0 512.0 1849.6 512.5 1850.8 513.0 1848.8 513.5 1851.0 514.0 1850.7 514.5 1851.4 515.0 1854.2 515.5 1850.5 516.0 1848.8 516.5 1848.0 517.0 1851.3 517.5 1848.6 518.0 1849.5 518.5 1850.7 519.0 1852.1 519.5 1851.7 520.0 1852.8 520.5 1853.2 521.0 1850.9 521.5 1851.3 522.0 1851.6 522.5 1849.5 523.0 1849.5 523.5 1849.6 524.0 1847.3 524.5 1849.9 525.0 1846.5 525.5 1847.7 526.0 1842.2 526.5 1849.1 527.0 1848.4 527.5 1847.9 528.0 1849.6 528.5 1850.3 529.0 1849.3 529.5 1850.3 530.0 1849.9 530.5 1850.9 531.0 1851.1 531.5 1847.2 532.0 1851.7 532.5 1851.3 533.0 1851.4 533.5 1849.7" fill="none" stroke="#6A6A6A" stroke-width="4.5" stroke-linejoin="bevel"/>
<path d="M109.0 1848.5 109.5 1849.8 110.0 1849.0 110.5 1849.7 111.0 1850.0 111.5 1848.9 112.0 1848.9 112.5 1848.1 113.0 1849.3 113.5 1851.3 114.0 1849.7 114.5 1850.9 115.0 1850.2 115.5 1848.6 116.0 1849.5 116.5 1849.3 117.0 1847.9 117.5 1849.1 118.0 1847.2 118.5 1847.7 119.0 1849.5 119.5 1847.5 120.0 1848.8 120.5 1849.0 121.0 1848.8 121.5 1848.3 122.0 1848.2 122.5 1848.7 123.0 1847.9 123.5 1847.5 124.0 1849.4 124.5 1848.6 125.0 1849.7 125.5 1849.4 126.0 1848.1 126.5 1848.3 127.0 1846.8 127.5 1847.7 128.0 1848.4 128.5 1847.5 129.0 1847.6 129.5 1848.4 130.0 1850.8 130.5 1850.0 131.0 1850.5 131.5 1850.4 132.0 1849.6 132.5 1848.8 133.0 1848.5 133.5 1847.9 134.0 1849.7 134.5 1849.0 135.0 1849.0 135.5 1848.7 136.0 1850.1 136.5 1849.6 137.0 1849.6 137.5 1847.9 138.0 1848.2 138.5 1848.0 139.0 1846.9 139.5 1849.2 140.0 1848.9 140.5 1848.4 141.0 1849.7 141.5 1848.6 142.0 1850.8 142.5 1851.2 143.0 1850.3 143.5 1850.9 144.0 1851.0 144.5 1848.3 145.0 1846.2 145.5 1848.0 146.0 1845.4 146.5 1845.2 147.0 1849.0 147.5 1849.2 148.0 1848.9 148.5 1849.5 149.0 1848.0 149.5 1848.3 150.0 1849.2 150.5 1848.9 151.0 1849.7 151.5 1849.5 152.0 1850.5 152.5 1849.2 153.0 1849.3 153.5 1854.8 154.0 1852.6 154.5 1851.5 155.0 1851.4 155.5 1848.6 156.0 1850.7 156.5 1847.2 157.0 1848.3 157.5 1849.3 158.0 1848.2 158.5 1847.9 159.0 1848.1 159.5 1848.9 160.0 1848.9 160.5 1847.5 161.0 1846.3 161.5 1845.9 162.0 1849.4 162.5 1848.3 163.0 1847.8 163.5 1848.0 164.0 1847.7 164.5 1847.9 165.0 1848.0 165.5 1848.6 166.0 1848.2 166.5 1848.1 167.0 1847.9 167.5 1848.6 168.0 1849.1 168.5 1848.8 169.0 1848.3 169.5 1848.4 170.0 1846.3 170.5 1847.7 171.0 1846.3 171.5 1844.5 172.0 1846.0 172.5 1846.6 173.0 1847.2 173.5 1845.9 174.0 1845.4 174.5 1846.4 175.0 1845.6 175.5 1843.4 176.0 1842.9 176.5 1842.7 177.0 1844.3 177.5 1844.3 178.0 1845.7 178.5 1843.8 179.0 1842.8 179.5 1845.0 180.0 1844.3 180.5 1846.1 181.0 1843.5 181.5 1843.8 182.0 1842.0 182.5 1841.6 183.0 1842.6 183.5 1842.4 184.0 1841.0 184.5 1841.7 185.0 1841.6 185.5 1841.8 186.0 1842.0 186.5 1842.5 187.0 1842.1 187.5 1841.4 188.0 1842.0 188.5 1840.6 189.0 1841.4 189.5 1840.9 190.0 1840.8 190.5 1842.4 191.0 1839.8 191.5 1840.8 192.0 1839.5 192.5 1839.7 193.0 1840.3 193.5 1840.8 194.0 1840.6 194.5 1840.0 195.0 1839.6 195.5 1840.4 196.0 1840.5 196.5 1840.5 197.0 1840.7 197.5 1840.0 198.0 1837.3 198.5 1838.6 199.0 1836.9 199.5 1838.7 200.0 1840.6 200.5 1840.9 201.0 1838.4 201.5 1839.3 202.0 1839.2 202.5 1840.6 203.0 1839.8 203.5 1839.3 204.0 1838.0 204.5 1839.5 205.0 1839.8 205.5 1841.7 206.0 1839.0 206.5 1838.1 207.0 1839.0 207.5 1839.2 208.0 1839.2 208.5 1840.3 209.0 1839.0 209.5 1840.8 210.0 1838.3 210.5 1837.9 211.0 1837.6 211.5 1838.8 212.0 1839.0 212.5 1838.5 213.0 1837.6 213.5 1837.1 214.0 1838.3 214.5 1839.3 215.0 1840.1 215.5 1842.0 216.0 1840.7 216.5 1840.1 217.0 1840.3 217.5 1839.8 218.0 1840.0 218.5 1840.3 219.0 1837.8 219.5 1839.4 220.0 1837.3 220.5 1837.6 221.0 1835.6 221.5 1838.5 222.0 1841.5 222.5 1837.7 223.0 1838.5 223.5 1838.0 224.0 1835.6 224.5 1837.4 225.0 1837.5 225.5 1836.8 226.0 1838.1 226.5 1838.4 227.0 1836.6 227.5 1837.4 228.0 1838.5 228.5 1838.2 229.0 1837.4 229.5 1837.7 230.0 1837.2 230.5 1835.9 231.0 1835.0 231.5 1836.1 232.0 1834.8 232.5 1835.1 233.0 1835.9 233.5 1839.0 234.0 1837.7 234.5 1835.1 235.0 1833.5 235.5 1834.1 236.0 1834.1 236.5 1833.5 237.0 1836.3 237.5 1838.3 238.0 1836.1 238.5 1836.4 239.0 1836.2 239.5 1834.2 240.0 1835.4 240.5 1835.4 241.0 1836.0 241.5 1836.5 242.0 1835.2 242.5 1834.2 243.0 1836.0 243.5 1836.3 244.0 1834.2 244.5 1834.7 245.0 1835.3 245.5 1833.9 246.0 1834.3 246.5 1833.5 247.0 1833.0 247.5 1834.2 248.0 1832.3 248.5 1833.5 249.0 1832.6 249.5 1834.0 250.0 1835.6 250.5 1835.5 251.0 1835.0 251.5 1835.0 252.0 1834.8 252.5 1832.6 253.0 1833.2 253.5 1832.1 254.0 1833.6 254.5 1833.0 255.0 1833.4 255.5 1832.9 256.0 1831.4 256.5 1832.0 257.0 1831.6 257.5 1828.2 258.0 1831.0 258.5 1829.6 259.0 1831.9 259.5 1831.9 260.0 1830.9 260.5 1829.6 261.0 1828.5 261.5 1830.5 262.0 1830.1 262.5 1831.0 263.0 1831.1 263.5 1831.7 264.0 1831.3 264.5 1829.8 265.0 1829.8 265.5 1832.4 266.0 1828.7 266.5 1829.9 267.0 1831.4 267.5 1829.4 268.0 1829.6 268.5 1830.6 269.0 1827.7 269.5 1830.4 270.0 1830.0 270.5 1829.8 271.0 1832.0 271.5 1829.6 272.0 1829.9 272.5 1830.9 273.0 1829.1 273.5 1830.0 274.0 1830.9 274.5 1829.5 275.0 1829.7 275.5 1831.2 276.0 1828.6 276.5 1830.9 277.0 1831.6 277.5 1830.1 278.0 1830.2 278.5 1830.1 279.0 1830.3 279.5 1831.1 280.0 1831.5 280.5 1830.8 281.0 1829.2 281.5 1828.2 282.0 1829.5 282.5 1830.7 283.0 1828.9 283.5 1830.1 284.0 1828.4 284.5 1829.4 285.0 1829.9 285.5 1828.5 286.0 1827.5 286.5 1829.6 287.0 1827.2 287.5 1829.0 288.0 1828.4 288.5 1829.2 289.0 1828.6 289.5 1830.4 290.0 1831.3 290.5 1828.7 291.0 1828.9 291.5 1826.9 292.0 1826.0 292.5 1827.7 293.0 1826.7 293.5 1827.4 294.0 1826.1 294.5 1828.5 295.0 1828.3 295.5 1828.3 296.0 1827.9 296.5 1830.2 297.0 1829.3 297.5 1830.4 298.0 1829.1 298.5 1827.2 299.0 1828.5 299.5 1826.6 300.0 1826.1 300.5 1827.7 301.0 1826.5 301.5 1825.3 302.0 1829.3 302.5 1824.7 303.0 1827.4 303.5 1828.3 304.0 1826.0 304.5 1825.9 305.0 1825.5 305.5 1825.2 306.0 1825.9 306.5 1828.0 307.0 1825.9 307.5 1827.6 308.0 1829.2 308.5 1829.3 309.0 1826.5 309.5 1826.4 310.0 1826.2 310.5 1826.7 311.0 1826.1 311.5 1825.1 312.0 1824.0 312.5 1821.8 313.0 1824.7 313.5 1824.0 314.0 1823.3 314.5 1824.0 315.0 1825.0 315.5 1826.0 316.0 1822.8 316.5 1826.3 317.0 1827.0 317.5 1826.8 318.0 1826.3 318.5 1826.7 319.0 1827.4 319.5 1826.5 320.0 1824.6 320.5 1824.4 321.0 1823.7 321.5 1824.3 322.0 1825.7 322.5 1825.5 323.0 1824.8 323.5 1826.1 324.0 1825.3 324.5 1826.9 325.0 1828.0 325.5 1827.2 326.0 1826.1 326.5 1825.1 327.0 1824.1 327.5 1823.4 328.0 1824.1 328.5 1824.7 329.0 1821.5 329.5 1823.4 330.0 1824.0 330.5 1823.3 331.0 1824.7 331.5 1825.4 332.0 1822.8 332.5 1821.4 333.0 1822.7 333.5 1823.2 334.0 1823.6 334.5 1823.8 335.0 1822.3 335.5 1824.4 336.0 1823.7 336.5 1823.5 337.0 1823.4 337.5 1824.5 338.0 1823.5 338.5 1821.3 339.0 1820.1 339.5 1821.0 340.0 1821.9 340.5 1821.6 341.0 1822.7 341.5 1823.7 342.0 1821.2 342.5 1823.1 343.0 1820.3 343.5 1820.5 344.0 1817.8 344.5 1818.3 345.0 1816.6 345.5 1818.8 346.0 1819.3 346.5 1818.1 347.0 1818.5 347.5 1817.6 348.0 1818.5 348.5 1820.1 349.0 1820.8 349.5 1820.0 350.0 1821.0 350.5 1820.5 351.0 1820.3 351.5 1819.9 352.0 1819.1 352.5 1817.5 353.0 1819.7 353.5 1818.5 354.0 1818.1 354.5 1818.1 355.0 1820.4 355.5 1820.8 356.0 1820.8 356.5 1820.4 357.0 1820.1 357.5 1820.0 358.0 1819.7 358.5 1818.8 359.0 1820.0 359.5 1818.9 360.0 1818.7 360.5 1818.6 361.0 1818.7 361.5 1817.1 362.0 1818.1 362.5 1819.0 363.0 1819.5 363.5 1819.7 364.0 1821.5 364.5 1821.1 365.0 1819.6 365.5 1821.1 366.0 1820.6 366.5 1820.4 367.0 1819.4 367.5 1821.3 368.0 1820.2 368.5 1822.2 369.0 1821.0 369.5 1820.7 370.0 1822.1 370.5 1822.3 371.0 1822.7 371.5 1821.7 372.0 1820.6 372.5 1820.4 373.0 1819.4 373.5 1820.3 374.0 1819.5 374.5 1818.5 375.0 1821.0 375.5 1819.0 376.0 1819.0 376.5 1820.8 377.0 1819.4 377.5 1820.9 378.0 1820.3 378.5 1820.8 379.0 1820.6 379.5 1821.4 380.0 1820.3 380.5 1821.4 381.0 1820.3 381.5 1821.7 382.0 1821.6 382.5 1819.7 383.0 1822.6 383.5 1822.6 384.0 1823.5 384.5 1821.6 385.0 1822.0 385.5 1821.0 386.0 1821.3 386.5 1820.6 387.0 1820.5 387.5 1820.7 388.0 1820.5 388.5 1821.4 389.0 1820.6 389.5 1821.8 390.0 1820.4 390.5 1820.7 391.0 1821.9 391.5 1821.9 392.0 1820.4 392.5 1820.8 393.0 1818.6 393.5 1819.6 394.0 1821.6 394.5 1820.0 395.0 1822.1 395.5 1821.4 396.0 1824.1 396.5 1824.0 397.0 1822.3 397.5 1823.5 398.0 1824.0 398.5 1823.3 399.0 1822.4 399.5 1821.9 400.0 1820.4 400.5 1820.6 401.0 1820.3 401.5 1821.0 402.0 1820.1 402.5 1821.9 403.0 1823.7 403.5 1824.1 404.0 1823.3 404.5 1822.4 405.0 1823.2 405.5 1819.8 406.0 1822.0 406.5 1822.3 407.0 1821.1 407.5 1821.0 408.0 1822.5 408.5 1821.2 409.0 1820.2 409.5 1820.7 410.0 1821.8 410.5 1819.7 411.0 1823.1 411.5 1823.6 412.0 1821.6 412.5 1818.8 413.0 1822.8 413.5 1820.0 414.0 1819.8 414.5 1820.4 415.0 1820.0 415.5 1821.0 416.0 1819.0 416.5 1819.6 417.0 1823.0 417.5 1822.0 418.0 1821.3 418.5 1819.9 419.0 1820.5 419.5 1820.1 420.0 1821.5 420.5 1820.7 421.0 1821.4 421.5 1820.3 422.0 1820.2 422.5 1819.1 423.0 1819.7 423.5 1820.3 424.0 1820.8 424.5 1819.9 425.0 1820.5 425.5 1819.7 426.0 1818.0 426.5 1819.3 427.0 1818.3 427.5 1819.3 428.0 1820.3 428.5 1819.6 429.0 1821.9 429.5 1820.5 430.0 1822.0 430.5 1821.8 431.0 1820.1 431.5 1822.7 432.0 1823.6 432.5 1822.9 433.0 1823.7 433.5 1823.8 434.0 1835.0 434.5 1821.1 435.0 1821.1 435.5 1820.0 436.0 1820.7 436.5 1819.5 437.0 1820.0 437.5 1819.4 438.0 1819.1 438.5 1821.0 439.0 1817.8 439.5 1820.1 440.0 1818.1 440.5 1817.1 441.0 1819.4 441.5 1819.8 442.0 1819.3 442.5 1818.6 443.0 1817.8 443.5 1818.4 444.0 1819.9 444.5 1818.5 445.0 1818.8 445.5 1818.5 446.0 1819.3 446.5 1819.4 447.0 1817.6 447.5 1820.1 448.0 1819.1 448.5 1818.1 449.0 1819.7 449.5 1819.5 450.0 1819.5 450.5 1819.0 451.0 1817.1 451.5 1816.8 452.0 1817.7 452.5 1817.7 453.0 1816.2 453.5 1817.7 454.0 1818.4 454.5 1817.8 455.0 1816.1 455.5 1816.7 456.0 1816.8 456.5 1819.4 457.0 1819.1 457.5 1819.1 458.0 1818.5 458.5 1819.4 459.0 1816.2 459.5 1817.4 460.0 1817.6 460.5 1817.0 461.0 1816.5 461.5 1819.6 462.0 1819.3 462.5 1818.3 463.0 1818.6 463.5 1818.0 464.0 1821.8 464.5 1821.3 465.0 1819.3 465.5 1821.1 466.0 1820.2 466.5 1819.5 467.0 1820.5 467.5 1821.4 468.0 1820.2 468.5 1817.9 469.0 1818.8 469.5 1820.1 470.0 1819.6 470.5 1819.9 471.0 1820.3 471.5 1820.3 472.0 1819.9 472.5 1820.7 473.0 1821.1 473.5 1819.6 474.0 1818.6 474.5 1820.0 475.0 1819.1 475.5 1818.1 476.0 1822.0 476.5 1818.7 477.0 1818.3 477.5 1818.8 478.0 1816.9 478.5 1819.0 479.0 1818.1 479.5 1819.8 480.0 1819.9 480.5 1820.1 481.0 1820.2 481.5 1820.3 482.0 1819.1 482.5 1820.5 483.0 1819.7 483.5 1818.0 484.0 1817.2 484.5 1817.1 485.0 1817.9 485.5 1815.4 486.0 1817.5 486.5 1817.5 487.0 1817.9 487.5 1820.0 488.0 1821.3 488.5 1822.2 489.0 1820.6 489.5 1821.0 490.0 1820.1 490.5 1818.4 491.0 1819.2 491.5 1820.9 492.0 1818.3 492.5 1820.2 493.0 1818.0 493.5 1816.2 494.0 1818.0 494.5 1819.9 495.0 1818.6 495.5 1818.1 496.0 1822.0 496.5 1820.8 497.0 1819.5 497.5 1820.2 498.0 1819.4 498.5 1819.1 499.0 1819.1 499.5 1821.3 500.0 1819.6 500.5 1820.3 501.0 1819.3 501.5 1819.0 502.0 1819.9 502.5 1820.8 503.0 1819.0 503.5 1819.6 504.0 1820.6 504.5 1817.9 505.0 1818.1 505.5 1818.2 506.0 1816.6 506.5 1816.6 507.0 1818.2 507.5 1819.4 508.0 1818.1 508.5 1816.5 509.0 1818.2 509.5 1820.2 510.0 1819.7 510.5 1821.4 511.0 1819.5 511.5 1819.1 512.0 1817.8 512.5 1819.4 513.0 1818.9 513.5 1818.7 514.0 1819.6 514.5 1817.4 515.0 1817.8 515.5 1817.3 516.0 1818.7 516.5 1819.1 517.0 1821.4 517.5 1819.4 518.0 1819.0 518.5 1818.8 519.0 1818.5 519.5 1821.8 520.0 1817.5 520.5 1819.4 521.0 1819.3 521.5 1820.5 522.0 1820.3 522.5 1821.2 523.0 1821.4 523.5 1820.4 524.0 1819.6 524.5 1818.3 525.0 1818.4 525.5 1818.8 526.0 1817.6 526.5 1818.4 527.0 1819.1 527.5 1820.2 528.0 1819.7 528.5 1820.2 529.0 1820.2 529.5 1821.2 530.0 1818.6 530.5 1818.6 531.0 1819.3 531.5 1821.1 532.0 1821.9 532.5 1820.5 533.0 1821.5 533.5 1819.6" fill="none" stroke="#F79ACB" stroke-width="4.5" stroke-linejoin="bevel"/>
<path d="M109.0 1843.8 109.5 1844.0 110.0 1843.3 110.5 1841.6 111.0 1842.7 111.5 1845.9 112.0 1842.9 112.5 1844.0 113.0 1844.2 113.5 1844.3 114.0 1847.7 114.5 1846.3 115.0 1844.2 115.5 1845.4 116.0 1848.1 116.5 1845.1 117.0 1846.5 117.5 1844.9 118.0 1843.2 118.5 1844.2 119.0 1846.4 119.5 1845.2 120.0 1848.1 120.5 1844.9 121.0 1845.3 121.5 1845.5 122.0 1844.4 122.5 1844.5 123.0 1845.5 123.5 1844.2 124.0 1843.0 124.5 1844.7 125.0 1843.9 125.5 1843.4 126.0 1845.2 126.5 1844.2 127.0 1841.4 127.5 1841.2 128.0 1837.8 128.5 1836.7 129.0 1834.6 129.5 1836.3 130.0 1835.4 130.5 1839.3 131.0 1837.9 131.5 1841.8 132.0 1841.4 132.5 1841.9 133.0 1844.1 133.5 1841.4 134.0 1844.6 134.5 1844.1 135.0 1846.7 135.5 1845.2 136.0 1847.1 136.5 1847.3 137.0 1848.2 137.5 1849.2 138.0 1848.1 138.5 1845.3 139.0 1844.1 139.5 1846.6 140.0 1844.9 140.5 1846.1 141.0 1849.0 141.5 1845.8 142.0 1846.9 142.5 1847.6 143.0 1846.6 143.5 1846.8 144.0 1844.6 144.5 1846.4 145.0 1846.3 145.5 1847.6 146.0 1845.0 146.5 1842.8 147.0 1841.6 147.5 1840.4 148.0 1840.7 148.5 1839.7 149.0 1839.3 149.5 1839.5 150.0 1839.0 150.5 1840.0 151.0 1840.3 151.5 1839.6 152.0 1837.8 152.5 1837.6 153.0 1837.4 153.5 1832.4 154.0 1829.4 154.5 1829.9 155.0 1831.3 155.5 1829.7 156.0 1835.2 156.5 1831.2 157.0 1828.3 157.5 1829.7 158.0 1828.5 158.5 1828.0 159.0 1826.5 159.5 1825.5 160.0 1826.3 160.5 1825.0 161.0 1826.7 161.5 1823.8 162.0 1822.0 162.5 1823.5 163.0 1823.5 163.5 1819.1 164.0 1818.6 164.5 1818.4 165.0 1817.9 165.5 1816.9 166.0 1816.2 166.5 1813.9 167.0 1812.8 167.5 1812.0 168.0 1811.6 168.5 1811.1 169.0 1812.4 169.5 1813.0 170.0 1812.4 170.5 1808.5 171.0 1807.1 171.5 1808.8 172.0 1809.1 172.5 1807.8 173.0 1808.2 173.5 1806.6 174.0 1804.9 174.5 1804.6 175.0 1803.4 175.5 1805.5 176.0 1804.6 176.5 1803.5 177.0 1801.5 177.5 1802.6 178.0 1801.7 178.5 1799.8 179.0 1800.5 179.5 1799.7 180.0 1802.0 180.5 1801.7 181.0 1801.3 181.5 1802.0 182.0 1800.6 182.5 1802.9 183.0 1797.9 183.5 1799.6 184.0 1798.3 184.5 1796.8 185.0 1795.3 185.5 1797.2 186.0 1801.2 186.5 1799.5 187.0 1800.2 187.5 1799.6 188.0 1802.2 188.5 1797.4 189.0 1795.7 189.5 1796.2 190.0 1792.5 190.5 1795.7 191.0 1793.9 191.5 1795.8 192.0 1791.8 192.5 1793.8 193.0 1793.6 193.5 1792.5 194.0 1791.2 194.5 1791.2 195.0 1789.3 195.5 1792.3 196.0 1789.3 196.5 1789.9 197.0 1786.2 197.5 1790.7 198.0 1789.1 198.5 1790.2 199.0 1789.1 199.5 1790.8 200.0 1789.3 200.5 1789.5 201.0 1788.5 201.5 1790.6 202.0 1789.1 202.5 1788.5 203.0 1787.8 203.5 1788.1 204.0 1788.5 204.5 1788.0 205.0 1786.1 205.5 1786.9 206.0 1787.3 206.5 1788.0 207.0 1787.3 207.5 1789.0 208.0 1785.6 208.5 1787.0 209.0 1788.0 209.5 1789.0 210.0 1785.3 210.5 1787.1 211.0 1789.7 211.5 1789.1 212.0 1787.8 212.5 1785.8 213.0 1785.8 213.5 1782.3 214.0 1785.8 214.5 1785.7 215.0 1786.2 215.5 1784.6 216.0 1786.2 216.5 1786.5 217.0 1787.7 217.5 1784.8 218.0 1787.1 218.5 1784.0 219.0 1782.9 219.5 1783.8 220.0 1783.8 220.5 1784.0 221.0 1784.2 221.5 1783.6 222.0 1783.9 222.5 1785.8 223.0 1781.9 223.5 1786.2 224.0 1783.3 224.5 1784.1 225.0 1784.2 225.5 1785.3 226.0 1783.4 226.5 1783.4 227.0 1784.4 227.5 1780.4 228.0 1782.6 228.5 1781.8 229.0 1782.0 229.5 1781.4 230.0 1784.1 230.5 1783.2 231.0 1782.9 231.5 1778.4 232.0 1784.2 232.5 1786.1 233.0 1784.6 233.5 1787.4 234.0 1786.1 234.5 1784.9 235.0 1783.1 235.5 1784.3 236.0 1784.8 236.5 1783.1 237.0 1782.7 237.5 1784.9 238.0 1783.5 238.5 1785.6 239.0 1781.1 239.5 1781.0 240.0 1780.1 240.5 1780.7 241.0 1782.4 241.5 1783.7 242.0 1781.3 242.5 1781.8 243.0 1782.0 243.5 1782.5 244.0 1779.8 244.5 1783.5 245.0 1783.2 245.5 1783.5 246.0 1782.3 246.5 1783.0 247.0 1784.9 247.5 1782.1 248.0 1783.9 248.5 1783.9 249.0 1781.6 249.5 1783.2 250.0 1782.4 250.5 1782.0 251.0 1784.0 251.5 1781.5 252.0 1782.4 252.5 1781.3 253.0 1780.5 253.5 1779.7 254.0 1779.4 254.5 1783.5 255.0 1780.7 255.5 1780.5 256.0 1780.5 256.5 1781.1 257.0 1781.7 257.5 1779.2 258.0 1783.3 258.5 1783.0 259.0 1784.4 259.5 1782.2 260.0 1783.1 260.5 1782.4 261.0 1779.9 261.5 1778.8 262.0 1779.2 262.5 1781.1 263.0 1781.4 263.5 1782.1 264.0 1780.3 264.5 1780.1 265.0 1779.9 265.5 1777.2 266.0 1778.0 266.5 1778.5 267.0 1778.3 267.5 1781.0 268.0 1778.7 268.5 1777.2 269.0 1777.5 269.5 1776.6 270.0 1776.9 270.5 1777.2 271.0 1774.4 271.5 1774.4 272.0 1777.4 272.5 1775.1 273.0 1774.3 273.5 1772.1 274.0 1776.0 274.5 1776.8 275.0 1775.7 275.5 1772.3 276.0 1773.9 276.5 1772.9 277.0 1773.3 277.5 1775.2 278.0 1777.4 278.5 1775.6 279.0 1776.6 279.5 1776.5 280.0 1773.1 280.5 1775.3 281.0 1773.6 281.5 1774.2 282.0 1773.4 282.5 1776.4 283.0 1775.6 283.5 1773.0 284.0 1771.5 284.5 1771.5 285.0 1772.0 285.5 1774.8 286.0 1774.1 286.5 1778.8 287.0 1775.1 287.5 1775.3 288.0 1774.7 288.5 1771.3 289.0 1772.6 289.5 1771.6 290.0 1771.6 290.5 1771.6 291.0 1771.9 291.5 1772.5 292.0 1772.0 292.5 1772.1 293.0 1774.8 293.5 1776.3 294.0 1774.6 294.5 1770.4 295.0 1774.5 295.5 1774.5 296.0 1775.4 296.5 1774.5 297.0 1772.3 297.5 1772.8 298.0 1771.3 298.5 1774.0 299.0 1773.8 299.5 1773.1 300.0 1774.4 300.5 1774.2 301.0 1775.3 301.5 1772.2 302.0 1770.7 302.5 1771.7 303.0 1770.7 303.5 1770.4 304.0 1771.8 304.5 1772.8 305.0 1772.2 305.5 1773.7 306.0 1774.2 306.5 1774.1 307.0 1776.7 307.5 1772.6 308.0 1771.4 308.5 1773.5 309.0 1773.9 309.5 1772.1 310.0 1770.9 310.5 1772.0 311.0 1773.5 311.5 1773.3 312.0 1770.0 312.5 1771.2 313.0 1767.6 313.5 1770.6 314.0 1772.1 314.5 1771.0 315.0 1772.9 315.5 1771.2 316.0 1774.2 316.5 1775.1 317.0 1773.4 317.5 1773.9 318.0 1772.9 318.5 1773.2 319.0 1772.2 319.5 1772.9 320.0 1774.1 320.5 1774.7 321.0 1773.0 321.5 1772.9 322.0 1774.8 322.5 1775.3 323.0 1776.8 323.5 1773.4 324.0 1775.5 324.5 1774.6 325.0 1772.6 325.5 1774.2 326.0 1773.7 326.5 1773.1 327.0 1774.1 327.5 1773.0 328.0 1775.1 328.5 1774.0 329.0 1770.8 329.5 1773.2 330.0 1772.3 330.5 1772.5 331.0 1770.4 331.5 1773.1 332.0 1770.9 332.5 1770.3 333.0 1767.7 333.5 1769.7 334.0 1770.9 334.5 1770.5 335.0 1769.6 335.5 1771.0 336.0 1770.7 336.5 1770.2 337.0 1768.7 337.5 1768.8 338.0 1767.8 338.5 1767.4 339.0 1768.6 339.5 1768.3 340.0 1766.6 340.5 1766.7 341.0 1769.5 341.5 1768.9 342.0 1771.1 342.5 1770.0 343.0 1771.3 343.5 1768.0 344.0 1769.4 344.5 1770.9 345.0 1768.3 345.5 1770.3 346.0 1768.6 346.5 1768.5 347.0 1764.3 347.5 1766.2 348.0 1766.8 348.5 1767.2 349.0 1767.6 349.5 1767.8 350.0 1767.4 350.5 1767.2 351.0 1767.5 351.5 1767.5 352.0 1768.9 352.5 1766.1 353.0 1766.7 353.5 1769.0 354.0 1766.9 354.5 1768.0 355.0 1765.4 355.5 1767.2 356.0 1764.9 356.5 1764.6 357.0 1764.5 357.5 1765.4 358.0 1764.9 358.5 1763.7 359.0 1764.3 359.5 1761.9 360.0 1765.5 360.5 1766.3 361.0 1766.1 361.5 1764.7 362.0 1766.6 362.5 1764.9 363.0 1764.8 363.5 1764.4 364.0 1765.1 364.5 1763.8 365.0 1762.7 365.5 1764.3 366.0 1762.2 366.5 1762.9 367.0 1761.1 367.5 1761.9 368.0 1759.9 368.5 1761.5 369.0 1761.1 369.5 1760.3 370.0 1762.0 370.5 1760.2 371.0 1762.5 371.5 1760.8 372.0 1761.2 372.5 1762.0 373.0 1761.9 373.5 1762.0 374.0 1761.7 374.5 1762.4 375.0 1763.0 375.5 1758.9 376.0 1762.9 376.5 1761.2 377.0 1760.0 377.5 1761.2 378.0 1761.9 378.5 1760.1 379.0 1761.3 379.5 1760.1 380.0 1758.4 380.5 1760.0 381.0 1759.0 381.5 1760.1 382.0 1758.0 382.5 1760.9 383.0 1759.9 383.5 1763.5 384.0 1763.0 384.5 1761.3 385.0 1759.4 385.5 1760.7 386.0 1758.5 386.5 1760.8 387.0 1758.8 387.5 1758.3 388.0 1757.5 388.5 1756.2 389.0 1757.9 389.5 1754.0 390.0 1755.5 390.5 1760.7 391.0 1759.1 391.5 1758.0 392.0 1755.9 392.5 1759.1 393.0 1758.4 393.5 1759.3 394.0 1758.8 394.5 1757.5 395.0 1757.5 395.5 1757.5 396.0 1757.1 396.5 1758.0 397.0 1760.2 397.5 1758.5 398.0 1759.6 398.5 1762.5 399.0 1760.8 399.5 1760.3 400.0 1762.6 400.5 1758.2 401.0 1757.2 401.5 1758.0 402.0 1756.9 402.5 1760.5 403.0 1762.2 403.5 1755.7 404.0 1756.8 404.5 1758.0 405.0 1760.9 405.5 1760.5 406.0 1757.9 406.5 1759.5 407.0 1758.9 407.5 1759.0 408.0 1759.3 408.5 1758.4 409.0 1757.9 409.5 1758.3 410.0 1756.9 410.5 1758.3 411.0 1757.8 411.5 1756.2 412.0 1756.7 412.5 1757.3 413.0 1756.4 413.5 1755.9 414.0 1755.8 414.5 1757.1 415.0 1757.6 415.5 1756.8 416.0 1757.2 416.5 1758.7 417.0 1759.2 417.5 1756.0 418.0 1755.0 418.5 1753.4 419.0 1754.4 419.5 1754.6 420.0 1757.5 420.5 1755.9 421.0 1755.7 421.5 1758.3 422.0 1754.5 422.5 1752.8 423.0 1752.7 423.5 1757.0 424.0 1756.0 424.5 1754.8 425.0 1755.0 425.5 1754.1 426.0 1752.8 426.5 1755.4 427.0 1755.7 427.5 1753.9 428.0 1755.8 428.5 1756.4 429.0 1753.4 429.5 1753.1 430.0 1754.7 430.5 1753.4 431.0 1753.8 431.5 1752.9 432.0 1753.7 432.5 1752.6 433.0 1752.6 433.5 1753.1 434.0 1752.3 434.5 1750.6 435.0 1750.1 435.5 1752.0 436.0 1749.8 436.5 1751.1 437.0 1750.3 437.5 1751.0 438.0 1750.6 438.5 1752.6 439.0 1752.5 439.5 1752.2 440.0 1752.6 440.5 1753.4 441.0 1751.7 441.5 1750.0 442.0 1749.8 442.5 1750.3 443.0 1751.0 443.5 1747.8 444.0 1749.7 444.5 1748.9 445.0 1748.6 445.5 1749.9 446.0 1750.1 446.5 1751.3 447.0 1748.7 447.5 1751.6 448.0 1753.2 448.5 1753.6 449.0 1752.2 449.5 1751.8 450.0 1749.3 450.5 1749.3 451.0 1750.0 451.5 1749.6 452.0 1749.6 452.5 1749.1 453.0 1748.4 453.5 1748.2 454.0 1750.3 454.5 1749.2 455.0 1749.9 455.5 1748.4 456.0 1747.9 456.5 1751.2 457.0 1748.8 457.5 1748.6 458.0 1746.8 458.5 1751.7 459.0 1747.8 459.5 1751.2 460.0 1750.8 460.5 1752.1 461.0 1753.2 461.5 1753.1 462.0 1749.7 462.5 1752.9 463.0 1752.4 463.5 1752.6 464.0 1751.6 464.5 1751.8 465.0 1751.1 465.5 1751.4 466.0 1751.9 466.5 1753.2 467.0 1751.3 467.5 1750.2 468.0 1749.9 468.5 1751.7 469.0 1752.0 469.5 1752.5 470.0 1750.8 470.5 1749.2 471.0 1749.3 471.5 1747.4 472.0 1748.9 472.5 1752.1 473.0 1752.4 473.5 1751.1 474.0 1750.0 474.5 1749.9 475.0 1751.0 475.5 1750.0 476.0 1749.1 476.5 1749.6 477.0 1749.9 477.5 1750.0 478.0 1749.7 478.5 1748.1 479.0 1748.2 479.5 1749.6 480.0 1749.3 480.5 1749.7 481.0 1751.3 481.5 1748.3 482.0 1748.0 482.5 1747.5 483.0 1750.6 483.5 1750.5 484.0 1747.8 484.5 1750.0 485.0 1748.7 485.5 1749.3 486.0 1751.2 486.5 1747.9 487.0 1746.6 487.5 1747.9 488.0 1749.1 488.5 1747.5 489.0 1747.3 489.5 1745.8 490.0 1746.0 490.5 1747.7 491.0 1745.9 491.5 1746.4 492.0 1748.3 492.5 1746.8 493.0 1746.1 493.5 1747.0 494.0 1746.6 494.5 1745.7 495.0 1745.0 495.5 1745.9 496.0 1746.2 496.5 1743.9 497.0 1745.1 497.5 1745.8 498.0 1743.8 498.5 1744.3 499.0 1745.8 499.5 1746.2 500.0 1745.4 500.5 1745.7 501.0 1750.4 501.5 1749.9 502.0 1747.3 502.5 1747.5 503.0 1747.8 503.5 1745.4 504.0 1745.3 504.5 1746.8 505.0 1746.7 505.5 1748.1 506.0 1745.8 506.5 1745.8 507.0 1745.2 507.5 1744.7 508.0 1744.9 508.5 1744.4 509.0 1742.8 509.5 1741.8 510.0 1743.1 510.5 1742.0 511.0 1740.2 511.5 1742.7 512.0 1741.5 512.5 1739.5 513.0 1740.3 513.5 1742.6 514.0 1744.4 514.5 1743.4 515.0 1744.0 515.5 1742.7 516.0 1743.3 516.5 1741.3 517.0 1743.3 517.5 1744.5 518.0 1745.4 518.5 1741.0 519.0 1742.7 519.5 1743.2 520.0 1744.2 520.5 1748.7 521.0 1743.1 521.5 1744.6 522.0 1744.2 522.5 1744.9 523.0 1743.6 523.5 1743.6 524.0 1744.4 524.5 1742.1 525.0 1743.5 525.5 1741.4 526.0 1742.9 526.5 1744.3 527.0 1745.1 527.5 1742.5 528.0 1743.1 528.5 1743.3 529.0 1742.0 529.5 1742.2 530.0 1745.8 530.5 1745.9 531.0 1744.8 531.5 1744.0 532.0 1744.0 532.5 1744.5 533.0 1745.9 533.5 1744.8" fill="none" stroke="#D4006E" stroke-width="5.4" stroke-linejoin="bevel"/>
<line x1="108.90" y1="1616.35" x2="108.90" y2="1907.75" stroke="#000" stroke-width="3.5" stroke-linecap="butt"/>
<line x1="99.15" y1="1906.00" x2="108.90" y2="1906.00" stroke="#000" stroke-width="3.5" stroke-linecap="butt"/>
<text x="97.8" y="1914.4" font-size="23.5" text-anchor="end" font-weight="bold" >0.5</text>
<line x1="99.15" y1="1848.42" x2="108.90" y2="1848.42" stroke="#000" stroke-width="3.5" stroke-linecap="butt"/>
<text x="97.8" y="1856.8" font-size="23.5" text-anchor="end" font-weight="bold" >0.6</text>
<line x1="99.15" y1="1790.84" x2="108.90" y2="1790.84" stroke="#000" stroke-width="3.5" stroke-linecap="butt"/>
<text x="97.8" y="1799.2" font-size="23.5" text-anchor="end" font-weight="bold" >0.7</text>
<line x1="99.15" y1="1733.26" x2="108.90" y2="1733.26" stroke="#000" stroke-width="3.5" stroke-linecap="butt"/>
<text x="97.8" y="1741.7" font-size="23.5" text-anchor="end" font-weight="bold" >0.8</text>
<line x1="99.15" y1="1675.68" x2="108.90" y2="1675.68" stroke="#000" stroke-width="3.5" stroke-linecap="butt"/>
<text x="97.8" y="1684.1" font-size="23.5" text-anchor="end" font-weight="bold" >0.9</text>
<line x1="99.15" y1="1618.10" x2="108.90" y2="1618.10" stroke="#000" stroke-width="3.5" stroke-linecap="butt"/>
<text x="97.8" y="1626.5" font-size="23.5" text-anchor="end" font-weight="bold" >1.0</text>
<line x1="102.15" y1="1877.21" x2="108.90" y2="1877.21" stroke="#000" stroke-width="3.5" stroke-linecap="butt"/>
<line x1="102.15" y1="1819.63" x2="108.90" y2="1819.63" stroke="#000" stroke-width="3.5" stroke-linecap="butt"/>
<line x1="102.15" y1="1762.05" x2="108.90" y2="1762.05" stroke="#000" stroke-width="3.5" stroke-linecap="butt"/>
<line x1="102.15" y1="1704.47" x2="108.90" y2="1704.47" stroke="#000" stroke-width="3.5" stroke-linecap="butt"/>
<line x1="102.15" y1="1646.89" x2="108.90" y2="1646.89" stroke="#000" stroke-width="3.5" stroke-linecap="butt"/>
<line x1="107.15" y1="1906.00" x2="533.85" y2="1906.00" stroke="#000" stroke-width="3.5" stroke-linecap="butt"/>
<line x1="108.90" y1="1906.00" x2="108.90" y2="1915.75" stroke="#000" stroke-width="3.5" stroke-linecap="butt"/>
<text x="108.9" y="1939.5" font-size="23" text-anchor="middle" font-weight="bold" >0</text>
<line x1="214.70" y1="1906.00" x2="214.70" y2="1915.75" stroke="#000" stroke-width="3.5" stroke-linecap="butt"/>
<text x="214.7" y="1939.5" font-size="23" text-anchor="middle" font-weight="bold" >500</text>
<line x1="320.50" y1="1906.00" x2="320.50" y2="1915.75" stroke="#000" stroke-width="3.5" stroke-linecap="butt"/>
<text x="320.5" y="1939.5" font-size="23" text-anchor="middle" font-weight="bold" >1000</text>
<line x1="426.30" y1="1906.00" x2="426.30" y2="1915.75" stroke="#000" stroke-width="3.5" stroke-linecap="butt"/>
<text x="426.3" y="1939.5" font-size="23" text-anchor="middle" font-weight="bold" >1500</text>
<line x1="532.10" y1="1906.00" x2="532.10" y2="1915.75" stroke="#000" stroke-width="3.5" stroke-linecap="butt"/>
<text x="532.1" y="1939.5" font-size="23" text-anchor="middle" font-weight="bold" >2000</text>
<line x1="161.80" y1="1906.00" x2="161.80" y2="1912.75" stroke="#000" stroke-width="3.5" stroke-linecap="butt"/>
<line x1="267.60" y1="1906.00" x2="267.60" y2="1912.75" stroke="#000" stroke-width="3.5" stroke-linecap="butt"/>
<line x1="373.40" y1="1906.00" x2="373.40" y2="1912.75" stroke="#000" stroke-width="3.5" stroke-linecap="butt"/>
<line x1="479.20" y1="1906.00" x2="479.20" y2="1912.75" stroke="#000" stroke-width="3.5" stroke-linecap="butt"/>
<text x="320.5" y="1969.5" font-size="22.5" text-anchor="middle" font-weight="bold" >Time (sec)</text>
<g transform="translate(46.7,1760.2) rotate(-90)">
<text x="0.0" y="0.0" font-size="24" text-anchor="middle" font-weight="bold" >F<tspan font-size="17.5" dy="6.7">340</tspan><tspan dy="-6.7">/F</tspan><tspan font-size="17.5" dy="6.7">380</tspan></text>
</g>
<text x="259.2" y="1632.9" font-size="23" text-anchor="start" font-weight="bold" >4-HNE 30 <tspan font-weight="normal" font-family="Liberation Serif, serif" font-size="25.0" dx="1.5">&#181;</tspan><tspan font-size="24.5">M</tspan></text>
<line x1="138.30" y1="1642.60" x2="533.80" y2="1642.60" stroke="#000" stroke-width="3.6" stroke-linecap="butt"/>
<line x1="134.90" y1="1667.00" x2="166.40" y2="1667.00" stroke="#D4006E" stroke-width="4.8" stroke-linecap="butt"/>
<text x="182.5" y="1675.0" font-size="23" text-anchor="start" font-weight="bold" >Ctrl</text>
<line x1="134.90" y1="1695.40" x2="166.40" y2="1695.40" stroke="#F79ACB" stroke-width="4.8" stroke-linecap="butt"/>
<text x="182.5" y="1703.4" font-size="23" text-anchor="start" font-weight="bold" >siTRPA1</text>
<line x1="134.90" y1="1723.50" x2="166.40" y2="1723.50" stroke="#6A6A6A" stroke-width="4.8" stroke-linecap="butt"/>
<text x="182.5" y="1731.5" font-size="23" text-anchor="start" font-weight="bold" >HC-030031 30 <tspan font-weight="normal" font-family="Liberation Serif, serif" font-size="26.0" dx="2">&#181;</tspan><tspan font-size="24.5">M</tspan></text>
<text transform="translate(726.42,551.10) scale(0.9463,1)" font-size="108.72" font-weight="bold">D</text>
<line x1="912.00" y1="537.25" x2="912.00" y2="827.35" stroke="#000" stroke-width="3.7" stroke-linecap="butt"/>
<line x1="902.15" y1="825.50" x2="912.00" y2="825.50" stroke="#000" stroke-width="3.7" stroke-linecap="butt"/>
<text x="900.3" y="834.0" font-size="23" text-anchor="end" font-weight="bold" >0.0</text>
<line x1="902.15" y1="753.90" x2="912.00" y2="753.90" stroke="#000" stroke-width="3.7" stroke-linecap="butt"/>
<text x="900.3" y="762.4" font-size="23" text-anchor="end" font-weight="bold" >0.2</text>
<line x1="902.15" y1="682.30" x2="912.00" y2="682.30" stroke="#000" stroke-width="3.7" stroke-linecap="butt"/>
<text x="900.3" y="690.8" font-size="23" text-anchor="end" font-weight="bold" >0.4</text>
<line x1="902.15" y1="610.70" x2="912.00" y2="610.70" stroke="#000" stroke-width="3.7" stroke-linecap="butt"/>
<text x="900.3" y="619.2" font-size="23" text-anchor="end" font-weight="bold" >0.6</text>
<line x1="902.15" y1="539.10" x2="912.00" y2="539.10" stroke="#000" stroke-width="3.7" stroke-linecap="butt"/>
<text x="900.3" y="547.6" font-size="23" text-anchor="end" font-weight="bold" >0.8</text>
<line x1="905.15" y1="789.70" x2="912.00" y2="789.70" stroke="#000" stroke-width="3.7" stroke-linecap="butt"/>
<line x1="905.15" y1="718.10" x2="912.00" y2="718.10" stroke="#000" stroke-width="3.7" stroke-linecap="butt"/>
<line x1="905.15" y1="646.50" x2="912.00" y2="646.50" stroke="#000" stroke-width="3.7" stroke-linecap="butt"/>
<line x1="905.15" y1="574.90" x2="912.00" y2="574.90" stroke="#000" stroke-width="3.7" stroke-linecap="butt"/>
<line x1="903.00" y1="825.50" x2="1338.00" y2="825.50" stroke="#000" stroke-width="3.7" stroke-linecap="butt"/>
<line x1="1002.80" y1="825.50" x2="1002.80" y2="835.50" stroke="#000" stroke-width="3.7" stroke-linecap="butt"/>
<line x1="1124.00" y1="825.50" x2="1124.00" y2="835.50" stroke="#000" stroke-width="3.7" stroke-linecap="butt"/>
<line x1="1245.30" y1="825.50" x2="1245.30" y2="835.50" stroke="#000" stroke-width="3.7" stroke-linecap="butt"/>
<g transform="translate(1009.6,860.0) rotate(-45)">
<text x="0.0" y="0.0" font-size="23.5" text-anchor="end" font-weight="bold" >Ctrl</text>
</g>
<g transform="translate(1130.8,860.0) rotate(-45)">
<text x="0.0" y="0.0" font-size="23.5" text-anchor="end" font-weight="bold" >siTRPA1</text>
</g>
<g transform="translate(1252.1,860.0) rotate(-45)">
<text x="0.0" y="0.0" font-size="23.5" text-anchor="end" font-weight="bold" >HC-030031</text>
</g>
<text x="1058.0" y="528.2" font-size="23" text-anchor="start" font-weight="bold" >H<tspan font-size="18.0" dy="6.0">2</tspan><tspan dy="-6.0">O</tspan><tspan font-size="18.0" dy="6.0">2</tspan><tspan dy="-6.0"> 50 </tspan><tspan font-weight="normal" font-family="Liberation Serif, serif" font-size="25.0" dx="1.5">&#181;</tspan><tspan font-size="24.5">M</tspan></text>
<line x1="1007.70" y1="560.50" x2="1255.20" y2="560.50" stroke="#000" stroke-width="3.8" stroke-linecap="butt"/>
<text x="1130.2" y="559.9" font-size="25.5" text-anchor="middle" font-weight="bold" letter-spacing="3.4">***</text>
<line x1="1002.00" y1="591.50" x2="1116.50" y2="591.50" stroke="#000" stroke-width="3.8" stroke-linecap="butt"/>
<text x="1058.6" y="592.8" font-size="25.5" text-anchor="middle" font-weight="bold" letter-spacing="3.4">***</text>
<text x="1002.8" y="638.0" font-size="22.5" text-anchor="middle" font-weight="bold" >84/84</text>
<text x="1123.7" y="682.5" font-size="22.5" text-anchor="middle" font-weight="bold" >53/90</text>
<text x="1245.0" y="736.0" font-size="22.5" text-anchor="middle" font-weight="bold" >92/130</text>
<g transform="translate(850.8,680.9) rotate(-90)">
<text x="0.0" y="0.0" font-size="24.3" text-anchor="middle" font-weight="bold" ><tspan font-weight="normal" font-family="Liberation Serif, serif">&#916;</tspan>F<tspan font-size="17.7" dy="6.8">340</tspan><tspan dy="-6.8">/F</tspan><tspan font-size="17.7" dy="6.8">380</tspan></text>
</g>
<circle cx="1002.8" cy="575.0" r="4.4" fill="#42ECB0"/>
<circle cx="990.0" cy="610.6" r="4.4" fill="#42ECB0"/>
<circle cx="1002.8" cy="610.6" r="4.4" fill="#42ECB0"/>
<circle cx="1015.6" cy="610.6" r="4.4" fill="#42ECB0"/>
<circle cx="951.6" cy="646.7" r="4.4" fill="#42ECB0"/>
<circle cx="964.4" cy="646.7" r="4.4" fill="#42ECB0"/>
<circle cx="977.2" cy="646.7" r="4.4" fill="#42ECB0"/>
<circle cx="990.0" cy="646.7" r="4.4" fill="#42ECB0"/>
<circle cx="1002.8" cy="646.7" r="4.4" fill="#42ECB0"/>
<circle cx="1015.6" cy="646.7" r="4.4" fill="#42ECB0"/>
<circle cx="1028.4" cy="646.7" r="4.4" fill="#42ECB0"/>
<circle cx="1041.2" cy="646.7" r="4.4" fill="#42ECB0"/>
<circle cx="1002.8" cy="664.4" r="4.4" fill="#42ECB0"/>
<circle cx="964.4" cy="682.2" r="4.4" fill="#42ECB0"/>
<circle cx="977.2" cy="682.2" r="4.4" fill="#42ECB0"/>
<circle cx="990.0" cy="682.2" r="4.4" fill="#42ECB0"/>
<circle cx="1002.8" cy="682.2" r="4.4" fill="#42ECB0"/>
<circle cx="1015.6" cy="682.2" r="4.4" fill="#42ECB0"/>
<circle cx="1028.4" cy="682.2" r="4.4" fill="#42ECB0"/>
<circle cx="1002.8" cy="703.9" r="4.4" fill="#42ECB0"/>
<circle cx="977.2" cy="718.9" r="4.4" fill="#42ECB0"/>
<circle cx="990.0" cy="718.9" r="4.4" fill="#42ECB0"/>
<circle cx="1002.8" cy="718.9" r="4.4" fill="#42ECB0"/>
<circle cx="1015.6" cy="718.9" r="4.4" fill="#42ECB0"/>
<circle cx="1028.4" cy="718.9" r="4.4" fill="#42ECB0"/>
<circle cx="977.2" cy="742.8" r="4.4" fill="#42ECB0"/>
<circle cx="1028.4" cy="742.8" r="4.4" fill="#42ECB0"/>
<circle cx="990.0" cy="750.6" r="4.4" fill="#42ECB0"/>
<circle cx="1002.8" cy="753.9" r="4.4" fill="#42ECB0"/>
<circle cx="1015.6" cy="753.9" r="4.4" fill="#42ECB0"/>
<circle cx="964.4" cy="761.1" r="4.4" fill="#42ECB0"/>
<circle cx="977.2" cy="764.4" r="4.4" fill="#42ECB0"/>
<circle cx="990.0" cy="764.4" r="4.4" fill="#42ECB0"/>
<circle cx="1015.6" cy="764.4" r="4.4" fill="#42ECB0"/>
<circle cx="1028.4" cy="764.4" r="4.4" fill="#42ECB0"/>
<circle cx="1002.8" cy="768.3" r="4.4" fill="#42ECB0"/>
<circle cx="964.4" cy="771.7" r="4.4" fill="#42ECB0"/>
<circle cx="977.2" cy="771.7" r="4.4" fill="#42ECB0"/>
<circle cx="1041.2" cy="771.7" r="4.4" fill="#42ECB0"/>
<circle cx="1054.0" cy="771.7" r="4.4" fill="#42ECB0"/>
<circle cx="1028.4" cy="775.6" r="4.4" fill="#42ECB0"/>
<circle cx="990.0" cy="778.9" r="4.4" fill="#42ECB0"/>
<circle cx="1002.8" cy="782.2" r="4.4" fill="#42ECB0"/>
<circle cx="1015.6" cy="782.2" r="4.4" fill="#42ECB0"/>
<circle cx="1002.8" cy="784.4" r="4.4" fill="#42ECB0"/>
<circle cx="958.0" cy="788.9" r="4.4" fill="#42ECB0"/>
<circle cx="970.8" cy="788.9" r="4.4" fill="#42ECB0"/>
<circle cx="1034.8" cy="788.9" r="4.4" fill="#42ECB0"/>
<circle cx="1047.6" cy="788.9" r="4.4" fill="#42ECB0"/>
<circle cx="951.6" cy="792.2" r="4.4" fill="#42ECB0"/>
<circle cx="983.6" cy="792.2" r="4.4" fill="#42ECB0"/>
<circle cx="996.4" cy="792.2" r="4.4" fill="#42ECB0"/>
<circle cx="1009.2" cy="792.2" r="4.4" fill="#42ECB0"/>
<circle cx="1022.0" cy="792.2" r="4.4" fill="#42ECB0"/>
<circle cx="1041.2" cy="792.2" r="4.4" fill="#42ECB0"/>
<circle cx="1054.0" cy="792.2" r="4.4" fill="#42ECB0"/>
<circle cx="964.4" cy="797.2" r="4.4" fill="#42ECB0"/>
<circle cx="977.2" cy="797.2" r="4.4" fill="#42ECB0"/>
<circle cx="990.0" cy="797.2" r="4.4" fill="#42ECB0"/>
<circle cx="1002.8" cy="797.2" r="4.4" fill="#42ECB0"/>
<circle cx="1015.6" cy="797.2" r="4.4" fill="#42ECB0"/>
<circle cx="1028.4" cy="797.2" r="4.4" fill="#42ECB0"/>
<circle cx="983.6" cy="800.0" r="4.4" fill="#42ECB0"/>
<circle cx="996.4" cy="800.0" r="4.4" fill="#42ECB0"/>
<circle cx="1009.2" cy="800.0" r="4.4" fill="#42ECB0"/>
<circle cx="1022.0" cy="800.0" r="4.4" fill="#42ECB0"/>
<circle cx="1034.8" cy="800.0" r="4.4" fill="#42ECB0"/>
<circle cx="951.6" cy="803.9" r="4.4" fill="#42ECB0"/>
<circle cx="1054.0" cy="803.9" r="4.4" fill="#42ECB0"/>
<circle cx="964.4" cy="807.2" r="4.4" fill="#42ECB0"/>
<circle cx="977.2" cy="807.2" r="4.4" fill="#42ECB0"/>
<circle cx="1028.4" cy="807.2" r="4.4" fill="#42ECB0"/>
<circle cx="1041.2" cy="807.2" r="4.4" fill="#42ECB0"/>
<circle cx="990.0" cy="811.7" r="4.4" fill="#42ECB0"/>
<circle cx="1002.8" cy="811.7" r="4.4" fill="#42ECB0"/>
<circle cx="1015.6" cy="811.7" r="4.4" fill="#42ECB0"/>
<circle cx="1124.0" cy="717.1" r="4.4" fill="#5656FA"/>
<circle cx="1124.0" cy="745.6" r="4.4" fill="#5656FA"/>
<circle cx="1124.0" cy="766.4" r="4.4" fill="#5656FA"/>
<circle cx="1085.6" cy="768.4" r="4.4" fill="#5656FA"/>
<circle cx="1149.6" cy="774.7" r="4.4" fill="#5656FA"/>
<circle cx="1098.4" cy="776.7" r="4.4" fill="#5656FA"/>
<circle cx="1136.8" cy="776.7" r="4.4" fill="#5656FA"/>
<circle cx="1111.2" cy="778.8" r="4.4" fill="#5656FA"/>
<circle cx="1124.0" cy="778.8" r="4.4" fill="#5656FA"/>
<circle cx="1072.8" cy="787.6" r="4.4" fill="#5656FA"/>
<circle cx="1130.4" cy="787.6" r="4.4" fill="#5656FA"/>
<circle cx="1085.6" cy="791.8" r="4.4" fill="#5656FA"/>
<circle cx="1098.4" cy="791.8" r="4.4" fill="#5656FA"/>
<circle cx="1162.4" cy="791.8" r="4.4" fill="#5656FA"/>
<circle cx="1175.2" cy="791.8" r="4.4" fill="#5656FA"/>
<circle cx="1092.0" cy="795.4" r="4.4" fill="#5656FA"/>
<circle cx="1104.8" cy="795.4" r="4.4" fill="#5656FA"/>
<circle cx="1117.6" cy="795.4" r="4.4" fill="#5656FA"/>
<circle cx="1130.4" cy="795.4" r="4.4" fill="#5656FA"/>
<circle cx="1143.2" cy="795.4" r="4.4" fill="#5656FA"/>
<circle cx="1149.6" cy="795.4" r="4.4" fill="#5656FA"/>
<circle cx="1098.4" cy="799.0" r="4.4" fill="#5656FA"/>
<circle cx="1111.2" cy="799.0" r="4.4" fill="#5656FA"/>
<circle cx="1124.0" cy="799.0" r="4.4" fill="#5656FA"/>
<circle cx="1136.8" cy="799.0" r="4.4" fill="#5656FA"/>
<circle cx="1149.6" cy="799.0" r="4.4" fill="#5656FA"/>
<circle cx="1072.8" cy="804.7" r="4.4" fill="#5656FA"/>
<circle cx="1085.6" cy="804.7" r="4.4" fill="#5656FA"/>
<circle cx="1098.4" cy="804.7" r="4.4" fill="#5656FA"/>
<circle cx="1111.2" cy="804.7" r="4.4" fill="#5656FA"/>
<circle cx="1136.8" cy="804.7" r="4.4" fill="#5656FA"/>
<circle cx="1149.6" cy="804.7" r="4.4" fill="#5656FA"/>
<circle cx="1162.4" cy="804.7" r="4.4" fill="#5656FA"/>
<circle cx="1175.2" cy="804.7" r="4.4" fill="#5656FA"/>
<circle cx="1111.2" cy="807.9" r="4.4" fill="#5656FA"/>
<circle cx="1130.4" cy="807.9" r="4.4" fill="#5656FA"/>
<circle cx="1136.8" cy="807.9" r="4.4" fill="#5656FA"/>
<circle cx="1117.6" cy="811.0" r="4.4" fill="#5656FA"/>
<circle cx="1130.4" cy="811.0" r="4.4" fill="#5656FA"/>
<circle cx="1143.2" cy="811.0" r="4.4" fill="#5656FA"/>
<circle cx="1079.2" cy="815.1" r="4.4" fill="#5656FA"/>
<circle cx="1092.0" cy="815.1" r="4.4" fill="#5656FA"/>
<circle cx="1104.8" cy="815.1" r="4.4" fill="#5656FA"/>
<circle cx="1124.0" cy="815.1" r="4.4" fill="#5656FA"/>
<circle cx="1136.8" cy="815.1" r="4.4" fill="#5656FA"/>
<circle cx="1149.6" cy="815.1" r="4.4" fill="#5656FA"/>
<circle cx="1156.0" cy="815.1" r="4.4" fill="#5656FA"/>
<circle cx="1168.8" cy="815.1" r="4.4" fill="#5656FA"/>
<circle cx="1072.8" cy="820.3" r="4.4" fill="#5656FA"/>
<circle cx="1085.6" cy="820.3" r="4.4" fill="#5656FA"/>
<circle cx="1098.4" cy="820.3" r="4.4" fill="#5656FA"/>
<circle cx="1111.2" cy="820.3" r="4.4" fill="#5656FA"/>
<circle cx="1124.0" cy="820.3" r="4.4" fill="#5656FA"/>
<circle cx="1136.8" cy="820.3" r="4.4" fill="#5656FA"/>
<circle cx="1149.6" cy="820.3" r="4.4" fill="#5656FA"/>
<circle cx="1162.4" cy="820.3" r="4.4" fill="#5656FA"/>
<circle cx="1175.2" cy="820.3" r="4.4" fill="#5656FA"/>
<circle cx="1258.0" cy="756.7" r="4.4" fill="#FF6614"/>
<circle cx="1245.3" cy="766.1" r="4.4" fill="#FF6614"/>
<circle cx="1239.0" cy="769.4" r="4.4" fill="#FF6614"/>
<circle cx="1251.6" cy="769.4" r="4.4" fill="#FF6614"/>
<circle cx="1194.5" cy="775.0" r="4.4" fill="#FF6614"/>
<circle cx="1207.2" cy="775.0" r="4.4" fill="#FF6614"/>
<circle cx="1270.7" cy="775.0" r="4.4" fill="#FF6614"/>
<circle cx="1283.4" cy="775.0" r="4.4" fill="#FF6614"/>
<circle cx="1296.1" cy="775.0" r="4.4" fill="#FF6614"/>
<circle cx="1219.9" cy="777.8" r="4.4" fill="#FF6614"/>
<circle cx="1232.6" cy="777.8" r="4.4" fill="#FF6614"/>
<circle cx="1245.3" cy="780.0" r="4.4" fill="#FF6614"/>
<circle cx="1258.0" cy="780.0" r="4.4" fill="#FF6614"/>
<circle cx="1226.2" cy="782.2" r="4.4" fill="#FF6614"/>
<circle cx="1277.0" cy="782.2" r="4.4" fill="#FF6614"/>
<circle cx="1239.0" cy="786.7" r="4.4" fill="#FF6614"/>
<circle cx="1251.6" cy="786.7" r="4.4" fill="#FF6614"/>
<circle cx="1264.3" cy="786.7" r="4.4" fill="#FF6614"/>
<circle cx="1194.5" cy="787.8" r="4.4" fill="#FF6614"/>
<circle cx="1207.2" cy="787.8" r="4.4" fill="#FF6614"/>
<circle cx="1283.4" cy="787.8" r="4.4" fill="#FF6614"/>
<circle cx="1296.1" cy="787.8" r="4.4" fill="#FF6614"/>
<circle cx="1219.9" cy="790.0" r="4.4" fill="#FF6614"/>
<circle cx="1270.7" cy="790.0" r="4.4" fill="#FF6614"/>
<circle cx="1232.6" cy="793.3" r="4.4" fill="#FF6614"/>
<circle cx="1245.3" cy="793.3" r="4.4" fill="#FF6614"/>
<circle cx="1258.0" cy="793.3" r="4.4" fill="#FF6614"/>
<circle cx="1226.2" cy="797.8" r="4.4" fill="#FF6614"/>
<circle cx="1239.0" cy="797.8" r="4.4" fill="#FF6614"/>
<circle cx="1251.6" cy="797.8" r="4.4" fill="#FF6614"/>
<circle cx="1264.3" cy="797.8" r="4.4" fill="#FF6614"/>
<circle cx="1200.8" cy="800.0" r="4.4" fill="#FF6614"/>
<circle cx="1277.0" cy="800.0" r="4.4" fill="#FF6614"/>
<circle cx="1289.8" cy="800.0" r="4.4" fill="#FF6614"/>
<circle cx="1191.5" cy="820.9" r="4.4" fill="#FF6614"/>
<circle cx="1204.5" cy="821.2" r="4.4" fill="#FF6614"/>
<circle cx="1217.1" cy="821.2" r="4.4" fill="#FF6614"/>
<circle cx="1228.7" cy="820.4" r="4.4" fill="#FF6614"/>
<circle cx="1242.8" cy="820.7" r="4.4" fill="#FF6614"/>
<circle cx="1255.5" cy="819.9" r="4.4" fill="#FF6614"/>
<circle cx="1267.5" cy="820.1" r="4.4" fill="#FF6614"/>
<circle cx="1280.3" cy="820.6" r="4.4" fill="#FF6614"/>
<circle cx="1292.1" cy="820.0" r="4.4" fill="#FF6614"/>
<circle cx="1197.3" cy="816.9" r="4.4" fill="#FF6614"/>
<circle cx="1210.8" cy="815.7" r="4.4" fill="#FF6614"/>
<circle cx="1223.6" cy="815.6" r="4.4" fill="#FF6614"/>
<circle cx="1236.0" cy="815.6" r="4.4" fill="#FF6614"/>
<circle cx="1247.7" cy="816.8" r="4.4" fill="#FF6614"/>
<circle cx="1260.7" cy="815.7" r="4.4" fill="#FF6614"/>
<circle cx="1274.6" cy="816.8" r="4.4" fill="#FF6614"/>
<circle cx="1286.2" cy="816.9" r="4.4" fill="#FF6614"/>
<circle cx="1191.4" cy="812.2" r="4.4" fill="#FF6614"/>
<circle cx="1203.6" cy="812.6" r="4.4" fill="#FF6614"/>
<circle cx="1217.0" cy="812.6" r="4.4" fill="#FF6614"/>
<circle cx="1230.1" cy="811.6" r="4.4" fill="#FF6614"/>
<circle cx="1241.9" cy="811.4" r="4.4" fill="#FF6614"/>
<circle cx="1254.3" cy="811.2" r="4.4" fill="#FF6614"/>
<circle cx="1267.2" cy="812.1" r="4.4" fill="#FF6614"/>
<circle cx="1279.4" cy="812.2" r="4.4" fill="#FF6614"/>
<circle cx="1292.7" cy="811.6" r="4.4" fill="#FF6614"/>
<circle cx="1198.2" cy="807.6" r="4.4" fill="#FF6614"/>
<circle cx="1210.1" cy="807.6" r="4.4" fill="#FF6614"/>
<circle cx="1223.4" cy="806.9" r="4.4" fill="#FF6614"/>
<circle cx="1236.5" cy="806.8" r="4.4" fill="#FF6614"/>
<circle cx="1248.9" cy="808.2" r="4.4" fill="#FF6614"/>
<circle cx="1260.4" cy="808.1" r="4.4" fill="#FF6614"/>
<circle cx="1273.7" cy="807.7" r="4.4" fill="#FF6614"/>
<circle cx="1285.8" cy="806.9" r="4.4" fill="#FF6614"/>
<circle cx="1190.8" cy="804.0" r="4.4" fill="#FF6614"/>
<circle cx="1203.5" cy="803.7" r="4.4" fill="#FF6614"/>
<circle cx="1217.4" cy="804.0" r="4.4" fill="#FF6614"/>
<circle cx="1229.2" cy="803.1" r="4.4" fill="#FF6614"/>
<circle cx="1242.2" cy="803.7" r="4.4" fill="#FF6614"/>
<circle cx="1254.2" cy="803.7" r="4.4" fill="#FF6614"/>
<circle cx="1268.0" cy="803.9" r="4.4" fill="#FF6614"/>
<circle cx="1279.5" cy="804.0" r="4.4" fill="#FF6614"/>
<circle cx="1292.3" cy="803.0" r="4.4" fill="#FF6614"/>
<line x1="971.70" y1="715.00" x2="1035.00" y2="715.00" stroke="#42ECB0" stroke-width="3.5" stroke-linecap="butt"/>
<line x1="941.70" y1="725.80" x2="1065.00" y2="725.80" stroke="#000" stroke-width="3.2" stroke-linecap="butt"/>
<line x1="1062.80" y1="800.00" x2="1185.70" y2="800.00" stroke="#000" stroke-width="3.2" stroke-linecap="butt"/>
<line x1="1184.40" y1="803.90" x2="1306.70" y2="803.90" stroke="#000" stroke-width="3.2" stroke-linecap="butt"/>
<text transform="translate(726.91,1039.80) scale(0.9337,1)" font-size="108.72" font-weight="bold">F</text>
<line x1="911.80" y1="1063.85" x2="911.80" y2="1354.25" stroke="#000" stroke-width="3.7" stroke-linecap="butt"/>
<line x1="901.95" y1="1352.40" x2="911.80" y2="1352.40" stroke="#000" stroke-width="3.7" stroke-linecap="butt"/>
<text x="900.3" y="1362.4" font-size="23" text-anchor="end" font-weight="bold" >0.0</text>
<line x1="901.95" y1="1256.83" x2="911.80" y2="1256.83" stroke="#000" stroke-width="3.7" stroke-linecap="butt"/>
<text x="900.3" y="1266.8" font-size="23" text-anchor="end" font-weight="bold" >0.2</text>
<line x1="901.95" y1="1161.27" x2="911.80" y2="1161.27" stroke="#000" stroke-width="3.7" stroke-linecap="butt"/>
<text x="900.3" y="1171.3" font-size="23" text-anchor="end" font-weight="bold" >0.4</text>
<line x1="901.95" y1="1065.70" x2="911.80" y2="1065.70" stroke="#000" stroke-width="3.7" stroke-linecap="butt"/>
<text x="900.3" y="1075.7" font-size="23" text-anchor="end" font-weight="bold" >0.6</text>
<line x1="904.95" y1="1304.62" x2="911.80" y2="1304.62" stroke="#000" stroke-width="3.7" stroke-linecap="butt"/>
<line x1="904.95" y1="1209.05" x2="911.80" y2="1209.05" stroke="#000" stroke-width="3.7" stroke-linecap="butt"/>
<line x1="904.95" y1="1113.48" x2="911.80" y2="1113.48" stroke="#000" stroke-width="3.7" stroke-linecap="butt"/>
<line x1="903.00" y1="1352.40" x2="1338.00" y2="1352.40" stroke="#000" stroke-width="3.7" stroke-linecap="butt"/>
<line x1="965.20" y1="1352.40" x2="965.20" y2="1362.00" stroke="#000" stroke-width="3.7" stroke-linecap="butt"/>
<line x1="1070.70" y1="1352.40" x2="1070.70" y2="1362.00" stroke="#000" stroke-width="3.7" stroke-linecap="butt"/>
<line x1="1177.30" y1="1352.40" x2="1177.30" y2="1362.00" stroke="#000" stroke-width="3.7" stroke-linecap="butt"/>
<line x1="1283.30" y1="1352.40" x2="1283.30" y2="1362.00" stroke="#000" stroke-width="3.7" stroke-linecap="butt"/>
<g transform="translate(974.0,1386.0) rotate(-45)">
<text x="0.0" y="0.0" font-size="23.5" text-anchor="end" font-weight="bold" >Ctrl</text>
</g>
<g transform="translate(1079.5,1386.0) rotate(-45)">
<text x="0.0" y="0.0" font-size="23.5" text-anchor="end" font-weight="bold" >DTT</text>
</g>
<g transform="translate(1186.1,1386.0) rotate(-45)">
<text x="0.0" y="0.0" font-size="23.5" text-anchor="end" font-weight="bold" >Catalase</text>
</g>
<g transform="translate(1292.1,1386.0) rotate(-45)">
<text x="0.0" y="0.0" font-size="23.5" text-anchor="end" font-weight="bold" >Deferoxamine</text>
</g>
<text x="1062.0" y="1070.0" font-size="23" text-anchor="start" font-weight="bold" >H<tspan font-size="18.0" dy="6.0">2</tspan><tspan dy="-6.0">O</tspan><tspan font-size="18.0" dy="6.0">2</tspan><tspan dy="-6.0"> 50 </tspan><tspan font-weight="normal" font-family="Liberation Serif, serif" font-size="25.0" dx="1.5">&#181;</tspan><tspan font-size="24.5">M</tspan></text>
<text x="1068.8" y="1341.5" font-size="22.5" text-anchor="middle" font-weight="bold" >0/93</text>
<text x="1181.1" y="1341.5" font-size="22.5" text-anchor="middle" font-weight="bold" >0/65</text>
<text x="1291.9" y="1340.5" font-size="22.5" text-anchor="middle" font-weight="bold" >0/66</text>
<circle cx="965.3" cy="1085.3" r="4.4" fill="#42ECB0"/>
<circle cx="978.0" cy="1099.9" r="4.4" fill="#42ECB0"/>
<circle cx="952.6" cy="1104.4" r="4.4" fill="#42ECB0"/>
<circle cx="965.3" cy="1109.3" r="4.4" fill="#42ECB0"/>
<circle cx="965.3" cy="1128.0" r="4.4" fill="#42ECB0"/>
<circle cx="978.0" cy="1128.0" r="4.4" fill="#42ECB0"/>
<circle cx="958.9" cy="1133.0" r="4.4" fill="#42ECB0"/>
<circle cx="939.9" cy="1137.8" r="4.4" fill="#42ECB0"/>
<circle cx="978.0" cy="1137.8" r="4.4" fill="#42ECB0"/>
<circle cx="990.7" cy="1137.8" r="4.4" fill="#42ECB0"/>
<circle cx="952.6" cy="1142.7" r="4.4" fill="#42ECB0"/>
<circle cx="965.3" cy="1142.7" r="4.4" fill="#42ECB0"/>
<circle cx="952.6" cy="1152.5" r="4.4" fill="#42ECB0"/>
<circle cx="965.3" cy="1157.0" r="4.4" fill="#42ECB0"/>
<circle cx="978.0" cy="1157.0" r="4.4" fill="#42ECB0"/>
<circle cx="939.9" cy="1171.2" r="4.4" fill="#42ECB0"/>
<circle cx="978.0" cy="1171.2" r="4.4" fill="#42ECB0"/>
<circle cx="952.6" cy="1175.7" r="4.4" fill="#42ECB0"/>
<circle cx="965.3" cy="1179.8" r="4.4" fill="#42ECB0"/>
<circle cx="978.0" cy="1189.6" r="4.4" fill="#42ECB0"/>
<circle cx="965.3" cy="1194.5" r="4.4" fill="#42ECB0"/>
<circle cx="965.3" cy="1208.3" r="4.4" fill="#42ECB0"/>
<circle cx="952.6" cy="1220.0" r="4.4" fill="#42ECB0"/>
<circle cx="978.0" cy="1220.0" r="4.4" fill="#42ECB0"/>
<circle cx="990.7" cy="1233.6" r="4.4" fill="#42ECB0"/>
<circle cx="939.9" cy="1242.9" r="4.4" fill="#42ECB0"/>
<circle cx="952.6" cy="1242.9" r="4.4" fill="#42ECB0"/>
<circle cx="965.3" cy="1242.9" r="4.4" fill="#42ECB0"/>
<circle cx="978.0" cy="1242.9" r="4.4" fill="#42ECB0"/>
<circle cx="958.9" cy="1246.9" r="4.4" fill="#42ECB0"/>
<circle cx="984.3" cy="1246.9" r="4.4" fill="#42ECB0"/>
<circle cx="939.9" cy="1251.3" r="4.4" fill="#42ECB0"/>
<circle cx="971.6" cy="1251.3" r="4.4" fill="#42ECB0"/>
<circle cx="952.6" cy="1256.7" r="4.4" fill="#42ECB0"/>
<circle cx="965.3" cy="1256.7" r="4.4" fill="#42ECB0"/>
<circle cx="978.0" cy="1256.7" r="4.4" fill="#42ECB0"/>
<circle cx="990.7" cy="1256.7" r="4.4" fill="#42ECB0"/>
<circle cx="948.8" cy="1265.6" r="4.4" fill="#42ECB0"/>
<circle cx="980.5" cy="1265.6" r="4.4" fill="#42ECB0"/>
<circle cx="939.9" cy="1270.0" r="4.4" fill="#42ECB0"/>
<circle cx="952.6" cy="1270.0" r="4.4" fill="#42ECB0"/>
<circle cx="965.3" cy="1270.0" r="4.4" fill="#42ECB0"/>
<circle cx="978.0" cy="1270.0" r="4.4" fill="#42ECB0"/>
<circle cx="990.7" cy="1270.0" r="4.4" fill="#42ECB0"/>
<circle cx="952.6" cy="1337.6" r="4.4" fill="#42ECB0"/>
<circle cx="978.0" cy="1337.6" r="4.4" fill="#42ECB0"/>
<circle cx="990.7" cy="1337.6" r="4.4" fill="#42ECB0"/>
<circle cx="965.3" cy="1347.3" r="4.4" fill="#42ECB0"/>
<circle cx="937.6" cy="1333.5" r="4.4" fill="#42ECB0"/>
<circle cx="950.7" cy="1333.9" r="4.4" fill="#42ECB0"/>
<circle cx="963.2" cy="1333.8" r="4.4" fill="#42ECB0"/>
<circle cx="974.5" cy="1332.9" r="4.4" fill="#42ECB0"/>
<circle cx="989.0" cy="1333.3" r="4.4" fill="#42ECB0"/>
<circle cx="944.5" cy="1327.8" r="4.4" fill="#42ECB0"/>
<circle cx="956.3" cy="1328.1" r="4.4" fill="#42ECB0"/>
<circle cx="969.2" cy="1328.7" r="4.4" fill="#42ECB0"/>
<circle cx="980.8" cy="1328.0" r="4.4" fill="#42ECB0"/>
<circle cx="936.9" cy="1325.0" r="4.4" fill="#42ECB0"/>
<circle cx="950.6" cy="1323.5" r="4.4" fill="#42ECB0"/>
<circle cx="963.4" cy="1323.5" r="4.4" fill="#42ECB0"/>
<circle cx="975.7" cy="1323.5" r="4.4" fill="#42ECB0"/>
<circle cx="987.2" cy="1324.9" r="4.4" fill="#42ECB0"/>
<circle cx="943.1" cy="1319.2" r="4.4" fill="#42ECB0"/>
<circle cx="957.4" cy="1320.5" r="4.4" fill="#42ECB0"/>
<circle cx="968.7" cy="1320.7" r="4.4" fill="#42ECB0"/>
<circle cx="981.9" cy="1320.2" r="4.4" fill="#42ECB0"/>
<circle cx="936.8" cy="1316.3" r="4.4" fill="#42ECB0"/>
<circle cx="950.4" cy="1316.3" r="4.4" fill="#42ECB0"/>
<circle cx="963.5" cy="1315.0" r="4.4" fill="#42ECB0"/>
<circle cx="975.2" cy="1314.7" r="4.4" fill="#42ECB0"/>
<circle cx="987.5" cy="1314.5" r="4.4" fill="#42ECB0"/>
<circle cx="943.3" cy="1311.2" r="4.4" fill="#42ECB0"/>
<circle cx="955.4" cy="1311.4" r="4.4" fill="#42ECB0"/>
<circle cx="968.8" cy="1310.6" r="4.4" fill="#42ECB0"/>
<circle cx="982.4" cy="1311.0" r="4.4" fill="#42ECB0"/>
<circle cx="937.0" cy="1306.6" r="4.4" fill="#42ECB0"/>
<circle cx="950.5" cy="1305.7" r="4.4" fill="#42ECB0"/>
<circle cx="963.7" cy="1305.6" r="4.4" fill="#42ECB0"/>
<circle cx="976.0" cy="1307.3" r="4.4" fill="#42ECB0"/>
<circle cx="987.2" cy="1307.2" r="4.4" fill="#42ECB0"/>
<circle cx="943.4" cy="1302.4" r="4.4" fill="#42ECB0"/>
<circle cx="955.4" cy="1301.3" r="4.4" fill="#42ECB0"/>
<circle cx="968.5" cy="1303.1" r="4.4" fill="#42ECB0"/>
<circle cx="981.2" cy="1302.7" r="4.4" fill="#42ECB0"/>
<circle cx="938.2" cy="1298.7" r="4.4" fill="#42ECB0"/>
<circle cx="949.7" cy="1297.5" r="4.4" fill="#42ECB0"/>
<circle cx="962.8" cy="1298.4" r="4.4" fill="#42ECB0"/>
<circle cx="974.7" cy="1298.3" r="4.4" fill="#42ECB0"/>
<circle cx="988.8" cy="1298.5" r="4.4" fill="#42ECB0"/>
<circle cx="942.8" cy="1294.3" r="4.4" fill="#42ECB0"/>
<circle cx="955.6" cy="1293.1" r="4.4" fill="#42ECB0"/>
<circle cx="969.3" cy="1294.2" r="4.4" fill="#42ECB0"/>
<circle cx="981.5" cy="1294.2" r="4.4" fill="#42ECB0"/>
<circle cx="937.5" cy="1288.6" r="4.4" fill="#42ECB0"/>
<circle cx="949.7" cy="1288.4" r="4.4" fill="#42ECB0"/>
<circle cx="961.9" cy="1288.3" r="4.4" fill="#42ECB0"/>
<circle cx="975.8" cy="1290.0" r="4.4" fill="#42ECB0"/>
<circle cx="987.5" cy="1288.1" r="4.4" fill="#42ECB0"/>
<circle cx="944.7" cy="1284.7" r="4.4" fill="#42ECB0"/>
<circle cx="956.2" cy="1284.1" r="4.4" fill="#42ECB0"/>
<circle cx="969.3" cy="1285.3" r="4.4" fill="#42ECB0"/>
<circle cx="981.7" cy="1284.4" r="4.4" fill="#42ECB0"/>
<circle cx="936.5" cy="1281.0" r="4.4" fill="#42ECB0"/>
<circle cx="949.1" cy="1280.2" r="4.4" fill="#42ECB0"/>
<circle cx="963.4" cy="1279.5" r="4.4" fill="#42ECB0"/>
<circle cx="975.9" cy="1281.1" r="4.4" fill="#42ECB0"/>
<circle cx="988.4" cy="1280.8" r="4.4" fill="#42ECB0"/>
<text x="965.5" y="1198.3" font-size="22.5" text-anchor="middle" font-weight="bold" >146/</text>
<text x="965.8" y="1225.4" font-size="22.5" text-anchor="middle" font-weight="bold" >146</text>
<line x1="929.30" y1="1274.90" x2="1001.80" y2="1274.90" stroke="#000" stroke-width="3.2" stroke-linecap="butt"/>
<g transform="translate(850.8,1208.5) rotate(-90)">
<text x="0.0" y="0.0" font-size="24.3" text-anchor="middle" font-weight="bold" ><tspan font-weight="normal" font-family="Liberation Serif, serif">&#916;</tspan>F<tspan font-size="17.7" dy="6.8">340</tspan><tspan dy="-6.8">/F</tspan><tspan font-size="17.7" dy="6.8">380</tspan></text>
</g>
<text transform="translate(713.57,1533.70) scale(0.9400,1)" font-size="108.58" font-weight="bold">H</text>
<line x1="912.00" y1="1617.45" x2="912.00" y2="1908.05" stroke="#000" stroke-width="3.7" stroke-linecap="butt"/>
<line x1="902.15" y1="1906.20" x2="912.00" y2="1906.20" stroke="#000" stroke-width="3.7" stroke-linecap="butt"/>
<text x="900.5" y="1914.7" font-size="23" text-anchor="end" font-weight="bold" >0.0</text>
<line x1="902.15" y1="1834.47" x2="912.00" y2="1834.47" stroke="#000" stroke-width="3.7" stroke-linecap="butt"/>
<text x="900.5" y="1843.0" font-size="23" text-anchor="end" font-weight="bold" >0.2</text>
<line x1="902.15" y1="1762.75" x2="912.00" y2="1762.75" stroke="#000" stroke-width="3.7" stroke-linecap="butt"/>
<text x="900.5" y="1771.2" font-size="23" text-anchor="end" font-weight="bold" >0.4</text>
<line x1="902.15" y1="1691.03" x2="912.00" y2="1691.03" stroke="#000" stroke-width="3.7" stroke-linecap="butt"/>
<text x="900.5" y="1699.5" font-size="23" text-anchor="end" font-weight="bold" >0.6</text>
<line x1="902.15" y1="1619.30" x2="912.00" y2="1619.30" stroke="#000" stroke-width="3.7" stroke-linecap="butt"/>
<text x="900.5" y="1627.8" font-size="23" text-anchor="end" font-weight="bold" >0.8</text>
<line x1="905.15" y1="1870.34" x2="912.00" y2="1870.34" stroke="#000" stroke-width="3.7" stroke-linecap="butt"/>
<line x1="905.15" y1="1798.61" x2="912.00" y2="1798.61" stroke="#000" stroke-width="3.7" stroke-linecap="butt"/>
<line x1="905.15" y1="1726.89" x2="912.00" y2="1726.89" stroke="#000" stroke-width="3.7" stroke-linecap="butt"/>
<line x1="905.15" y1="1655.16" x2="912.00" y2="1655.16" stroke="#000" stroke-width="3.7" stroke-linecap="butt"/>
<line x1="903.00" y1="1906.20" x2="1338.00" y2="1906.20" stroke="#000" stroke-width="3.7" stroke-linecap="butt"/>
<line x1="1002.80" y1="1906.20" x2="1002.80" y2="1916.00" stroke="#000" stroke-width="3.7" stroke-linecap="butt"/>
<line x1="1124.00" y1="1906.20" x2="1124.00" y2="1916.00" stroke="#000" stroke-width="3.7" stroke-linecap="butt"/>
<line x1="1245.00" y1="1906.20" x2="1245.00" y2="1916.00" stroke="#000" stroke-width="3.7" stroke-linecap="butt"/>
<g transform="translate(1009.6,1940.5) rotate(-45)">
<text x="0.0" y="0.0" font-size="23.5" text-anchor="end" font-weight="bold" >Ctrl</text>
</g>
<g transform="translate(1130.8,1940.5) rotate(-45)">
<text x="0.0" y="0.0" font-size="23.5" text-anchor="end" font-weight="bold" >siTRPA1</text>
</g>
<g transform="translate(1251.8,1940.5) rotate(-45)">
<text x="0.0" y="0.0" font-size="23.5" text-anchor="end" font-weight="bold" >HC-030031</text>
</g>
<text x="1044.8" y="1616.7" font-size="23" text-anchor="start" font-weight="bold" >4-HNE 30 <tspan font-weight="normal" font-family="Liberation Serif, serif" font-size="25.0" dx="1.5">&#181;</tspan><tspan font-size="24.5">M</tspan></text>
<line x1="1002.40" y1="1650.80" x2="1241.60" y2="1650.80" stroke="#000" stroke-width="3.8" stroke-linecap="butt"/>
<text x="1116.7" y="1650.3" font-size="25.5" text-anchor="middle" font-weight="bold" letter-spacing="3.4">***</text>
<line x1="1002.40" y1="1679.70" x2="1119.40" y2="1679.70" stroke="#000" stroke-width="3.8" stroke-linecap="butt"/>
<text x="1050.9" y="1679.9" font-size="25.5" text-anchor="middle" font-weight="bold" letter-spacing="3.4">***</text>
<text x="1002.4" y="1716.5" font-size="22.5" text-anchor="middle" font-weight="bold" >141/141</text>
<text x="1128.5" y="1845.9" font-size="22.5" text-anchor="middle" font-weight="bold" >55/105</text>
<text x="1243.5" y="1865.0" font-size="22.5" text-anchor="middle" font-weight="bold" >71/240</text>
<g transform="translate(851.2,1761.9) rotate(-90)">
<text x="0.0" y="0.0" font-size="24.3" text-anchor="middle" font-weight="bold" ><tspan font-weight="normal" font-family="Liberation Serif, serif">&#916;</tspan>F<tspan font-size="17.7" dy="6.8">340</tspan><tspan dy="-6.8">/F</tspan><tspan font-size="17.7" dy="6.8">380</tspan></text>
</g>
<circle cx="990.0" cy="1749.4" r="4.4" fill="#D4006E"/>
<circle cx="1002.8" cy="1751.1" r="4.4" fill="#D4006E"/>
<circle cx="1028.4" cy="1762.8" r="4.4" fill="#D4006E"/>
<circle cx="990.0" cy="1766.7" r="4.4" fill="#D4006E"/>
<circle cx="1002.8" cy="1768.3" r="4.4" fill="#D4006E"/>
<circle cx="1015.6" cy="1768.3" r="4.4" fill="#D4006E"/>
<circle cx="977.2" cy="1777.8" r="4.4" fill="#D4006E"/>
<circle cx="1015.6" cy="1781.7" r="4.4" fill="#D4006E"/>
<circle cx="990.0" cy="1784.4" r="4.4" fill="#D4006E"/>
<circle cx="1002.8" cy="1788.3" r="4.4" fill="#D4006E"/>
<circle cx="951.6" cy="1790.0" r="4.4" fill="#D4006E"/>
<circle cx="1054.0" cy="1795.6" r="4.4" fill="#D4006E"/>
<circle cx="964.4" cy="1796.7" r="4.4" fill="#D4006E"/>
<circle cx="1041.2" cy="1796.7" r="4.4" fill="#D4006E"/>
<circle cx="977.2" cy="1797.2" r="4.4" fill="#D4006E"/>
<circle cx="990.0" cy="1797.2" r="4.4" fill="#D4006E"/>
<circle cx="1028.4" cy="1797.2" r="4.4" fill="#D4006E"/>
<circle cx="1002.8" cy="1802.2" r="4.4" fill="#D4006E"/>
<circle cx="1015.6" cy="1802.2" r="4.4" fill="#D4006E"/>
<circle cx="1028.4" cy="1808.9" r="4.4" fill="#D4006E"/>
<circle cx="977.2" cy="1811.7" r="4.4" fill="#D4006E"/>
<circle cx="990.0" cy="1816.7" r="4.4" fill="#D4006E"/>
<circle cx="1015.6" cy="1816.7" r="4.4" fill="#D4006E"/>
<circle cx="1002.8" cy="1822.2" r="4.4" fill="#D4006E"/>
<circle cx="1054.0" cy="1830.6" r="4.4" fill="#D4006E"/>
<circle cx="964.4" cy="1835.6" r="4.4" fill="#D4006E"/>
<circle cx="977.2" cy="1835.6" r="4.4" fill="#D4006E"/>
<circle cx="990.0" cy="1835.6" r="4.4" fill="#D4006E"/>
<circle cx="1015.6" cy="1835.6" r="4.4" fill="#D4006E"/>
<circle cx="1028.4" cy="1835.6" r="4.4" fill="#D4006E"/>
<circle cx="1041.2" cy="1835.6" r="4.4" fill="#D4006E"/>
<circle cx="958.0" cy="1840.0" r="4.4" fill="#D4006E"/>
<circle cx="1002.8" cy="1840.0" r="4.4" fill="#D4006E"/>
<circle cx="951.6" cy="1843.3" r="4.4" fill="#D4006E"/>
<circle cx="970.8" cy="1843.3" r="4.4" fill="#D4006E"/>
<circle cx="983.6" cy="1843.3" r="4.4" fill="#D4006E"/>
<circle cx="996.4" cy="1843.3" r="4.4" fill="#D4006E"/>
<circle cx="1009.2" cy="1843.3" r="4.4" fill="#D4006E"/>
<circle cx="1022.0" cy="1843.3" r="4.4" fill="#D4006E"/>
<circle cx="1034.8" cy="1843.3" r="4.4" fill="#D4006E"/>
<circle cx="1054.0" cy="1845.6" r="4.4" fill="#D4006E"/>
<circle cx="964.4" cy="1850.0" r="4.4" fill="#D4006E"/>
<circle cx="1041.2" cy="1850.0" r="4.4" fill="#D4006E"/>
<circle cx="1002.8" cy="1895.0" r="4.4" fill="#D4006E"/>
<circle cx="951.8" cy="1888.3" r="4.4" fill="#D4006E"/>
<circle cx="965.0" cy="1888.7" r="4.4" fill="#D4006E"/>
<circle cx="977.7" cy="1888.6" r="4.4" fill="#D4006E"/>
<circle cx="989.1" cy="1887.7" r="4.4" fill="#D4006E"/>
<circle cx="1003.7" cy="1888.1" r="4.4" fill="#D4006E"/>
<circle cx="1016.4" cy="1887.0" r="4.4" fill="#D4006E"/>
<circle cx="1028.3" cy="1887.3" r="4.4" fill="#D4006E"/>
<circle cx="1041.3" cy="1887.9" r="4.4" fill="#D4006E"/>
<circle cx="1053.0" cy="1887.2" r="4.4" fill="#D4006E"/>
<circle cx="957.6" cy="1884.1" r="4.4" fill="#D4006E"/>
<circle cx="971.3" cy="1882.6" r="4.4" fill="#D4006E"/>
<circle cx="984.2" cy="1882.6" r="4.4" fill="#D4006E"/>
<circle cx="996.6" cy="1882.6" r="4.4" fill="#D4006E"/>
<circle cx="1008.2" cy="1884.0" r="4.4" fill="#D4006E"/>
<circle cx="1021.4" cy="1882.7" r="4.4" fill="#D4006E"/>
<circle cx="1035.8" cy="1884.0" r="4.4" fill="#D4006E"/>
<circle cx="1047.2" cy="1884.2" r="4.4" fill="#D4006E"/>
<circle cx="951.7" cy="1879.2" r="4.4" fill="#D4006E"/>
<circle cx="963.8" cy="1879.7" r="4.4" fill="#D4006E"/>
<circle cx="977.6" cy="1879.7" r="4.4" fill="#D4006E"/>
<circle cx="990.8" cy="1878.4" r="4.4" fill="#D4006E"/>
<circle cx="1002.5" cy="1878.1" r="4.4" fill="#D4006E"/>
<circle cx="1014.9" cy="1877.9" r="4.4" fill="#D4006E"/>
<circle cx="1028.0" cy="1879.0" r="4.4" fill="#D4006E"/>
<circle cx="1040.2" cy="1879.2" r="4.4" fill="#D4006E"/>
<circle cx="1053.7" cy="1878.4" r="4.4" fill="#D4006E"/>
<circle cx="958.6" cy="1874.3" r="4.4" fill="#D4006E"/>
<circle cx="970.4" cy="1874.3" r="4.4" fill="#D4006E"/>
<circle cx="984.0" cy="1873.4" r="4.4" fill="#D4006E"/>
<circle cx="997.4" cy="1873.3" r="4.4" fill="#D4006E"/>
<circle cx="1009.7" cy="1875.0" r="4.4" fill="#D4006E"/>
<circle cx="1021.0" cy="1874.9" r="4.4" fill="#D4006E"/>
<circle cx="1034.5" cy="1874.5" r="4.4" fill="#D4006E"/>
<circle cx="1046.6" cy="1873.4" r="4.4" fill="#D4006E"/>
<circle cx="951.0" cy="1870.7" r="4.4" fill="#D4006E"/>
<circle cx="963.8" cy="1870.3" r="4.4" fill="#D4006E"/>
<circle cx="978.1" cy="1870.7" r="4.4" fill="#D4006E"/>
<circle cx="989.7" cy="1869.5" r="4.4" fill="#D4006E"/>
<circle cx="1002.8" cy="1870.4" r="4.4" fill="#D4006E"/>
<circle cx="1014.8" cy="1870.3" r="4.4" fill="#D4006E"/>
<circle cx="1029.0" cy="1870.5" r="4.4" fill="#D4006E"/>
<circle cx="1040.3" cy="1870.7" r="4.4" fill="#D4006E"/>
<circle cx="1053.2" cy="1869.5" r="4.4" fill="#D4006E"/>
<circle cx="958.2" cy="1866.1" r="4.4" fill="#D4006E"/>
<circle cx="970.5" cy="1866.1" r="4.4" fill="#D4006E"/>
<circle cx="983.7" cy="1864.9" r="4.4" fill="#D4006E"/>
<circle cx="996.0" cy="1864.7" r="4.4" fill="#D4006E"/>
<circle cx="1008.4" cy="1864.6" r="4.4" fill="#D4006E"/>
<circle cx="1022.4" cy="1866.3" r="4.4" fill="#D4006E"/>
<circle cx="1034.1" cy="1864.4" r="4.4" fill="#D4006E"/>
<circle cx="1048.6" cy="1865.4" r="4.4" fill="#D4006E"/>
<circle cx="951.4" cy="1860.3" r="4.4" fill="#D4006E"/>
<circle cx="964.6" cy="1861.5" r="4.4" fill="#D4006E"/>
<circle cx="977.1" cy="1860.6" r="4.4" fill="#D4006E"/>
<circle cx="989.1" cy="1861.6" r="4.4" fill="#D4006E"/>
<circle cx="1001.9" cy="1860.8" r="4.4" fill="#D4006E"/>
<circle cx="1016.3" cy="1860.1" r="4.4" fill="#D4006E"/>
<circle cx="1028.9" cy="1861.7" r="4.4" fill="#D4006E"/>
<circle cx="1041.5" cy="1861.4" r="4.4" fill="#D4006E"/>
<circle cx="1053.2" cy="1860.7" r="4.4" fill="#D4006E"/>
<circle cx="957.3" cy="1857.0" r="4.4" fill="#D4006E"/>
<circle cx="970.4" cy="1856.2" r="4.4" fill="#D4006E"/>
<circle cx="984.6" cy="1857.0" r="4.4" fill="#D4006E"/>
<circle cx="997.4" cy="1856.2" r="4.4" fill="#D4006E"/>
<circle cx="1009.2" cy="1856.8" r="4.4" fill="#D4006E"/>
<circle cx="1022.0" cy="1855.9" r="4.4" fill="#D4006E"/>
<circle cx="1034.6" cy="1855.6" r="4.4" fill="#D4006E"/>
<circle cx="1047.4" cy="1857.3" r="4.4" fill="#D4006E"/>
<line x1="941.10" y1="1853.90" x2="1065.00" y2="1853.90" stroke="#000" stroke-width="3.2" stroke-linecap="butt"/>
<line x1="1062.00" y1="1892.40" x2="1182.00" y2="1892.40" stroke="#000" stroke-width="3.2" stroke-linecap="butt"/>
<circle cx="1071.5" cy="1900.5" r="4.4" fill="#F7A3A3"/>
<circle cx="1084.3" cy="1900.5" r="4.4" fill="#F7A3A3"/>
<circle cx="1097.1" cy="1900.5" r="4.4" fill="#F7A3A3"/>
<circle cx="1109.9" cy="1900.5" r="4.4" fill="#F7A3A3"/>
<circle cx="1122.7" cy="1900.5" r="4.4" fill="#F7A3A3"/>
<circle cx="1135.5" cy="1900.5" r="4.4" fill="#F7A3A3"/>
<circle cx="1148.3" cy="1900.5" r="4.4" fill="#F7A3A3"/>
<circle cx="1161.1" cy="1900.5" r="4.4" fill="#F7A3A3"/>
<circle cx="1173.9" cy="1900.5" r="4.4" fill="#F7A3A3"/>
<circle cx="1077.9" cy="1896.4" r="4.4" fill="#F7A3A3"/>
<circle cx="1090.7" cy="1896.4" r="4.4" fill="#F7A3A3"/>
<circle cx="1103.5" cy="1896.4" r="4.4" fill="#F7A3A3"/>
<circle cx="1116.3" cy="1896.4" r="4.4" fill="#F7A3A3"/>
<circle cx="1129.1" cy="1896.4" r="4.4" fill="#F7A3A3"/>
<circle cx="1141.9" cy="1896.4" r="4.4" fill="#F7A3A3"/>
<circle cx="1154.7" cy="1896.4" r="4.4" fill="#F7A3A3"/>
<circle cx="1167.5" cy="1896.4" r="4.4" fill="#F7A3A3"/>
<circle cx="1071.5" cy="1892.3" r="4.4" fill="#F7A3A3"/>
<circle cx="1084.3" cy="1892.3" r="4.4" fill="#F7A3A3"/>
<circle cx="1097.1" cy="1892.3" r="4.4" fill="#F7A3A3"/>
<circle cx="1109.9" cy="1892.3" r="4.4" fill="#F7A3A3"/>
<circle cx="1122.7" cy="1892.3" r="4.4" fill="#F7A3A3"/>
<circle cx="1135.5" cy="1892.3" r="4.4" fill="#F7A3A3"/>
<circle cx="1148.3" cy="1892.3" r="4.4" fill="#F7A3A3"/>
<circle cx="1161.1" cy="1892.3" r="4.4" fill="#F7A3A3"/>
<circle cx="1173.9" cy="1892.3" r="4.4" fill="#F7A3A3"/>
<circle cx="1077.9" cy="1888.2" r="4.4" fill="#F7A3A3"/>
<circle cx="1090.7" cy="1888.2" r="4.4" fill="#F7A3A3"/>
<circle cx="1103.5" cy="1888.2" r="4.4" fill="#F7A3A3"/>
<circle cx="1116.3" cy="1888.2" r="4.4" fill="#F7A3A3"/>
<circle cx="1129.1" cy="1888.2" r="4.4" fill="#F7A3A3"/>
<circle cx="1141.9" cy="1888.2" r="4.4" fill="#F7A3A3"/>
<circle cx="1154.7" cy="1888.2" r="4.4" fill="#F7A3A3"/>
<circle cx="1167.5" cy="1888.2" r="4.4" fill="#F7A3A3"/>
<circle cx="1071.5" cy="1884.1" r="4.4" fill="#F7A3A3"/>
<circle cx="1084.3" cy="1884.1" r="4.4" fill="#F7A3A3"/>
<circle cx="1097.1" cy="1884.1" r="4.4" fill="#F7A3A3"/>
<circle cx="1109.9" cy="1884.1" r="4.4" fill="#F7A3A3"/>
<circle cx="1122.7" cy="1884.1" r="4.4" fill="#F7A3A3"/>
<circle cx="1135.5" cy="1884.1" r="4.4" fill="#F7A3A3"/>
<circle cx="1148.3" cy="1884.1" r="4.4" fill="#F7A3A3"/>
<circle cx="1161.1" cy="1884.1" r="4.4" fill="#F7A3A3"/>
<circle cx="1173.9" cy="1884.1" r="4.4" fill="#F7A3A3"/>
<circle cx="1124.0" cy="1874.4" r="4.4" fill="#F7A3A3"/>
<circle cx="1095.8" cy="1875.4" r="4.4" fill="#F7A3A3"/>
<circle cx="1140.0" cy="1876.4" r="4.4" fill="#F7A3A3"/>
<circle cx="1108.0" cy="1879.3" r="4.4" fill="#F7A3A3"/>
<circle cx="1168.8" cy="1880.7" r="4.4" fill="#F7A3A3"/>
<circle cx="1156.0" cy="1881.2" r="4.4" fill="#F7A3A3"/>
<circle cx="1079.2" cy="1882.1" r="4.4" fill="#F7A3A3"/>
<circle cx="1116.3" cy="1879.0" r="4.4" fill="#F7A3A3"/>
<circle cx="1131.7" cy="1879.0" r="4.4" fill="#F7A3A3"/>
<circle cx="1192.9" cy="1900.5" r="4.4" fill="#6A6A6A"/>
<circle cx="1205.6" cy="1900.5" r="4.4" fill="#6A6A6A"/>
<circle cx="1218.3" cy="1900.5" r="4.4" fill="#6A6A6A"/>
<circle cx="1231.0" cy="1900.5" r="4.4" fill="#6A6A6A"/>
<circle cx="1243.7" cy="1900.5" r="4.4" fill="#6A6A6A"/>
<circle cx="1256.4" cy="1900.5" r="4.4" fill="#6A6A6A"/>
<circle cx="1269.1" cy="1900.5" r="4.4" fill="#6A6A6A"/>
<circle cx="1281.8" cy="1900.5" r="4.4" fill="#6A6A6A"/>
<circle cx="1294.5" cy="1900.5" r="4.4" fill="#6A6A6A"/>
<circle cx="1199.3" cy="1896.2" r="4.4" fill="#6A6A6A"/>
<circle cx="1212.0" cy="1896.2" r="4.4" fill="#6A6A6A"/>
<circle cx="1224.7" cy="1896.2" r="4.4" fill="#6A6A6A"/>
<circle cx="1237.4" cy="1896.2" r="4.4" fill="#6A6A6A"/>
<circle cx="1250.1" cy="1896.2" r="4.4" fill="#6A6A6A"/>
<circle cx="1262.8" cy="1896.2" r="4.4" fill="#6A6A6A"/>
<circle cx="1275.5" cy="1896.2" r="4.4" fill="#6A6A6A"/>
<circle cx="1288.2" cy="1896.2" r="4.4" fill="#6A6A6A"/>
<circle cx="1192.9" cy="1891.9" r="4.4" fill="#6A6A6A"/>
<circle cx="1205.6" cy="1891.9" r="4.4" fill="#6A6A6A"/>
<circle cx="1218.3" cy="1891.9" r="4.4" fill="#6A6A6A"/>
<circle cx="1231.0" cy="1891.9" r="4.4" fill="#6A6A6A"/>
<circle cx="1243.7" cy="1891.9" r="4.4" fill="#6A6A6A"/>
<circle cx="1256.4" cy="1891.9" r="4.4" fill="#6A6A6A"/>
<circle cx="1269.1" cy="1891.9" r="4.4" fill="#6A6A6A"/>
<circle cx="1281.8" cy="1891.9" r="4.4" fill="#6A6A6A"/>
<circle cx="1294.5" cy="1891.9" r="4.4" fill="#6A6A6A"/>
<circle cx="1199.3" cy="1887.6" r="4.4" fill="#6A6A6A"/>
<circle cx="1212.0" cy="1887.6" r="4.4" fill="#6A6A6A"/>
<circle cx="1224.7" cy="1887.6" r="4.4" fill="#6A6A6A"/>
<circle cx="1237.4" cy="1887.6" r="4.4" fill="#6A6A6A"/>
<circle cx="1250.1" cy="1887.6" r="4.4" fill="#6A6A6A"/>
<circle cx="1262.8" cy="1887.6" r="4.4" fill="#6A6A6A"/>
<circle cx="1275.5" cy="1887.6" r="4.4" fill="#6A6A6A"/>
<circle cx="1288.2" cy="1887.6" r="4.4" fill="#6A6A6A"/>
<circle cx="1206.9" cy="1883.5" r="4.0" fill="#6A6A6A"/>
<circle cx="1219.6" cy="1883.5" r="4.0" fill="#6A6A6A"/>
<circle cx="1232.3" cy="1883.5" r="4.0" fill="#6A6A6A"/>
<circle cx="1245.0" cy="1883.5" r="4.0" fill="#6A6A6A"/>
<circle cx="1257.7" cy="1883.5" r="4.0" fill="#6A6A6A"/>
<circle cx="1270.4" cy="1883.5" r="4.0" fill="#6A6A6A"/>
<circle cx="1283.1" cy="1883.5" r="4.0" fill="#6A6A6A"/>
<circle cx="1295.8" cy="1883.5" r="4.0" fill="#6A6A6A"/>
<circle cx="1200.5" cy="1885.0" r="4.0" fill="#6A6A6A"/>
<circle cx="1213.2" cy="1885.0" r="4.0" fill="#6A6A6A"/>
<circle cx="1226.0" cy="1885.0" r="4.0" fill="#6A6A6A"/>
<circle cx="1238.7" cy="1885.0" r="4.0" fill="#6A6A6A"/>
<circle cx="1251.3" cy="1885.0" r="4.0" fill="#6A6A6A"/>
<circle cx="1264.0" cy="1885.0" r="4.0" fill="#6A6A6A"/>
<circle cx="1276.8" cy="1885.0" r="4.0" fill="#6A6A6A"/>
<circle cx="1289.5" cy="1885.0" r="4.0" fill="#6A6A6A"/>
<line x1="1182.00" y1="1892.40" x2="1307.00" y2="1892.40" stroke="#000" stroke-width="3.2" stroke-linecap="butt"/>
</svg></body></html>
